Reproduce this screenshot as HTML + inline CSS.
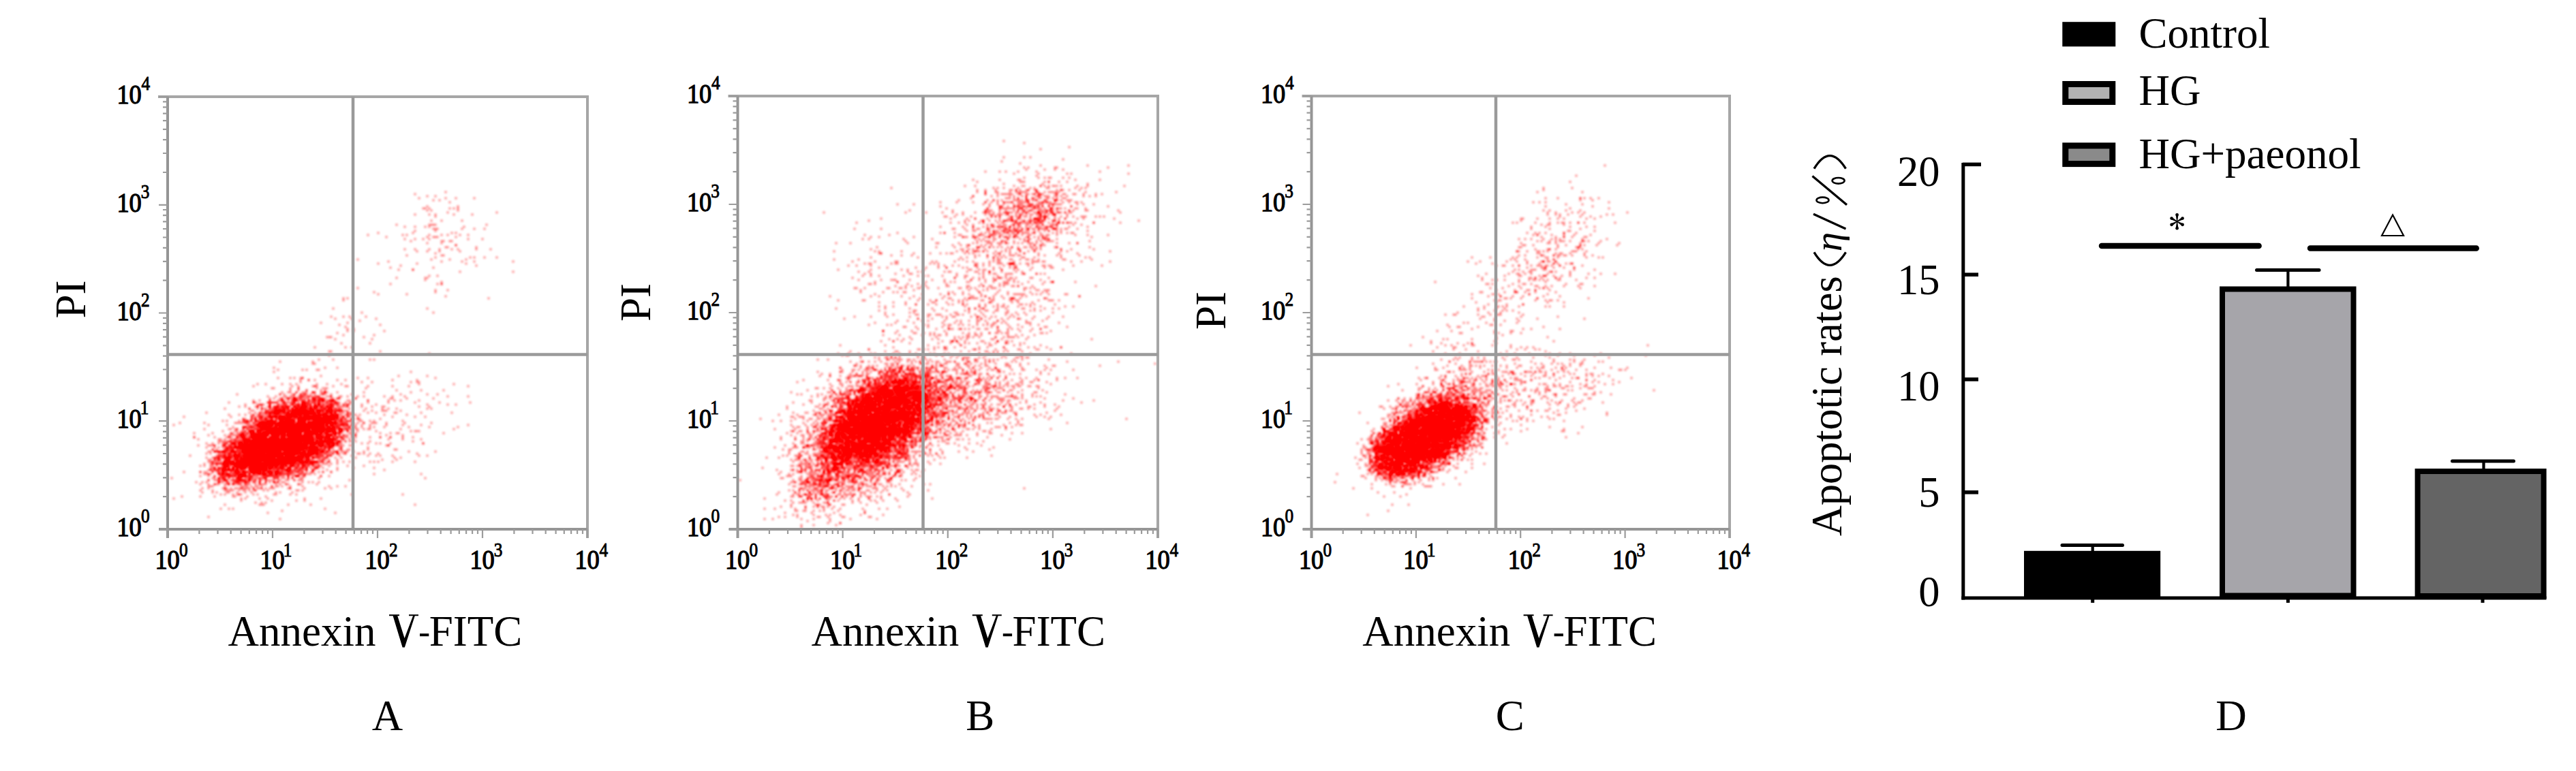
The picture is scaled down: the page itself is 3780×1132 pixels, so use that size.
<!DOCTYPE html><html><head><meta charset="utf-8"><style>html,body{margin:0;padding:0;background:#fff;width:3780px;height:1132px;overflow:hidden}svg{display:block}text{font-family:"Liberation Serif", serif;fill:#000}</style></head><body><svg width="3780" height="1132" viewBox="0 0 3780 1132"><rect width="3780" height="1132" fill="#fff"/><filter id="fA" filterUnits="userSpaceOnUse" x="236.0" y="132.0" width="636.0" height="655.0"><feGaussianBlur stdDeviation="1.4"/><feComponentTransfer><feFuncA type="table" tableValues="0 0.18 0.4 0.7 1 1"/></feComponentTransfer></filter><g filter="url(#fA)" stroke="#f00" stroke-opacity="0.4" stroke-width="3.6" stroke-linecap="square" fill="none"><path d="M627 288h0M615 291h0M660 297h0M627 303h0M630 306h0M633 309h0M582 330h0M633 330h0M642 336h0M678 336h0M627 348h0M660 354h0M663 366h0M672 366h0M699 366h0M612 369h0M627 369h0M696 378h0M711 378h0M678 384h0M642 417h0M639 426h0M597 432h0M495 489h0M558 516h0M543 528h0M495 540h0M408 543h0M465 543h0M603 546h0M432 555h0M453 558h0M531 561h0M435 564h0M489 567h0M540 567h0M474 570h3M426 573h0M423 576h0M444 576h0M477 576h0M534 576h0M411 579h0M441 579h0M474 579h3M429 582h0M501 582h0M510 582h0M564 582h0M396 585h0M402 585h0M435 585h0M462 585h0M498 585h0M522 585h0M381 588h0M429 588h3M453 588h0M459 588h0M468 588h0M474 588h0M486 588h3M540 588h0M372 591h0M396 591h0M405 591h0M417 591h0M429 591h0M444 591h0M453 591h3M468 591h0M480 591h0M486 591h0M495 591h0M513 591h0M417 594h0M426 594h3M438 594h0M444 594h6M468 594h0M486 594h0M492 594h0M510 594h0M627 594h0M351 597h0M360 597h0M417 597h6M435 597h3M447 597h0M456 597h0M462 597h0M480 597h3M564 597h0M615 597h0M330 600h0M405 600h3M414 600h0M420 600h0M429 600h0M435 600h0M441 600h0M450 600h0M456 600h0M462 600h0M471 600h0M477 600h0M483 600h3M513 600h0M537 600h0M402 603h0M414 603h0M423 603h0M432 603h12M450 603h0M456 603h0M462 603h3M471 603h3M480 603h6M495 603h6M567 603h0M588 603h0M384 606h0M390 606h0M396 606h0M405 606h3M414 606h3M423 606h0M429 606h6M441 606h6M453 606h3M462 606h6M480 606h0M492 606h0M618 606h0M381 609h0M396 609h0M423 609h15M444 609h0M450 609h0M456 609h0M462 609h9M477 609h3M489 609h0M495 609h0M519 609h3M384 612h3M396 612h3M405 612h9M420 612h18M444 612h0M450 612h3M477 612h0M486 612h3M495 612h0M504 612h0M525 612h0M381 615h0M390 615h0M405 615h0M411 615h0M417 615h0M426 615h0M435 615h18M459 615h24M516 615h0M525 615h0M360 618h0M366 618h0M378 618h0M384 618h0M393 618h6M414 618h6M426 618h0M432 618h0M438 618h6M459 618h3M474 618h9M492 618h0M498 618h3M510 618h3M549 618h0M348 621h0M354 621h0M360 621h3M372 621h0M384 621h3M393 621h33M435 621h12M453 621h3M465 621h9M480 621h12M501 621h3M546 621h0M552 621h0M255 624h0M369 624h3M378 624h12M399 624h0M411 624h9M426 624h0M435 624h0M444 624h9M462 624h9M486 624h0M495 624h3M504 624h6M375 627h6M387 627h0M405 627h0M411 627h18M438 627h6M450 627h9M465 627h9M483 627h0M492 627h3M510 627h3M519 627h0M564 627h0M357 630h0M363 630h0M384 630h3M393 630h0M405 630h36M447 630h6M465 630h3M489 630h0M501 630h0M507 630h0M525 630h0M543 630h0M327 633h0M345 633h0M357 633h3M366 633h0M372 633h0M378 633h0M387 633h0M393 633h6M405 633h6M417 633h21M444 633h3M456 633h9M471 633h3M483 633h0M501 633h3M510 633h0M603 633h0M609 633h0M354 636h0M363 636h0M369 636h0M375 636h0M381 636h0M387 636h3M396 636h12M417 636h0M423 636h3M435 636h6M450 636h0M456 636h3M465 636h0M471 636h0M492 636h0M498 636h0M513 636h0M558 636h0M306 639h0M336 639h0M351 639h3M369 639h0M375 639h0M381 639h3M399 639h15M423 639h3M432 639h0M438 639h3M450 639h3M462 639h0M468 639h0M483 639h3M507 639h0M285 642h0M339 642h0M348 642h0M357 642h0M366 642h0M372 642h18M399 642h9M414 642h0M429 642h6M441 642h15M465 642h0M471 642h6M483 642h0M498 642h0M324 645h0M330 645h0M345 645h0M360 645h0M375 645h18M399 645h9M414 645h3M423 645h0M429 645h21M456 645h3M468 645h3M477 645h3M486 645h6M504 645h0M513 645h0M327 648h0M345 648h6M357 648h3M372 648h6M384 648h0M393 648h9M408 648h21M435 648h0M441 648h6M459 648h6M471 648h9M489 648h0M507 648h0M303 651h0M330 651h3M342 651h3M354 651h0M360 651h3M369 651h0M378 651h0M384 651h6M396 651h15M417 651h18M450 651h15M471 651h0M489 651h0M495 651h0M501 651h0M531 651h0M558 651h0M291 654h0M330 654h0M348 654h3M360 654h3M369 654h6M381 654h0M387 654h9M402 654h15M426 654h0M441 654h0M447 654h0M456 654h0M471 654h3M480 654h0M486 654h3M570 654h0M303 657h0M315 657h0M333 657h0M339 657h0M345 657h9M360 657h0M366 657h51M426 657h3M435 657h3M444 657h0M453 657h9M477 657h6M489 657h0M318 660h0M330 660h3M342 660h0M348 660h3M357 660h12M375 660h3M387 660h0M393 660h0M399 660h9M414 660h3M423 660h3M438 660h0M444 660h0M453 660h6M474 660h0M483 660h0M489 660h0M510 660h3M315 663h0M339 663h0M348 663h3M357 663h0M363 663h3M372 663h18M396 663h15M417 663h6M429 663h0M435 663h6M447 663h0M453 663h0M459 663h18M309 666h0M336 666h3M345 666h0M354 666h18M378 666h0M384 666h3M393 666h0M399 666h15M426 666h12M444 666h3M456 666h15M480 666h0M507 666h0M330 669h0M342 669h0M351 669h3M363 669h9M378 669h0M384 669h0M390 669h6M402 669h0M411 669h3M420 669h12M438 669h0M444 669h6M456 669h0M468 669h6M486 669h0M516 669h0M552 669h0M327 672h6M339 672h0M345 672h3M354 672h9M369 672h3M381 672h0M387 672h0M393 672h3M402 672h0M408 672h0M423 672h0M429 672h0M435 672h9M459 672h0M330 675h3M351 675h0M357 675h0M363 675h9M378 675h3M387 675h12M405 675h0M411 675h0M423 675h0M429 675h0M435 675h3M453 675h0M312 678h0M330 678h0M336 678h0M342 678h0M348 678h21M375 678h6M390 678h6M402 678h6M420 678h12M444 678h0M450 678h0M456 678h0M462 678h3M483 678h0M609 678h0M318 681h0M324 681h3M333 681h0M342 681h6M357 681h33M396 681h0M402 681h6M414 681h0M420 681h0M429 681h0M456 681h0M480 681h0M294 684h0M327 684h0M333 684h0M342 684h9M363 684h6M378 684h0M384 684h15M405 684h6M420 684h0M426 684h6M438 684h0M453 684h0M312 687h0M321 687h3M330 687h0M336 687h0M348 687h0M354 687h6M369 687h0M375 687h0M381 687h3M390 687h0M396 687h9M411 687h0M423 687h0M465 687h0M549 687h0M318 690h0M327 690h9M342 690h0M348 690h0M360 690h0M369 690h6M381 690h0M390 690h0M402 690h0M408 690h0M414 690h0M423 690h3M441 690h0M450 690h0M459 690h0M270 693h0M294 693h0M312 693h0M321 693h3M330 693h0M345 693h6M369 693h0M375 693h6M387 693h0M393 693h3M405 693h3M414 693h0M423 693h0M435 693h3M444 693h0M474 693h0M306 696h3M348 696h0M357 696h0M366 696h0M372 696h0M390 696h0M396 696h9M414 696h6M441 696h0M447 696h0M315 699h0M351 699h3M363 699h6M384 699h0M390 699h0M396 699h0M405 699h0M435 699h3M447 699h0M471 699h0M321 702h0M366 702h9M390 702h0M402 702h0M423 702h0M468 702h0M624 702h0M306 705h0M330 705h0M354 705h0M363 705h3M375 705h0M381 705h0M432 705h0M324 708h0M333 708h0M348 708h0M363 708h0M381 708h0M390 708h0M402 708h0M417 708h0M318 711h0M336 711h0M381 711h3M420 711h0M312 714h0M297 717h0M306 717h0M327 717h0M345 717h0M357 717h0M366 717h0M372 717h0M330 720h0M312 723h0M336 723h0M351 726h0M378 726h0M516 726h0M267 729h0M294 729h0M360 732h0M393 732h0M447 735h0M477 747h0M393 753h0M492 753h0"/><path d="M654 291h0M669 291h0M696 291h0M624 306h0M729 312h0M630 315h0M639 315h0M693 315h0M630 330h0M639 330h0M714 330h0M696 336h0M639 339h0M591 345h0M675 345h0M594 351h0M630 351h0M687 351h0M720 366h0M633 381h0M648 384h0M588 390h0M648 417h0M549 429h0M717 438h0M489 453h0M513 465h0M492 468h0M528 471h0M504 492h0M546 498h0M501 504h0M543 504h0M483 516h0M549 528h0M462 534h0M402 540h0M477 540h0M450 543h0M468 543h0M627 552h0M426 555h0M444 555h0M576 558h0M465 564h0M480 564h0M666 564h0M372 567h0M438 567h0M462 567h0M687 567h0M402 570h0M438 570h0M465 570h0M435 576h0M459 576h3M471 576h0M432 579h0M444 579h0M462 579h0M627 579h0M444 582h0M459 582h0M468 582h0M486 582h0M423 585h0M432 585h0M441 585h0M459 585h0M471 585h0M477 585h0M486 585h0M414 588h0M435 588h0M444 588h3M453 588h0M465 588h0M474 588h0M480 588h0M489 588h0M540 588h0M393 591h0M417 591h0M423 591h0M444 591h3M468 591h0M474 591h3M486 591h0M492 591h0M516 591h0M540 591h0M690 591h0M381 594h3M396 594h0M420 594h0M432 594h6M444 594h0M453 594h0M465 594h9M480 594h0M489 594h0M504 594h0M531 594h0M396 597h0M411 597h0M423 597h0M432 597h0M444 597h9M459 597h0M465 597h0M474 597h0M489 597h0M495 597h0M378 600h0M387 600h0M402 600h0M411 600h6M423 600h0M429 600h0M441 600h6M456 600h3M465 600h0M477 600h0M627 600h0M384 603h0M390 603h0M405 603h6M417 603h0M435 603h0M444 603h0M459 603h0M468 603h0M480 603h0M489 603h3M498 603h6M510 603h0M564 603h0M381 606h0M396 606h15M417 606h6M429 606h12M450 606h12M468 606h0M474 606h3M483 606h3M492 606h0M504 606h0M540 606h0M552 606h0M582 606h0M360 609h0M369 609h3M399 609h0M414 609h0M429 609h3M441 609h0M447 609h3M462 609h3M477 609h3M486 609h3M495 609h0M528 609h0M270 612h0M375 612h3M384 612h0M393 612h3M402 612h3M411 612h6M423 612h3M435 612h6M447 612h3M459 612h3M468 612h3M477 612h3M486 612h9M510 612h0M576 612h0M375 615h0M387 615h0M393 615h0M399 615h0M408 615h0M414 615h0M420 615h3M429 615h0M441 615h0M447 615h0M453 615h6M471 615h3M486 615h3M495 615h0M501 615h0M507 615h0M519 615h0M357 618h0M363 618h0M369 618h0M375 618h0M396 618h3M420 618h0M426 618h6M438 618h9M453 618h0M465 618h3M474 618h6M486 618h0M492 618h0M501 618h3M381 621h0M387 621h0M396 621h0M411 621h0M420 621h9M453 621h0M459 621h3M468 621h6M480 621h9M498 621h0M534 621h0M306 624h0M378 624h0M384 624h0M393 624h6M405 624h0M411 624h6M423 624h24M456 624h6M468 624h6M480 624h0M486 624h0M495 624h0M504 624h3M522 624h0M357 627h3M366 627h0M390 627h6M402 627h0M411 627h0M417 627h0M429 627h0M435 627h0M441 627h12M459 627h0M465 627h0M471 627h9M489 627h0M495 627h3M543 627h0M348 630h0M366 630h0M372 630h0M387 630h6M399 630h0M408 630h3M417 630h3M426 630h0M432 630h0M438 630h3M450 630h0M459 630h3M468 630h9M486 630h6M507 630h0M516 630h0M522 630h0M369 633h3M381 633h0M387 633h0M396 633h15M420 633h12M438 633h6M450 633h3M459 633h3M480 633h3M489 633h0M498 633h0M525 633h0M612 633h3M285 636h0M339 636h0M366 636h3M378 636h0M384 636h0M390 636h9M408 636h0M417 636h0M423 636h3M438 636h0M447 636h9M462 636h3M471 636h0M480 636h0M330 639h0M354 639h0M360 639h0M369 639h0M375 639h3M384 639h3M393 639h0M399 639h9M417 639h0M423 639h0M429 639h12M447 639h12M465 639h6M480 639h12M498 639h0M504 639h0M510 639h0M336 642h0M354 642h3M369 642h3M378 642h0M384 642h0M390 642h0M396 642h0M402 642h3M414 642h3M423 642h0M429 642h0M435 642h3M447 642h24M489 642h0M495 642h0M504 642h0M543 642h0M558 642h0M573 642h0M591 642h0M606 642h0M321 645h0M345 645h0M354 645h3M372 645h12M390 645h0M396 645h0M402 645h9M417 645h6M432 645h6M444 645h0M453 645h3M462 645h0M471 645h0M480 645h6M501 645h0M519 645h0M339 648h3M357 648h3M366 648h6M393 648h12M411 648h30M450 648h9M483 648h0M489 648h0M498 648h3M507 648h0M543 648h0M321 651h0M339 651h0M351 651h0M363 651h12M384 651h3M393 651h15M414 651h3M423 651h0M429 651h0M435 651h3M444 651h3M462 651h0M471 651h6M483 651h6M495 651h0M540 651h0M573 651h0M306 654h0M327 654h0M339 654h0M345 654h0M354 654h6M366 654h21M396 654h6M408 654h3M420 654h0M426 654h0M432 654h0M447 654h3M459 654h0M468 654h6M483 654h0M489 654h0M495 654h0M339 657h0M345 657h9M360 657h0M366 657h6M378 657h0M384 657h9M402 657h12M423 657h0M432 657h0M438 657h18M465 657h0M474 657h3M483 657h0M498 657h3M540 657h0M312 660h0M333 660h6M357 660h12M375 660h0M384 660h12M402 660h0M411 660h3M423 660h12M441 660h0M447 660h6M462 660h0M471 660h0M477 660h0M483 660h0M582 660h0M315 663h3M324 663h3M333 663h0M342 663h3M351 663h0M357 663h27M390 663h3M399 663h3M408 663h0M423 663h9M438 663h0M444 663h3M453 663h0M465 663h0M471 663h0M492 663h0M333 666h3M345 666h0M351 666h0M360 666h9M375 666h0M381 666h6M393 666h3M402 666h3M411 666h0M417 666h3M435 666h0M441 666h3M450 666h6M465 666h0M474 666h3M486 666h3M495 666h0M534 666h0M543 666h0M555 666h0M321 669h6M336 669h3M345 669h3M354 669h15M375 669h0M381 669h12M399 669h9M414 669h0M420 669h15M444 669h0M453 669h0M462 669h0M474 669h0M486 669h0M615 669h0M303 672h0M321 672h0M327 672h3M342 672h3M351 672h0M357 672h3M366 672h3M378 672h0M384 672h9M399 672h3M414 672h15M435 672h0M441 672h0M450 672h0M462 672h3M480 672h0M309 675h0M321 675h0M333 675h3M345 675h6M357 675h3M366 675h9M381 675h3M390 675h6M405 675h12M423 675h0M432 675h12M450 675h3M495 675h0M306 678h0M318 678h0M330 678h0M336 678h0M342 678h0M351 678h0M357 678h0M369 678h3M378 678h0M390 678h3M399 678h0M405 678h0M411 678h9M426 678h3M435 678h0M441 678h0M456 678h6M471 678h0M309 681h0M318 681h3M327 681h6M339 681h0M345 681h0M354 681h9M369 681h9M390 681h3M399 681h9M423 681h9M441 681h9M459 681h0M486 681h0M300 684h0M327 684h6M345 684h0M354 684h9M372 684h0M384 684h0M390 684h9M405 684h0M414 684h0M420 684h0M429 684h0M438 684h0M444 684h3M453 684h0M468 684h0M324 687h0M336 687h0M342 687h0M354 687h0M360 687h0M366 687h6M387 687h0M393 687h3M405 687h0M414 687h0M423 687h3M435 687h0M441 687h3M450 687h0M465 687h0M309 690h0M315 690h3M327 690h0M333 690h0M339 690h0M345 690h3M354 690h0M366 690h3M375 690h6M387 690h0M393 690h3M408 690h0M417 690h3M435 690h3M459 690h0M564 690h0M318 693h0M327 693h0M348 693h0M357 693h6M369 693h0M378 693h0M396 693h3M405 693h0M414 693h0M420 693h3M429 693h0M459 693h0M474 693h0M486 693h0M300 696h0M327 696h6M351 696h0M360 696h0M372 696h0M378 696h15M408 696h3M423 696h0M447 696h0M456 696h0M462 696h0M618 696h0M324 699h6M339 699h0M351 699h0M357 699h6M393 699h0M408 699h3M435 699h0M471 699h0M312 702h0M324 702h3M336 702h0M348 702h6M378 702h3M387 702h0M321 705h0M342 705h3M351 705h0M357 705h0M366 705h0M381 705h0M423 705h0M321 708h0M345 708h3M372 708h0M381 708h0M390 708h0M453 708h0M459 708h0M468 708h0M321 711h0M342 711h12M366 711h0M375 714h0M399 714h0M405 714h0M333 717h0M363 717h0M381 717h3M426 717h0M375 720h0M393 720h0M438 720h0M297 723h0M318 723h0M348 723h0M348 726h0M345 729h0M255 732h0M447 732h0M471 732h0M399 735h0M330 741h0M381 741h0M609 741h0M324 747h0M414 750h0"/><path d="M636 294h0M645 294h0M666 306h0M627 309h0M666 315h0M636 330h0M594 333h0M624 333h0M681 333h0M636 336h0M609 339h0M597 345h0M708 351h0M603 354h0M699 363h0M645 366h0M648 375h0M729 378h0M660 381h0M684 387h0M606 396h0M624 408h3M624 411h0M648 414h0M648 417h0M657 426h0M639 429h0M555 432h0M504 441h0M510 474h0M510 483h0M549 492h0M486 495h0M507 510h0M516 510h0M486 516h0M459 531h0M444 543h0M471 552h0M441 555h0M525 555h0M540 555h0M615 561h0M390 564h0M426 564h0M615 564h0M510 567h0M477 573h0M414 576h0M426 576h0M447 576h0M480 576h0M495 576h0M348 579h0M450 579h0M642 579h0M405 582h0M420 582h0M432 582h0M441 582h0M447 582h0M456 582h0M468 582h0M486 582h0M657 582h0M687 582h0M411 585h0M423 585h0M435 585h0M450 585h0M462 585h0M471 585h3M495 585h0M522 585h0M636 585h0M414 588h0M423 588h0M432 588h6M462 588h0M474 588h0M483 588h0M510 588h3M375 591h0M408 591h0M420 591h0M426 591h0M432 591h0M453 591h0M462 591h0M492 591h0M570 591h0M609 591h0M378 594h3M408 594h12M429 594h0M435 594h0M441 594h12M462 594h0M468 594h0M477 594h0M486 594h3M504 594h3M513 594h0M375 597h3M396 597h0M408 597h0M414 597h0M420 597h0M432 597h0M438 597h9M456 597h0M471 597h0M480 597h0M486 597h0M498 597h0M510 597h0M531 597h0M561 597h0M366 600h0M384 600h0M396 600h3M405 600h3M423 600h0M429 600h0M435 600h0M444 600h0M453 600h3M462 600h0M477 600h0M486 600h0M495 600h3M561 600h0M633 600h0M399 603h3M426 603h0M432 603h0M444 603h0M450 603h0M456 603h3M468 603h0M492 603h3M501 603h0M507 603h0M393 606h0M402 606h3M411 606h3M423 606h3M435 606h9M450 606h0M459 606h9M474 606h3M486 606h0M498 606h3M513 606h0M351 609h0M396 609h0M402 609h0M408 609h3M420 609h0M426 609h3M438 609h0M444 609h6M468 609h0M474 609h0M486 609h0M510 609h0M516 609h0M597 609h0M369 612h0M381 612h0M390 612h3M399 612h0M405 612h12M426 612h0M432 612h0M441 612h0M447 612h0M453 612h0M465 612h9M480 612h12M513 612h0M609 612h0M624 612h0M369 615h0M384 615h0M390 615h0M411 615h0M417 615h0M447 615h0M462 615h27M558 615h0M327 618h0M333 618h0M360 618h3M375 618h0M387 618h6M405 618h0M411 618h3M423 618h6M444 618h6M465 618h3M477 618h6M528 618h0M543 618h0M363 621h0M378 621h6M393 621h3M402 621h0M408 621h6M420 621h3M429 621h3M438 621h0M444 621h3M456 621h3M465 621h3M474 621h0M483 621h9M504 621h3M519 621h0M567 621h0M363 624h0M390 624h0M396 624h0M405 624h3M414 624h15M435 624h0M441 624h9M456 624h0M462 624h3M471 624h3M480 624h0M486 624h3M501 624h0M510 624h0M687 624h0M342 627h0M357 627h0M381 627h3M390 627h0M396 627h3M405 627h0M411 627h0M420 627h0M429 627h0M435 627h9M450 627h0M456 627h0M462 627h9M480 627h3M489 627h0M513 627h0M348 630h0M363 630h0M369 630h0M375 630h0M381 630h0M390 630h0M396 630h12M414 630h0M420 630h3M432 630h27M465 630h0M474 630h0M480 630h0M489 630h3M498 630h6M348 633h0M369 633h0M378 633h3M390 633h0M399 633h0M405 633h12M423 633h12M441 633h0M450 633h0M456 633h0M462 633h0M468 633h6M480 633h12M501 633h0M363 636h0M375 636h0M390 636h3M399 636h6M414 636h3M423 636h0M432 636h9M447 636h0M453 636h9M480 636h0M486 636h12M522 636h0M582 636h0M345 639h0M363 639h0M372 639h6M384 639h9M402 639h3M417 639h15M438 639h0M447 639h9M465 639h3M480 639h0M486 639h0M492 639h0M591 639h0M333 642h0M357 642h6M372 642h9M387 642h0M402 642h0M414 642h3M426 642h3M435 642h3M444 642h0M450 642h6M465 642h3M477 642h6M489 642h0M495 642h0M501 642h0M510 642h0M516 642h0M348 645h0M357 645h0M363 645h24M396 645h3M405 645h3M414 645h0M423 645h6M435 645h9M450 645h6M477 645h0M483 645h3M492 645h0M324 648h0M336 648h0M348 648h6M366 648h6M378 648h15M399 648h3M411 648h3M420 648h12M438 648h3M447 648h9M465 648h0M471 648h0M477 648h0M483 648h3M495 648h3M513 648h3M606 648h0M342 651h3M351 651h3M363 651h0M369 651h3M378 651h9M393 651h0M399 651h3M408 651h0M417 651h0M423 651h3M432 651h12M450 651h0M459 651h0M465 651h3M480 651h0M489 651h9M621 651h0M312 654h0M330 654h0M354 654h39M399 654h0M405 654h18M429 654h9M444 654h3M462 654h0M471 654h0M483 654h0M489 654h0M495 654h0M327 657h9M348 657h0M354 657h0M366 657h15M387 657h0M396 657h30M432 657h9M447 657h0M456 657h9M471 657h0M477 657h0M486 657h0M330 660h0M354 660h0M360 660h0M366 660h9M381 660h9M396 660h3M405 660h3M417 660h21M444 660h0M465 660h0M483 660h0M540 660h0M321 663h0M330 663h0M339 663h0M345 663h0M354 663h3M372 663h0M384 663h9M399 663h0M411 663h0M417 663h3M426 663h18M450 663h0M456 663h6M474 663h0M480 663h0M495 663h0M510 663h0M303 666h0M324 666h0M330 666h0M351 666h0M360 666h0M366 666h9M381 666h0M387 666h0M393 666h0M402 666h9M417 666h18M444 666h3M453 666h0M459 666h0M465 666h0M495 666h3M324 669h0M330 669h9M345 669h3M357 669h0M366 669h12M387 669h9M405 669h0M411 669h0M420 669h3M429 669h0M438 669h0M447 669h3M471 669h0M558 669h0M312 672h0M321 672h0M333 672h0M354 672h0M360 672h6M372 672h3M381 672h9M402 672h0M411 672h0M417 672h3M426 672h18M453 672h0M459 672h0M465 672h0M474 672h6M492 672h0M579 672h0M315 675h0M321 675h0M336 675h0M354 675h9M369 675h3M378 675h0M384 675h12M402 675h3M414 675h6M426 675h0M432 675h12M450 675h0M468 675h0M483 675h0M330 678h3M348 678h0M354 678h0M360 678h6M372 678h6M384 678h0M393 678h6M408 678h18M432 678h6M447 678h0M453 678h0M459 678h0M474 678h0M480 678h0M504 678h0M543 678h0M300 681h0M312 681h0M324 681h0M330 681h3M342 681h3M351 681h45M408 681h0M414 681h3M435 681h0M444 681h0M459 681h0M318 684h0M333 684h3M351 684h3M363 684h15M384 684h6M396 684h6M408 684h0M414 684h0M420 684h0M426 684h0M450 684h0M459 684h3M468 684h3M534 684h0M309 687h0M315 687h0M321 687h0M327 687h0M336 687h0M342 687h0M348 687h0M360 687h3M369 687h3M384 687h3M396 687h0M402 687h0M408 687h9M435 687h0M495 687h0M324 690h0M330 690h0M336 690h3M348 690h0M354 690h0M381 690h0M387 690h3M399 690h0M414 690h9M441 690h0M450 690h0M462 690h0M294 693h0M330 693h0M345 693h0M357 693h0M363 693h3M372 693h3M381 693h3M390 693h0M396 693h3M417 693h0M432 693h0M444 693h0M450 693h0M459 693h0M303 696h3M321 696h15M348 696h0M375 696h6M387 696h0M411 696h0M432 696h0M438 696h0M315 699h0M330 699h9M351 699h9M396 699h0M402 699h3M423 699h0M435 699h0M447 699h0M327 702h0M351 702h0M363 702h3M387 702h3M402 702h6M414 702h3M429 702h0M306 705h0M315 705h0M330 705h3M339 705h0M348 705h3M357 705h0M366 705h3M375 705h0M408 705h0M444 705h0M288 708h0M297 708h0M348 708h6M360 708h0M372 708h0M381 708h0M396 708h0M402 708h0M408 708h0M444 708h0M315 711h0M333 711h0M342 711h0M360 711h0M381 711h0M309 714h0M357 714h3M507 714h0M360 717h0M390 717h0M426 717h0M477 717h0M333 720h3M369 723h0M429 723h0M354 726h0M435 726h0M342 729h0M390 729h0M354 735h0M456 741h0"/><path d="M609 285h0M621 306h0M660 306h0M672 309h0M657 312h0M639 318h0M648 324h0M678 324h0M630 333h0M639 336h0M663 342h0M657 345h0M636 348h0M609 351h0M669 360h0M657 363h0M594 366h0M597 375h0M639 378h0M612 387h0M753 399h0M642 405h0M573 417h0M504 438h0M486 465h0M552 468h0M471 474h0M498 477h0M558 477h0M510 486h0M534 495h0M483 522h0M459 534h0M585 552h0M444 555h0M462 558h0M441 561h0M546 561h0M603 561h0M378 564h0M414 564h0M429 567h0M507 567h0M399 570h0M426 570h0M438 570h0M450 573h0M450 576h0M477 576h0M603 576h0M429 579h3M441 582h3M453 582h0M465 582h0M480 582h3M534 582h0M576 582h0M414 585h0M432 585h0M453 585h0M459 585h0M468 585h3M498 585h0M573 585h0M396 588h0M408 588h0M417 588h0M429 588h0M435 588h0M441 588h0M468 588h6M483 588h6M579 588h0M588 588h0M615 588h0M336 591h0M402 591h0M414 591h0M429 591h3M444 591h3M468 591h0M480 591h0M495 591h0M384 594h0M396 594h0M438 594h0M456 594h0M468 594h0M474 594h0M510 594h0M657 594h0M396 597h0M405 597h0M414 597h0M432 597h0M441 597h0M456 597h0M462 597h3M477 597h9M504 597h0M546 597h0M630 597h0M384 600h0M405 600h0M429 600h3M447 600h0M459 600h6M471 600h3M483 600h0M492 600h0M570 600h0M582 600h0M369 603h0M393 603h0M405 603h12M423 603h3M432 603h0M438 603h0M447 603h3M459 603h0M468 603h3M480 603h6M495 603h0M561 603h0M366 606h0M381 606h0M405 606h3M420 606h0M429 606h0M438 606h3M447 606h12M480 606h6M492 606h0M510 606h0M336 609h0M372 609h0M381 609h3M393 609h0M405 609h0M420 609h0M426 609h0M432 609h3M441 609h0M450 609h6M474 609h3M492 609h3M501 609h0M513 609h0M372 612h0M384 612h0M396 612h6M411 612h0M423 612h6M435 612h0M444 612h0M456 612h12M480 612h3M492 612h3M504 612h0M372 615h0M381 615h0M396 615h0M411 615h0M420 615h6M438 615h0M447 615h0M453 615h0M462 615h0M468 615h0M483 615h12M357 618h0M363 618h0M381 618h0M393 618h0M399 618h3M411 618h6M423 618h0M429 618h3M438 618h3M447 618h0M453 618h0M462 618h12M480 618h0M486 618h0M495 618h0M510 618h3M351 621h0M357 621h3M372 621h0M390 621h3M399 621h3M411 621h15M441 621h6M453 621h3M462 621h0M468 621h9M486 621h0M492 621h3M501 621h0M507 621h0M633 621h0M375 624h3M387 624h3M399 624h0M405 624h3M414 624h12M438 624h6M450 624h0M456 624h6M471 624h9M486 624h0M492 624h0M498 624h6M516 624h0M567 624h0M618 624h0M360 627h0M369 627h0M381 627h12M405 627h0M411 627h0M417 627h0M426 627h12M453 627h3M462 627h3M471 627h6M483 627h0M489 627h9M504 627h0M513 627h0M375 630h9M390 630h3M399 630h3M408 630h15M429 630h3M438 630h0M444 630h0M453 630h0M459 630h3M468 630h3M477 630h0M483 630h3M498 630h0M510 630h3M534 630h0M369 633h0M378 633h6M396 633h15M417 633h0M423 633h6M435 633h0M441 633h0M447 633h9M468 633h3M477 633h9M492 633h0M498 633h0M312 636h0M339 636h0M357 636h3M369 636h3M387 636h12M405 636h12M423 636h18M450 636h0M456 636h3M465 636h0M471 636h0M477 636h0M492 636h0M498 636h0M573 636h0M339 639h3M351 639h6M375 639h0M381 639h9M399 639h0M405 639h12M423 639h0M429 639h9M444 639h0M453 639h6M474 639h0M480 639h6M492 639h0M498 639h0M504 639h0M519 639h0M354 642h0M366 642h21M396 642h6M408 642h6M426 642h0M435 642h6M447 642h6M459 642h0M465 642h3M474 642h0M480 642h0M501 642h0M573 642h0M351 645h0M357 645h9M381 645h0M387 645h0M393 645h3M402 645h0M408 645h0M414 645h12M432 645h6M450 645h6M465 645h0M471 645h0M483 645h0M591 645h0M321 648h0M339 648h0M354 648h0M360 648h3M369 648h15M393 648h6M408 648h3M417 648h3M426 648h15M447 648h6M465 648h0M471 648h15M492 648h0M498 648h0M342 651h0M351 651h9M372 651h9M390 651h0M396 651h0M405 651h6M417 651h0M429 651h3M438 651h3M447 651h0M456 651h0M462 651h0M471 651h3M480 651h0M486 651h0M492 651h3M621 651h0M315 654h0M336 654h0M342 654h3M351 654h3M360 654h3M369 654h12M387 654h0M393 654h18M417 654h0M423 654h0M429 654h6M441 654h9M459 654h3M468 654h15M489 654h3M570 654h0M321 657h0M333 657h15M354 657h12M372 657h3M381 657h12M405 657h0M411 657h0M417 657h21M447 657h6M459 657h6M480 657h6M501 657h0M312 660h0M336 660h6M348 660h0M354 660h0M360 660h3M369 660h6M381 660h6M393 660h9M408 660h3M417 660h9M432 660h9M450 660h0M456 660h0M462 660h12M483 660h0M579 660h0M309 663h0M318 663h0M324 663h6M342 663h3M357 663h3M369 663h6M381 663h6M393 663h18M420 663h18M447 663h0M456 663h0M462 663h0M471 663h0M480 663h0M486 663h6M507 663h0M534 663h0M600 663h0M321 666h0M330 666h0M348 666h0M363 666h3M378 666h30M414 666h3M426 666h9M441 666h0M453 666h6M468 666h0M477 666h0M483 666h0M495 666h0M612 666h0M345 669h6M360 669h54M420 669h3M444 669h0M450 669h9M465 669h0M480 669h3M498 669h0M627 669h0M318 672h0M324 672h0M336 672h0M345 672h3M354 672h0M369 672h24M399 672h3M408 672h0M414 672h0M423 672h0M432 672h0M438 672h0M444 672h9M468 672h0M522 672h0M588 672h0M306 675h0M315 675h3M324 675h0M333 675h0M360 675h0M366 675h0M372 675h0M378 675h6M390 675h9M411 675h0M417 675h0M429 675h0M435 675h0M441 675h0M447 675h0M456 675h0M477 675h0M561 675h0M582 675h0M330 678h3M339 678h3M348 678h0M357 678h12M375 678h6M387 678h24M420 678h9M441 678h0M447 678h3M459 678h12M549 678h0M312 681h0M330 681h9M348 681h6M366 681h6M378 681h3M387 681h9M402 681h3M411 681h3M420 681h6M447 681h0M453 681h6M465 681h0M495 681h0M330 684h0M345 684h6M357 684h3M369 684h0M378 684h12M399 684h0M405 684h0M414 684h0M432 684h0M438 684h0M444 684h0M465 684h0M510 684h0M315 687h0M330 687h0M342 687h0M348 687h6M366 687h3M375 687h0M381 687h3M390 687h0M396 687h3M414 687h0M423 687h3M438 687h6M462 687h0M519 687h0M315 690h0M327 690h0M336 690h0M342 690h0M351 690h0M357 690h0M366 690h21M408 690h3M420 690h0M426 690h0M432 690h0M438 690h0M444 690h0M495 690h0M327 693h0M348 693h0M354 693h0M360 693h0M369 693h3M378 693h0M387 693h0M396 693h0M402 693h9M486 693h0M321 696h0M327 696h0M333 696h0M339 696h3M348 696h0M354 696h0M360 696h0M366 696h0M381 696h0M387 696h0M396 696h0M405 696h0M426 696h0M294 699h0M306 699h0M324 699h0M336 699h0M342 699h3M354 699h3M369 699h3M378 699h0M387 699h0M393 699h0M402 699h0M414 699h0M423 699h0M429 699h3M315 702h0M321 702h0M330 702h0M348 702h3M360 702h0M366 702h0M405 702h3M423 702h0M444 702h0M324 705h3M354 705h3M372 705h0M384 705h0M390 705h3M441 705h0M321 708h0M336 708h0M351 708h0M360 708h0M402 708h0M408 708h0M294 711h0M306 711h0M342 711h0M351 711h0M375 711h0M438 711h3M354 714h0M363 714h0M378 714h0M399 714h0M444 714h0M483 714h0M354 717h0M378 717h0M447 717h0M486 717h0M339 720h0M360 720h0M366 720h0M375 720h0M360 723h0M372 726h0M402 726h3M354 732h0M384 738h0M390 738h0M384 741h0M336 747h0M342 747h0"/><path d="M654 282h0M672 306h0M555 342h0M540 345h0M630 345h0M648 345h0M687 345h0M567 348h0M642 348h0M669 348h0M651 354h0M627 357h0M654 363h0M609 366h0M630 366h0M675 369h0M651 375h0M570 384h0M753 384h0M555 387h0M573 393h0M636 393h0M606 396h0M675 399h0M630 405h0M510 438h0M531 459h0M636 459h0M519 486h0M564 486h0M468 528h0M489 528h0M411 531h0M402 546h0M441 558h0M453 558h0M495 558h0M612 561h0M462 567h3M600 567h0M537 570h0M438 573h0M450 573h0M618 573h0M651 573h0M459 576h3M411 579h0M447 579h0M474 579h0M516 579h0M393 582h0M417 582h0M453 582h0M462 582h0M498 582h0M594 582h0M426 585h6M438 585h0M444 585h3M459 585h3M468 585h0M489 585h0M597 585h0M396 588h0M411 588h0M444 588h3M462 588h0M471 588h3M489 588h3M372 591h0M396 591h9M450 591h0M459 591h6M507 591h0M645 591h0M387 594h0M396 594h0M429 594h0M447 594h0M456 594h0M462 594h0M483 594h3M495 594h3M378 597h0M402 597h6M414 597h0M420 597h0M426 597h0M432 597h6M444 597h0M450 597h0M462 597h3M471 597h3M480 597h0M501 597h0M510 597h0M366 600h0M396 600h0M417 600h6M435 600h3M444 600h12M480 600h6M498 600h3M396 603h3M405 603h6M417 603h0M429 603h12M447 603h0M453 603h6M465 603h0M471 603h3M480 603h9M498 603h0M546 603h0M390 606h0M399 606h0M405 606h3M429 606h0M435 606h24M468 606h3M480 606h0M486 606h0M516 606h0M663 606h0M378 609h0M396 609h0M408 609h0M417 609h15M438 609h3M447 609h0M453 609h0M459 609h3M471 609h0M477 609h0M492 609h0M510 609h0M564 609h0M339 612h0M369 612h0M396 612h0M405 612h0M417 612h0M423 612h3M432 612h3M441 612h0M450 612h9M465 612h3M474 612h12M504 612h0M357 615h0M369 615h0M375 615h0M384 615h0M390 615h0M399 615h0M405 615h9M432 615h0M438 615h21M465 615h3M477 615h0M483 615h21M516 615h0M525 615h0M351 618h0M375 618h0M384 618h3M402 618h3M414 618h0M420 618h9M438 618h0M444 618h3M459 618h9M477 618h0M489 618h3M498 618h0M507 618h0M591 618h0M345 621h0M366 621h0M381 621h15M402 621h0M414 621h6M426 621h3M435 621h6M447 621h18M474 621h0M480 621h0M486 621h0M492 621h0M516 621h0M534 621h0M594 621h0M333 624h0M375 624h0M381 624h0M387 624h0M396 624h3M408 624h0M417 624h15M438 624h12M456 624h9M471 624h0M480 624h0M486 624h0M501 624h0M510 624h0M531 624h0M543 624h0M591 624h0M360 627h0M366 627h6M387 627h6M405 627h0M414 627h9M429 627h9M444 627h9M459 627h0M474 627h0M483 627h0M531 627h0M549 627h0M630 627h0M672 627h0M339 630h0M345 630h0M384 630h0M393 630h18M420 630h6M432 630h0M438 630h15M459 630h0M465 630h6M480 630h9M498 630h3M666 630h0M366 633h6M378 633h0M390 633h6M402 633h0M414 633h24M444 633h0M450 633h0M465 633h3M474 633h3M483 633h6M501 633h0M510 633h0M516 633h0M348 636h0M357 636h0M369 636h3M381 636h12M399 636h15M420 636h0M426 636h6M441 636h0M453 636h0M462 636h9M477 636h3M489 636h6M501 636h0M651 636h0M348 639h0M354 639h6M366 639h0M372 639h9M387 639h6M402 639h6M414 639h3M423 639h0M429 639h9M447 639h3M465 639h3M474 639h6M516 639h0M522 639h0M567 639h0M285 642h0M348 642h0M357 642h3M369 642h6M381 642h9M402 642h3M420 642h0M426 642h0M432 642h3M441 642h6M453 642h0M459 642h0M468 642h9M483 642h0M495 642h0M501 642h0M507 642h0M291 645h0M342 645h0M360 645h0M366 645h0M375 645h0M381 645h12M399 645h6M411 645h0M417 645h0M429 645h6M441 645h0M447 645h0M453 645h6M468 645h3M477 645h0M483 645h0M489 645h0M495 645h0M504 645h0M570 645h0M618 645h0M333 648h0M360 648h9M375 648h33M423 648h3M432 648h3M441 648h0M447 648h3M456 648h3M465 648h6M477 648h3M486 648h0M498 648h0M312 651h0M330 651h0M342 651h6M354 651h0M360 651h0M366 651h0M372 651h3M381 651h15M402 651h12M420 651h12M438 651h3M447 651h9M462 651h0M468 651h6M483 651h0M552 651h0M309 654h0M330 654h0M339 654h0M345 654h0M354 654h3M366 654h12M384 654h3M393 654h3M402 654h6M414 654h9M429 654h0M444 654h6M456 654h0M468 654h3M486 654h0M498 654h0M513 654h3M567 654h0M342 657h0M351 657h0M357 657h18M381 657h3M390 657h12M408 657h3M420 657h12M438 657h9M456 657h6M333 660h0M342 660h0M351 660h0M357 660h0M363 660h3M375 660h0M384 660h0M390 660h3M405 660h0M417 660h6M432 660h3M441 660h0M447 660h3M456 660h12M498 660h3M306 663h0M315 663h0M321 663h0M327 663h6M342 663h0M354 663h0M360 663h0M366 663h21M393 663h3M405 663h0M411 663h0M420 663h12M438 663h0M447 663h0M453 663h0M459 663h3M474 663h0M483 663h0M495 663h0M504 663h0M519 663h0M339 666h3M363 666h6M375 666h6M387 666h0M393 666h3M402 666h3M414 666h12M432 666h0M438 666h0M444 666h9M459 666h6M471 666h0M504 666h3M528 666h0M318 669h0M330 669h0M345 669h3M360 669h9M375 669h6M387 669h3M396 669h12M429 669h0M441 669h3M450 669h0M456 669h0M480 669h0M540 669h0M576 669h0M315 672h0M330 672h0M336 672h3M360 672h6M372 672h12M390 672h0M396 672h3M405 672h3M414 672h15M435 672h6M459 672h3M471 672h0M477 672h0M501 672h0M321 675h0M336 675h0M345 675h3M354 675h0M360 675h0M366 675h12M384 675h3M393 675h0M402 675h0M408 675h15M429 675h3M438 675h3M450 675h3M459 675h0M471 675h3M312 678h3M321 678h9M336 678h3M345 678h30M390 678h0M408 678h3M417 678h3M426 678h6M441 678h3M450 678h0M456 678h0M462 678h3M513 678h0M555 678h0M576 678h0M318 681h3M327 681h0M333 681h12M354 681h0M360 681h3M369 681h15M390 681h3M399 681h0M408 681h3M417 681h0M429 681h0M435 681h3M450 681h6M462 681h0M468 681h0M477 681h0M309 684h3M333 684h0M348 684h0M357 684h3M369 684h9M384 684h6M396 684h0M402 684h3M414 684h3M426 684h3M435 684h0M447 684h0M483 684h0M315 687h0M330 687h3M342 687h3M351 687h9M369 687h12M387 687h9M405 687h3M417 687h0M423 687h0M432 687h0M444 687h0M450 687h0M456 687h0M462 687h0M468 687h0M306 690h0M312 690h0M321 690h0M330 690h0M339 690h0M345 690h3M357 690h0M369 690h0M375 690h9M390 690h6M402 690h0M423 690h0M447 690h3M300 693h3M321 693h0M333 693h0M339 693h0M345 693h0M351 693h0M357 693h6M369 693h3M378 693h9M393 693h0M399 693h0M405 693h0M411 693h0M423 693h6M438 693h3M468 693h0M333 696h3M342 696h3M354 696h3M366 696h0M381 696h9M396 696h3M405 696h3M423 696h3M441 696h0M450 696h3M549 696h0M333 699h12M351 699h9M369 699h0M393 699h0M399 699h0M408 699h0M438 699h0M444 699h0M483 699h0M252 702h0M327 702h3M348 702h0M381 702h0M441 702h0M330 705h3M345 705h0M351 705h0M360 705h0M390 705h0M396 705h6M420 705h0M438 705h0M513 705h0M303 708h0M321 708h0M327 708h0M345 708h0M360 708h0M366 708h0M405 708h0M315 711h0M336 711h0M360 711h0M390 711h0M306 714h0M369 714h0M384 714h0M408 714h0M495 714h0M330 717h0M348 717h6M372 717h0M384 717h0M402 717h0M423 717h0M312 720h0M342 720h0M351 720h0M387 720h0M333 723h0M324 726h0M351 726h0M363 729h0M381 732h0M435 735h0M387 741h0M423 741h0M306 759h0M411 762h0"/><path d="M639 288h0M672 303h0M609 315h0M633 324h0M609 333h0M711 336h0M606 342h0M669 342h0M639 348h0M621 351h0M648 354h0M663 354h0M648 357h0M669 360h0M645 369h0M639 372h0M690 378h0M525 381h0M684 381h0M696 384h0M699 390h0M585 396h0M582 408h0M525 423h0M654 435h0M627 453h0M504 465h0M537 465h0M516 468h0M507 480h0M519 483h0M480 495h3M492 498h0M462 510h0M630 519h0M408 555h0M639 555h0M507 558h0M612 558h0M501 564h0M459 567h0M576 567h0M480 570h0M471 573h0M582 573h0M435 576h0M459 576h0M474 576h3M417 579h0M441 579h0M447 579h0M456 579h0M471 579h0M486 579h0M588 579h0M426 582h0M438 582h0M450 582h0M465 582h0M525 582h0M414 585h0M420 585h3M432 585h0M441 585h0M465 585h0M474 585h0M495 585h0M576 585h0M372 588h0M414 588h0M432 588h0M453 588h9M468 588h0M477 588h0M486 588h0M570 588h0M393 591h0M399 591h0M417 591h0M432 591h0M438 591h0M444 591h6M459 591h0M471 591h0M483 591h0M489 591h3M498 591h0M360 594h0M408 594h0M444 594h0M462 594h0M468 594h0M483 594h0M495 594h0M552 594h0M669 594h0M378 597h0M384 597h0M393 597h3M402 597h6M417 597h0M423 597h0M444 597h0M450 597h0M462 597h9M486 597h3M507 597h0M390 600h0M402 600h0M411 600h0M417 600h0M435 600h9M468 600h0M474 600h0M483 600h0M489 600h3M372 603h0M390 603h3M411 603h9M426 603h21M453 603h0M459 603h0M465 603h3M474 603h3M486 603h0M534 603h0M303 606h0M375 606h0M387 606h18M417 606h0M423 606h0M429 606h6M447 606h9M468 606h0M489 606h3M510 606h0M579 606h0M387 609h3M402 609h3M411 609h0M423 609h0M459 609h3M468 609h9M483 609h6M495 609h3M507 609h0M381 612h0M402 612h0M414 612h6M447 612h0M453 612h12M477 612h6M489 612h0M495 612h6M510 612h0M357 615h3M375 615h0M390 615h0M399 615h0M411 615h12M429 615h3M438 615h12M456 615h0M462 615h0M471 615h6M489 615h0M501 615h0M507 615h0M528 615h0M369 618h0M378 618h0M390 618h0M396 618h3M405 618h0M411 618h0M423 618h3M441 618h0M456 618h0M462 618h9M480 618h3M501 618h0M516 618h0M531 618h0M264 621h0M300 621h0M375 621h0M381 621h9M402 621h6M417 621h15M438 621h3M453 621h0M459 621h6M471 621h0M477 621h0M483 621h3M495 621h0M510 621h0M525 621h0M549 621h0M366 624h0M378 624h3M387 624h0M393 624h39M438 624h0M444 624h15M477 624h3M486 624h6M516 624h0M357 627h0M363 627h0M369 627h3M378 627h0M384 627h0M396 627h6M408 627h0M417 627h24M450 627h12M468 627h3M483 627h6M507 627h0M522 627h0M600 627h0M300 630h0M336 630h0M357 630h0M378 630h0M384 630h3M396 630h0M402 630h3M411 630h3M426 630h0M444 630h0M450 630h3M459 630h30M495 630h6M510 630h0M540 630h0M588 630h0M354 633h0M360 633h0M366 633h0M372 633h0M381 633h3M393 633h0M405 633h3M414 633h0M420 633h0M426 633h6M438 633h0M444 633h0M450 633h3M462 633h12M492 633h0M498 633h3M510 633h0M552 633h0M342 636h0M351 636h6M369 636h3M378 636h3M387 636h0M393 636h0M399 636h0M408 636h9M426 636h3M441 636h0M447 636h0M453 636h0M459 636h6M471 636h6M483 636h0M489 636h3M516 636h0M585 636h0M357 639h0M369 639h3M378 639h6M390 639h3M405 639h0M417 639h9M435 639h9M450 639h6M465 639h6M480 639h6M522 639h0M315 642h0M336 642h0M348 642h3M372 642h0M378 642h12M396 642h3M405 642h3M414 642h3M423 642h0M429 642h3M438 642h15M468 642h3M480 642h3M489 642h3M522 642h0M558 642h0M339 645h0M363 645h0M372 645h9M387 645h12M405 645h3M414 645h21M444 645h0M450 645h3M459 645h6M474 645h0M486 645h6M330 648h0M336 648h0M345 648h0M360 648h3M369 648h3M378 648h12M396 648h12M414 648h6M426 648h12M444 648h0M456 648h3M465 648h9M486 648h0M495 648h0M522 648h0M327 651h0M333 651h0M339 651h0M351 651h6M369 651h9M387 651h0M393 651h0M399 651h6M414 651h9M429 651h6M441 651h0M447 651h21M480 651h3M489 651h0M315 654h0M327 654h0M336 654h0M351 654h3M360 654h0M366 654h15M387 654h0M396 654h48M453 654h6M465 654h0M471 654h0M477 654h0M489 654h0M501 654h3M345 657h0M354 657h0M363 657h0M372 657h0M381 657h9M399 657h21M426 657h9M444 657h0M450 657h0M456 657h3M465 657h6M486 657h0M363 660h3M372 660h0M378 660h18M402 660h3M411 660h12M429 660h3M444 660h0M456 660h6M468 660h0M477 660h0M501 660h0M321 663h0M327 663h0M336 663h6M348 663h0M357 663h15M384 663h6M396 663h0M402 663h0M408 663h0M414 663h0M420 663h0M429 663h9M453 663h15M474 663h0M480 663h0M495 663h0M501 663h0M639 663h0M327 666h0M336 666h0M345 666h0M351 666h18M378 666h3M387 666h0M393 666h12M417 666h9M432 666h0M441 666h6M459 666h0M489 666h0M525 666h0M279 669h0M321 669h0M327 669h0M336 669h0M342 669h3M351 669h0M357 669h9M372 669h27M405 669h0M411 669h6M426 669h3M438 669h3M450 669h3M465 669h3M483 669h0M315 672h6M333 672h6M348 672h3M360 672h0M366 672h24M396 672h3M408 672h18M432 672h0M438 672h0M447 672h6M459 672h0M468 672h0M330 675h0M336 675h12M354 675h3M363 675h0M369 675h0M375 675h15M396 675h9M411 675h15M441 675h0M474 675h0M309 678h0M339 678h3M354 678h0M360 678h6M375 678h0M381 678h6M393 678h6M405 678h0M414 678h6M426 678h0M432 678h0M438 678h15M465 678h0M474 678h0M483 678h0M495 678h0M315 681h0M330 681h0M339 681h3M348 681h9M363 681h3M375 681h12M396 681h12M414 681h3M423 681h0M429 681h3M438 681h6M474 681h0M330 684h9M345 684h9M360 684h0M369 684h0M375 684h0M381 684h6M411 684h0M417 684h3M429 684h0M444 684h3M459 684h0M321 687h0M327 687h3M342 687h0M354 687h3M366 687h0M375 687h6M387 687h3M396 687h3M411 687h3M426 687h0M435 687h0M447 687h3M465 687h0M474 687h0M309 690h0M321 690h0M327 690h0M333 690h3M342 690h0M348 690h0M366 690h6M378 690h3M387 690h3M405 690h0M420 690h12M459 690h0M480 690h0M312 693h0M327 693h0M339 693h3M351 693h0M357 693h0M369 693h6M381 693h0M393 693h0M405 693h3M426 693h0M435 693h0M456 693h0M321 696h6M336 696h0M345 696h0M351 696h3M360 696h0M366 696h0M372 696h3M387 696h0M399 696h0M405 696h0M411 696h9M429 696h0M444 696h0M327 699h0M345 699h9M360 699h0M366 699h0M375 699h0M387 699h3M399 699h0M417 699h0M423 699h0M435 699h3M321 702h0M336 702h0M342 702h0M354 702h0M369 702h0M384 702h0M390 702h0M429 702h0M318 705h3M330 705h0M342 705h0M348 705h0M354 705h0M360 705h0M366 705h0M411 705h0M432 705h0M333 708h0M342 708h0M357 708h0M363 708h0M375 708h0M414 708h0M330 711h0M336 711h0M363 711h0M387 711h0M405 711h0M411 711h0M420 711h3M438 711h0M465 711h0M330 714h0M414 714h0M426 714h0M330 717h0M339 717h0M396 717h3M294 720h0M357 720h0M372 720h0M435 720h0M444 720h0M405 723h0M411 723h0M330 726h0M342 726h0M426 726h0M591 726h0M315 729h0M375 738h0"/></g><path d="M232.0 142.0H862.0V790.0" stroke="#a6a6a6" stroke-width="4" fill="none"/><path d="M246.0 520.5H862.0M518.0 142.0V777.0" stroke="#9a9a9a" stroke-width="4.5" fill="none"/><path d="M246.0 142.0V790.0M233.0 777.0H862.0" stroke="#959595" stroke-width="4" fill="none"/><path d="M239.0 729.2H246.0M292.4 777.0V784.0M239.0 701.3H246.0M319.5 777.0V784.0M239.0 681.4H246.0M338.7 777.0V784.0M239.0 666.0H246.0M353.6 777.0V784.0M239.0 653.5H246.0M365.8 777.0V784.0M239.0 642.8H246.0M376.1 777.0V784.0M239.0 633.6H246.0M385.1 777.0V784.0M239.0 625.5H246.0M393.0 777.0V784.0M239.0 570.5H246.0M446.4 777.0V784.0M239.0 542.5H246.0M473.5 777.0V784.0M239.0 522.7H246.0M492.7 777.0V784.0M239.0 507.3H246.0M507.6 777.0V784.0M239.0 494.7H246.0M519.8 777.0V784.0M239.0 484.1H246.0M530.1 777.0V784.0M239.0 474.9H246.0M539.1 777.0V784.0M239.0 466.8H246.0M547.0 777.0V784.0M239.0 411.7H246.0M600.4 777.0V784.0M239.0 383.8H246.0M627.5 777.0V784.0M239.0 363.9H246.0M646.7 777.0V784.0M239.0 348.5H246.0M661.6 777.0V784.0M239.0 336.0H246.0M673.8 777.0V784.0M239.0 325.3H246.0M684.1 777.0V784.0M239.0 316.1H246.0M693.1 777.0V784.0M239.0 308.0H246.0M701.0 777.0V784.0M239.0 253.0H246.0M754.4 777.0V784.0M239.0 225.0H246.0M781.5 777.0V784.0M239.0 205.2H246.0M800.7 777.0V784.0M239.0 189.8H246.0M815.6 777.0V784.0M239.0 177.2H246.0M827.8 777.0V784.0M239.0 166.6H246.0M838.1 777.0V784.0M239.0 157.4H246.0M847.1 777.0V784.0M239.0 149.3H246.0M855.0 777.0V784.0M233.0 777.0H246.0M246.0 777.0V790.0M233.0 618.2H246.0M400.0 777.0V790.0M233.0 459.5H246.0M554.0 777.0V790.0M233.0 300.8H246.0M708.0 777.0V790.0M233.0 142.0H246.0M862.0 777.0V790.0" stroke="#9c9c9c" stroke-width="2.2" fill="none"/><text font-size="40.5" stroke="#000" stroke-width="1.3" transform="translate(227.40 835.40) scale(0.9 1)">10</text><text font-size="29" stroke="#000" stroke-width="1.0" transform="translate(263.04 817.00) scale(0.87 1)">0</text><text font-size="40.5" stroke="#000" stroke-width="1.3" transform="translate(171.40 787.20) scale(0.9 1)">10</text><text font-size="29" stroke="#000" stroke-width="1.0" transform="translate(207.04 767.20) scale(0.87 1)">0</text><text font-size="40.5" stroke="#000" stroke-width="1.3" transform="translate(381.40 835.40) scale(0.9 1)">10</text><text font-size="29" stroke="#000" stroke-width="1.0" transform="translate(415.78 817.00) scale(0.87 1)">1</text><text font-size="40.5" stroke="#000" stroke-width="1.3" transform="translate(171.40 628.45) scale(0.9 1)">10</text><text font-size="29" stroke="#000" stroke-width="1.0" transform="translate(205.78 608.45) scale(0.87 1)">1</text><text font-size="40.5" stroke="#000" stroke-width="1.3" transform="translate(535.40 835.40) scale(0.9 1)">10</text><text font-size="29" stroke="#000" stroke-width="1.0" transform="translate(570.89 817.00) scale(0.87 1)">2</text><text font-size="40.5" stroke="#000" stroke-width="1.3" transform="translate(171.40 469.70) scale(0.9 1)">10</text><text font-size="29" stroke="#000" stroke-width="1.0" transform="translate(206.89 449.70) scale(0.87 1)">2</text><text font-size="40.5" stroke="#000" stroke-width="1.3" transform="translate(689.40 835.40) scale(0.9 1)">10</text><text font-size="29" stroke="#000" stroke-width="1.0" transform="translate(724.79 817.00) scale(0.87 1)">3</text><text font-size="40.5" stroke="#000" stroke-width="1.3" transform="translate(171.40 310.95) scale(0.9 1)">10</text><text font-size="29" stroke="#000" stroke-width="1.0" transform="translate(206.79 290.95) scale(0.87 1)">3</text><text font-size="40.5" stroke="#000" stroke-width="1.3" transform="translate(843.40 835.40) scale(0.9 1)">10</text><text font-size="29" stroke="#000" stroke-width="1.0" transform="translate(879.51 817.00) scale(0.87 1)">4</text><text font-size="40.5" stroke="#000" stroke-width="1.3" transform="translate(171.40 152.20) scale(0.9 1)">10</text><text font-size="29" stroke="#000" stroke-width="1.0" transform="translate(207.51 132.20) scale(0.87 1)">4</text><text transform="translate(124.6 439.5) rotate(-90)" font-size="63" text-anchor="middle">PI</text><text x="334.60" y="948" font-size="63">Annexin</text><path d="M571.0 902.2L586.0 902.2L586.0 904.2L583.3 904.2L593.6 937L606.0 904.2L600.0 904.2L600.0 902.2L614.0 902.2L614.0 904.2L608.8 904.2L593.8 950.5L590.6 950.5L576.6 904.2L571.0 904.2Z"/><rect x="616.0" y="930.2" width="13.3" height="4"/><text x="629.80" y="948" font-size="63">FITC</text><text x="568.5" y="1071.6" font-size="63" text-anchor="middle">A</text><filter id="fB" filterUnits="userSpaceOnUse" x="1072.5" y="131.0" width="636.5" height="656.0"><feGaussianBlur stdDeviation="1.4"/><feComponentTransfer><feFuncA type="table" tableValues="0 0.18 0.4 0.7 1 1"/></feComponentTransfer></filter><g filter="url(#fB)" stroke="#f00" stroke-opacity="0.4" stroke-width="3.6" stroke-linecap="square" fill="none"><path d="M1512 231h0M1506 249h0M1533 261h0M1614 264h0M1539 267h0M1473 270h0M1530 270h0M1650 273h0M1473 276h0M1518 276h0M1446 279h0M1509 279h0M1551 279h0M1560 279h0M1434 282h0M1497 282h0M1545 282h3M1446 285h0M1482 285h0M1509 285h0M1527 285h3M1551 285h0M1521 288h3M1566 288h0M1479 291h0M1506 291h0M1515 291h0M1524 291h0M1551 291h0M1449 294h0M1509 294h0M1521 294h0M1572 294h0M1455 297h0M1464 297h0M1506 297h0M1524 297h0M1530 297h0M1539 297h0M1569 297h0M1497 300h0M1509 300h0M1521 300h0M1539 300h0M1554 300h0M1470 303h0M1494 303h0M1503 303h6M1524 303h0M1449 306h0M1479 306h0M1500 306h0M1506 306h0M1518 306h3M1335 309h0M1446 309h0M1488 309h0M1503 309h0M1515 309h0M1575 309h0M1359 312h0M1413 312h0M1446 312h0M1452 312h0M1458 312h0M1482 312h0M1518 312h0M1524 312h3M1542 312h3M1554 312h0M1563 312h0M1572 312h0M1446 315h0M1455 315h0M1479 315h0M1497 315h0M1515 315h0M1539 315h0M1548 315h0M1482 318h3M1524 318h0M1533 318h0M1575 318h0M1587 318h0M1593 318h0M1614 318h0M1482 321h0M1497 321h0M1512 321h0M1524 321h3M1563 321h0M1485 324h0M1500 324h3M1527 324h0M1548 324h0M1257 327h0M1407 327h0M1443 327h0M1491 327h0M1569 327h0M1488 330h0M1515 330h0M1548 330h0M1587 330h0M1428 333h0M1443 333h0M1464 333h0M1473 333h0M1524 333h3M1533 333h3M1401 336h0M1434 336h0M1476 336h3M1500 336h0M1509 336h0M1536 336h0M1545 336h0M1563 336h0M1458 339h3M1473 339h0M1488 339h3M1497 339h0M1539 339h0M1401 342h0M1446 342h0M1458 342h0M1494 342h0M1503 342h0M1545 342h0M1566 342h0M1269 345h0M1428 345h0M1437 345h0M1443 345h0M1467 345h0M1488 345h3M1512 345h0M1551 345h0M1290 348h0M1413 348h0M1419 348h0M1476 348h0M1488 348h0M1494 348h0M1518 348h0M1275 351h0M1461 351h0M1497 351h0M1533 351h0M1434 354h0M1470 354h3M1509 354h0M1539 354h0M1374 357h0M1470 357h0M1494 357h0M1521 357h0M1419 360h0M1440 360h0M1455 360h0M1467 360h0M1419 363h0M1434 363h0M1452 363h0M1464 363h0M1479 363h0M1485 363h0M1521 363h0M1476 366h0M1494 366h0M1557 366h0M1572 366h0M1290 369h0M1323 369h0M1509 369h0M1395 372h0M1482 372h0M1503 372h0M1437 375h0M1278 378h0M1419 378h0M1458 378h0M1224 381h0M1260 381h0M1401 384h0M1458 384h0M1488 384h0M1314 387h0M1371 387h0M1467 387h0M1482 387h0M1473 390h0M1533 390h0M1302 393h0M1389 393h0M1434 393h0M1467 393h0M1470 396h0M1260 399h0M1419 399h0M1269 402h0M1338 402h0M1452 402h0M1485 402h0M1503 402h0M1266 405h0M1290 405h0M1326 405h0M1362 405h0M1416 405h0M1437 408h0M1485 408h0M1458 411h3M1359 414h0M1533 414h0M1542 414h0M1347 417h0M1314 420h0M1392 420h0M1455 420h0M1608 420h0M1302 423h0M1329 423h0M1410 423h0M1425 423h0M1455 423h0M1503 423h0M1296 429h0M1317 429h0M1392 429h0M1398 429h0M1464 429h0M1401 432h0M1422 432h0M1479 432h0M1497 432h0M1446 435h0M1482 438h3M1347 441h0M1398 441h0M1413 441h0M1419 441h0M1443 441h0M1485 441h0M1494 441h0M1290 444h0M1407 444h0M1329 447h0M1473 447h0M1497 447h0M1506 447h0M1518 447h0M1437 450h0M1575 450h0M1299 453h0M1422 453h0M1431 453h0M1389 456h0M1437 456h0M1446 456h0M1461 456h0M1476 459h0M1347 462h0M1365 462h0M1377 462h0M1404 462h0M1476 462h0M1302 465h0M1434 465h0M1560 465h0M1440 468h0M1494 468h3M1317 471h0M1464 471h0M1383 474h0M1449 477h0M1458 477h0M1494 477h0M1383 480h0M1533 480h0M1392 483h0M1410 483h0M1446 483h0M1485 483h0M1296 486h0M1440 489h0M1452 489h0M1476 489h3M1527 489h0M1419 492h3M1500 492h0M1437 495h0M1473 495h0M1305 498h0M1326 498h0M1338 498h0M1410 498h0M1383 501h0M1398 501h0M1464 501h0M1452 504h0M1497 504h0M1233 507h0M1452 507h0M1497 507h0M1509 510h0M1362 513h0M1371 513h0M1431 513h0M1461 513h0M1494 513h0M1317 516h0M1410 516h0M1464 516h0M1479 516h0M1464 519h0M1572 519h0M1245 522h0M1263 522h0M1473 522h0M1353 525h0M1404 525h0M1416 525h0M1470 525h0M1494 525h0M1506 525h0M1335 528h0M1353 528h0M1365 528h0M1431 528h3M1446 528h0M1248 531h0M1266 531h0M1293 531h0M1350 531h0M1395 531h0M1452 531h0M1491 531h0M1299 534h0M1416 534h3M1446 534h0M1479 534h0M1254 537h0M1374 537h0M1383 537h0M1482 537h0M1263 540h0M1305 540h0M1341 540h0M1272 543h0M1287 543h0M1293 543h0M1308 543h6M1320 543h3M1341 543h0M1359 543h0M1413 543h0M1449 543h0M1503 543h0M1575 543h0M1233 546h3M1251 546h0M1302 546h0M1335 546h0M1383 546h0M1389 546h0M1467 546h0M1527 546h0M1299 549h0M1314 549h0M1338 549h3M1350 549h3M1359 549h0M1365 549h0M1410 549h0M1428 549h0M1293 552h0M1299 552h3M1311 552h0M1317 552h0M1341 552h6M1356 552h0M1362 552h0M1392 552h3M1437 552h0M1272 555h6M1296 555h3M1308 555h0M1314 555h0M1320 555h0M1329 555h3M1338 555h0M1353 555h0M1365 555h6M1392 555h0M1407 555h0M1437 555h0M1476 555h0M1551 555h0M1215 558h0M1230 558h0M1266 558h0M1275 558h0M1281 558h0M1287 558h0M1296 558h3M1308 558h6M1320 558h9M1338 558h0M1344 558h0M1350 558h0M1395 558h3M1434 558h0M1446 558h0M1269 561h0M1275 561h0M1287 561h0M1302 561h9M1320 561h0M1326 561h0M1332 561h0M1350 561h0M1371 561h0M1380 561h0M1398 561h0M1467 561h0M1269 564h0M1275 564h0M1290 564h0M1302 564h9M1320 564h3M1338 564h3M1356 564h0M1365 564h0M1371 564h3M1386 564h0M1410 564h0M1449 564h3M1476 564h0M1260 567h0M1281 567h3M1290 567h3M1299 567h0M1305 567h0M1329 567h3M1338 567h0M1347 567h0M1359 567h3M1371 567h0M1380 567h0M1386 567h0M1395 567h3M1404 567h6M1467 567h0M1197 570h0M1209 570h0M1218 570h0M1230 570h0M1287 570h0M1299 570h0M1314 570h0M1320 570h0M1329 570h21M1356 570h0M1380 570h0M1392 570h0M1401 570h0M1443 570h0M1449 570h3M1467 570h0M1248 573h0M1260 573h0M1275 573h0M1284 573h0M1293 573h15M1314 573h0M1323 573h3M1335 573h0M1341 573h0M1353 573h0M1374 573h3M1392 573h0M1404 573h0M1413 573h0M1473 573h0M1485 573h0M1530 573h0M1218 576h0M1224 576h0M1260 576h0M1269 576h0M1281 576h0M1293 576h0M1305 576h0M1311 576h9M1326 576h0M1335 576h0M1341 576h0M1347 576h0M1353 576h3M1362 576h0M1377 576h0M1395 576h0M1401 576h0M1446 576h0M1170 579h0M1221 579h0M1233 579h0M1248 579h0M1266 579h0M1272 579h0M1281 579h3M1290 579h0M1299 579h0M1305 579h3M1317 579h3M1326 579h9M1353 579h0M1359 579h0M1365 579h6M1386 579h3M1416 579h0M1212 582h0M1221 582h0M1245 582h0M1284 582h9M1302 582h3M1317 582h6M1329 582h6M1341 582h18M1365 582h3M1380 582h0M1386 582h0M1425 582h0M1437 582h0M1458 582h0M1464 582h0M1527 582h0M1218 585h0M1227 585h0M1245 585h0M1254 585h0M1260 585h12M1281 585h3M1290 585h9M1308 585h21M1338 585h0M1347 585h0M1356 585h3M1389 585h0M1410 585h3M1419 585h0M1428 585h0M1488 585h0M1533 585h0M1575 585h0M1209 588h0M1230 588h0M1236 588h0M1251 588h18M1278 588h3M1287 588h0M1293 588h6M1305 588h9M1320 588h9M1335 588h0M1344 588h3M1353 588h0M1362 588h0M1371 588h0M1380 588h3M1410 588h0M1416 588h0M1443 588h0M1470 588h0M1482 588h0M1164 591h0M1224 591h0M1236 591h0M1245 591h0M1251 591h6M1266 591h3M1275 591h45M1329 591h0M1335 591h0M1341 591h0M1350 591h0M1359 591h3M1422 591h0M1203 594h0M1236 594h0M1242 594h0M1251 594h0M1257 594h6M1275 594h0M1281 594h6M1293 594h0M1299 594h3M1308 594h9M1326 594h3M1335 594h6M1347 594h3M1371 594h0M1428 594h0M1434 594h0M1476 594h0M1482 594h0M1518 594h0M1209 597h0M1221 597h3M1236 597h0M1245 597h3M1257 597h3M1266 597h0M1272 597h3M1284 597h18M1308 597h12M1332 597h6M1344 597h3M1383 597h0M1401 597h0M1452 597h0M1473 597h0M1233 600h0M1239 600h0M1248 600h0M1254 600h3M1263 600h0M1272 600h9M1296 600h30M1332 600h0M1341 600h0M1347 600h3M1362 600h0M1368 600h0M1410 600h0M1440 600h3M1458 600h0M1500 600h0M1233 603h3M1251 603h0M1257 603h12M1278 603h0M1287 603h0M1299 603h6M1314 603h0M1320 603h0M1335 603h0M1371 603h3M1482 603h0M1212 606h0M1233 606h0M1239 606h15M1260 606h9M1275 606h0M1287 606h9M1302 606h3M1311 606h3M1320 606h9M1335 606h3M1350 606h0M1449 606h0M1491 606h0M1536 606h0M1197 609h0M1224 609h0M1245 609h3M1257 609h3M1266 609h12M1284 609h0M1293 609h3M1302 609h0M1308 609h6M1323 609h9M1341 609h0M1347 609h0M1365 609h0M1380 609h0M1392 609h0M1557 609h0M1206 612h0M1227 612h12M1245 612h0M1251 612h0M1257 612h21M1287 612h3M1302 612h9M1320 612h3M1329 612h3M1338 612h3M1353 612h0M1368 612h0M1374 612h0M1380 612h6M1392 612h0M1401 612h0M1407 612h0M1431 612h0M1437 612h0M1443 612h0M1521 612h0M1167 615h0M1191 615h0M1200 615h0M1218 615h0M1230 615h0M1239 615h0M1245 615h3M1254 615h24M1284 615h9M1299 615h3M1311 615h3M1320 615h0M1326 615h12M1347 615h0M1356 615h0M1368 615h0M1431 615h0M1449 615h0M1146 618h0M1209 618h0M1218 618h0M1224 618h3M1233 618h3M1242 618h0M1251 618h27M1284 618h0M1290 618h6M1302 618h0M1308 618h3M1317 618h0M1332 618h0M1338 618h0M1347 618h0M1356 618h0M1362 618h0M1383 618h0M1410 618h0M1494 618h0M1206 621h0M1212 621h0M1239 621h12M1257 621h6M1269 621h0M1275 621h9M1290 621h0M1296 621h0M1305 621h0M1311 621h0M1317 621h15M1338 621h0M1353 621h0M1362 621h0M1383 621h0M1395 621h0M1422 621h0M1197 624h0M1221 624h3M1230 624h3M1245 624h6M1257 624h0M1266 624h6M1278 624h12M1296 624h3M1308 624h3M1320 624h0M1326 624h0M1356 624h0M1386 624h0M1392 624h0M1407 624h0M1428 624h0M1194 627h0M1203 627h0M1215 627h0M1221 627h3M1230 627h0M1236 627h6M1248 627h9M1266 627h3M1275 627h3M1284 627h0M1290 627h3M1299 627h0M1305 627h12M1332 627h0M1347 627h9M1416 627h0M1431 627h0M1185 630h0M1206 630h0M1230 630h3M1239 630h6M1251 630h3M1260 630h3M1269 630h0M1278 630h3M1287 630h15M1308 630h12M1332 630h0M1338 630h0M1350 630h0M1398 630h3M1419 630h0M1194 633h0M1215 633h9M1230 633h0M1236 633h3M1245 633h15M1269 633h12M1287 633h3M1296 633h0M1311 633h0M1317 633h0M1329 633h0M1335 633h3M1353 633h0M1365 633h0M1380 633h0M1443 633h0M1188 636h0M1209 636h0M1218 636h0M1236 636h0M1245 636h3M1254 636h0M1260 636h0M1266 636h6M1278 636h6M1290 636h0M1302 636h3M1311 636h3M1320 636h6M1341 636h0M1347 636h0M1356 636h0M1362 636h0M1485 636h0M1500 636h0M1161 639h0M1206 639h3M1218 639h3M1230 639h0M1239 639h3M1248 639h0M1254 639h0M1263 639h21M1290 639h18M1314 639h9M1335 639h3M1356 639h3M1188 642h0M1209 642h0M1221 642h0M1227 642h18M1254 642h12M1272 642h18M1299 642h0M1305 642h0M1311 642h0M1329 642h3M1353 642h0M1359 642h0M1449 642h0M1167 645h0M1188 645h0M1200 645h0M1206 645h0M1218 645h0M1227 645h0M1233 645h0M1242 645h0M1254 645h9M1269 645h9M1284 645h6M1296 645h3M1305 645h0M1320 645h0M1326 645h3M1341 645h0M1353 645h0M1221 648h6M1233 648h3M1245 648h3M1266 648h0M1272 648h3M1284 648h3M1296 648h0M1302 648h3M1320 648h0M1329 648h0M1338 648h0M1194 651h0M1203 651h15M1236 651h9M1251 651h6M1263 651h0M1269 651h3M1284 651h6M1296 651h0M1305 651h0M1311 651h0M1329 651h0M1341 651h3M1182 654h3M1206 654h0M1215 654h3M1230 654h6M1248 654h3M1257 654h3M1266 654h0M1272 654h3M1287 654h9M1308 654h3M1323 654h3M1344 654h0M1377 654h0M1170 657h0M1194 657h0M1200 657h0M1206 657h0M1215 657h0M1221 657h0M1227 657h3M1236 657h3M1245 657h0M1251 657h3M1263 657h0M1269 657h0M1275 657h3M1287 657h0M1293 657h9M1308 657h0M1320 657h0M1326 657h3M1350 657h0M1359 657h0M1458 657h0M1212 660h3M1221 660h6M1242 660h3M1263 660h3M1272 660h0M1278 660h6M1293 660h3M1317 660h0M1203 663h3M1212 663h3M1227 663h3M1239 663h0M1251 663h18M1281 663h3M1293 663h0M1299 663h0M1305 663h3M1317 663h3M1326 663h0M1356 663h0M1218 666h0M1224 666h9M1239 666h9M1257 666h0M1263 666h15M1284 666h3M1293 666h0M1320 666h0M1215 669h0M1221 669h0M1233 669h6M1245 669h0M1251 669h0M1266 669h3M1275 669h0M1281 669h18M1305 669h0M1323 669h0M1335 669h0M1455 669h0M1203 672h0M1209 672h0M1221 672h0M1230 672h3M1242 672h6M1257 672h0M1266 672h0M1278 672h3M1287 672h0M1293 672h0M1302 672h0M1308 672h0M1317 672h0M1329 672h0M1335 672h0M1341 672h0M1380 672h0M1182 675h0M1212 675h3M1227 675h3M1236 675h0M1242 675h0M1275 675h0M1281 675h0M1287 675h0M1329 675h3M1371 675h0M1212 678h0M1218 678h0M1236 678h0M1242 678h0M1263 678h6M1275 678h0M1287 678h0M1293 678h3M1317 678h0M1326 678h0M1206 681h0M1224 681h9M1242 681h0M1248 681h0M1257 681h0M1263 681h0M1269 681h0M1284 681h3M1305 681h0M1344 681h0M1176 684h0M1182 684h0M1191 684h0M1200 684h0M1215 684h3M1224 684h0M1233 684h3M1257 684h0M1266 684h6M1278 684h0M1302 684h0M1338 684h0M1176 687h0M1188 687h0M1227 687h3M1242 687h0M1248 687h0M1254 687h3M1278 687h0M1140 690h0M1182 690h0M1191 690h0M1200 690h0M1227 690h0M1254 690h0M1260 690h6M1278 690h0M1308 690h0M1344 690h0M1170 693h0M1176 693h0M1209 693h0M1215 693h3M1230 693h0M1260 693h0M1269 693h0M1314 693h0M1326 693h0M1143 696h0M1209 696h0M1218 696h0M1272 696h0M1281 696h0M1287 696h0M1305 696h0M1314 696h0M1194 699h0M1200 699h0M1215 699h0M1230 699h0M1245 699h0M1257 699h3M1146 702h0M1185 702h3M1194 702h0M1200 702h3M1239 702h0M1254 702h0M1260 702h0M1287 702h0M1308 702h0M1344 702h0M1182 705h0M1203 705h0M1218 705h0M1227 705h0M1236 705h3M1248 705h3M1269 705h3M1329 705h0M1179 708h0M1185 708h0M1194 708h0M1209 708h3M1239 708h0M1257 708h0M1188 711h0M1236 711h0M1254 711h0M1260 711h3M1356 711h0M1212 714h0M1221 714h0M1242 714h0M1278 714h0M1302 714h0M1338 714h0M1176 717h0M1182 717h0M1197 717h3M1221 717h0M1323 717h0M1179 720h0M1245 720h0M1251 720h0M1260 720h0M1272 720h0M1188 723h0M1224 723h0M1332 723h0M1179 726h0M1206 726h0M1233 726h0M1245 726h0M1251 726h0M1269 726h0M1209 729h0M1215 729h0M1227 729h0M1263 729h0M1215 732h3M1224 735h0M1209 738h0M1215 738h0M1200 741h0M1239 741h0M1200 744h0M1215 744h0M1224 744h0M1179 750h0M1194 750h0M1287 762h0M1233 768h0M1176 771h0M1227 771h0"/><path d="M1503 210h0M1560 234h0M1470 237h0M1497 240h0M1494 252h0M1614 252h0M1488 255h0M1542 261h0M1434 267h0M1500 267h0M1533 267h0M1566 267h0M1488 273h0M1527 273h0M1539 273h0M1596 273h0M1464 276h0M1512 276h0M1518 279h0M1446 282h0M1461 282h0M1494 282h0M1521 282h0M1542 282h0M1551 282h3M1446 285h0M1470 285h0M1563 285h0M1575 285h0M1428 288h0M1506 288h0M1527 288h0M1533 288h0M1539 288h0M1599 288h0M1476 291h0M1494 291h0M1515 291h0M1545 291h0M1458 294h0M1515 294h0M1533 294h0M1548 294h3M1569 294h0M1446 297h0M1503 297h0M1509 297h0M1527 297h0M1533 297h0M1548 297h0M1560 297h0M1452 300h0M1464 300h0M1530 300h0M1545 300h0M1494 303h0M1524 303h0M1539 303h0M1389 306h0M1473 306h0M1497 306h0M1542 306h0M1551 306h0M1593 306h0M1449 309h0M1476 309h0M1539 309h0M1569 309h0M1641 309h0M1398 312h0M1446 312h0M1476 312h0M1494 312h0M1500 312h0M1536 312h0M1554 312h3M1563 312h0M1464 315h0M1512 315h0M1527 315h0M1545 315h0M1386 318h0M1461 318h0M1506 318h0M1512 318h0M1527 318h0M1419 321h0M1485 321h0M1533 321h0M1554 321h0M1590 321h0M1443 324h0M1473 324h3M1482 324h3M1524 324h0M1545 324h0M1416 327h0M1497 327h3M1506 327h0M1518 327h6M1554 327h0M1566 327h0M1542 330h0M1551 330h0M1413 333h0M1428 333h0M1458 333h0M1470 333h0M1482 333h0M1488 333h0M1497 333h0M1536 333h0M1416 336h0M1449 336h0M1488 336h3M1500 336h0M1506 336h3M1515 336h0M1545 336h0M1557 336h0M1566 336h0M1482 339h0M1491 339h0M1533 339h0M1557 339h0M1386 342h0M1440 342h0M1458 342h0M1467 342h0M1476 342h0M1494 342h0M1407 345h0M1437 345h0M1452 345h0M1470 345h0M1509 345h0M1530 345h0M1536 345h0M1278 348h0M1341 348h0M1452 348h0M1467 348h0M1488 348h3M1509 348h0M1530 348h3M1443 351h0M1479 351h0M1551 351h0M1542 354h3M1599 354h0M1407 357h0M1428 357h0M1488 357h0M1500 357h0M1530 357h0M1581 357h0M1446 360h0M1518 360h0M1287 363h0M1374 363h0M1437 363h0M1503 363h0M1548 363h0M1278 366h0M1422 366h0M1482 366h0M1494 366h0M1284 369h0M1482 369h0M1497 369h0M1629 369h0M1365 372h0M1524 372h0M1554 372h0M1584 375h0M1347 378h0M1407 381h0M1413 381h0M1485 381h0M1515 381h0M1524 381h0M1563 381h0M1602 381h0M1251 384h0M1317 384h0M1368 384h0M1374 384h0M1428 384h0M1515 384h0M1530 384h0M1629 384h0M1278 387h0M1377 387h0M1434 387h0M1485 387h0M1257 390h0M1377 390h0M1407 390h0M1509 390h0M1575 390h0M1419 393h0M1482 393h0M1491 393h0M1560 396h0M1431 399h0M1443 399h0M1452 399h0M1437 402h0M1521 402h0M1383 405h0M1428 408h0M1458 408h0M1470 408h0M1539 408h0M1260 411h0M1293 411h0M1314 411h0M1437 411h0M1461 411h0M1479 411h0M1527 411h0M1317 414h0M1419 414h3M1473 414h0M1479 414h0M1578 414h0M1275 417h0M1356 417h0M1476 417h0M1338 420h0M1389 420h0M1488 420h0M1515 420h0M1257 423h0M1377 423h0M1512 423h0M1326 429h0M1437 429h0M1512 429h0M1536 429h0M1392 432h0M1515 432h0M1278 435h0M1425 435h3M1350 438h0M1422 438h0M1434 438h0M1452 438h0M1473 438h0M1497 438h0M1269 441h0M1545 441h0M1329 444h0M1368 444h0M1494 444h0M1515 444h0M1362 447h0M1437 447h0M1437 450h0M1422 453h0M1431 453h0M1500 453h0M1371 456h0M1527 456h0M1458 459h0M1503 459h0M1380 462h0M1407 462h0M1485 462h0M1506 462h0M1455 465h0M1461 465h0M1482 465h0M1368 468h0M1434 468h0M1494 468h0M1515 468h0M1386 471h0M1314 474h0M1449 474h0M1461 474h0M1470 474h0M1302 477h0M1407 477h0M1413 477h0M1434 477h0M1500 480h0M1437 483h0M1527 483h0M1296 486h0M1317 486h0M1497 486h0M1371 489h0M1431 489h0M1464 489h0M1434 492h0M1335 495h0M1419 495h0M1428 495h0M1482 495h0M1401 498h0M1506 498h0M1398 501h0M1404 501h0M1479 501h0M1377 504h0M1461 504h0M1479 504h0M1503 504h0M1410 507h0M1527 507h0M1401 510h0M1416 510h0M1437 510h0M1449 510h0M1347 513h0M1428 513h3M1521 513h3M1542 513h0M1449 516h0M1245 519h0M1344 519h0M1437 519h0M1308 522h0M1446 522h0M1497 522h0M1263 525h0M1215 528h0M1332 528h0M1413 528h0M1539 528h0M1275 531h0M1350 531h0M1368 531h0M1374 531h0M1401 531h0M1419 531h0M1431 531h3M1566 531h0M1317 534h0M1425 534h0M1440 534h0M1476 534h0M1254 537h0M1263 537h0M1332 537h0M1545 537h0M1272 540h0M1314 540h6M1332 540h0M1347 540h0M1359 540h0M1365 540h0M1386 540h0M1401 540h0M1410 540h0M1461 540h0M1236 543h0M1254 543h0M1275 543h0M1281 543h3M1311 543h0M1335 543h0M1353 543h0M1386 543h0M1455 543h0M1485 543h0M1521 543h0M1293 546h0M1305 546h0M1326 546h0M1338 546h0M1371 546h0M1377 546h0M1383 546h3M1404 546h0M1431 546h0M1218 549h0M1266 549h0M1308 549h0M1317 549h0M1329 549h12M1359 549h0M1380 549h0M1437 549h0M1497 549h0M1527 549h0M1203 552h0M1218 552h0M1248 552h6M1263 552h0M1272 552h0M1308 552h3M1317 552h0M1332 552h0M1338 552h6M1356 552h3M1425 552h0M1452 552h0M1476 552h0M1245 555h0M1272 555h3M1293 555h0M1299 555h0M1305 555h0M1326 555h0M1347 555h0M1353 555h6M1404 555h0M1419 555h0M1449 555h0M1497 555h0M1581 555h0M1179 558h0M1314 558h0M1320 558h3M1329 558h9M1344 558h0M1365 558h0M1389 558h0M1404 558h0M1434 558h0M1440 558h0M1473 558h0M1170 561h0M1248 561h0M1284 561h0M1296 561h0M1302 561h0M1311 561h9M1326 561h0M1341 561h0M1359 561h3M1371 561h0M1386 561h0M1422 561h0M1434 561h0M1479 561h0M1218 564h0M1257 564h0M1275 564h12M1299 564h0M1305 564h0M1311 564h0M1317 564h15M1344 564h3M1419 564h0M1437 564h0M1251 567h0M1275 567h3M1284 567h0M1290 567h0M1296 567h0M1302 567h0M1311 567h9M1332 567h0M1338 567h0M1347 567h0M1356 567h0M1362 567h0M1395 567h3M1443 567h0M1458 567h3M1497 567h0M1509 567h0M1524 567h0M1251 570h0M1263 570h3M1281 570h0M1287 570h3M1296 570h6M1311 570h0M1320 570h9M1335 570h12M1353 570h6M1368 570h0M1374 570h0M1380 570h0M1392 570h0M1398 570h0M1416 570h3M1464 570h0M1248 573h3M1257 573h0M1266 573h0M1278 573h3M1290 573h6M1302 573h0M1314 573h9M1329 573h3M1341 573h3M1365 573h0M1383 573h0M1440 573h0M1482 573h0M1500 573h0M1233 576h0M1242 576h0M1254 576h0M1260 576h0M1266 576h0M1275 576h0M1281 576h0M1287 576h0M1293 576h9M1308 576h0M1317 576h3M1326 576h0M1335 576h18M1368 576h0M1377 576h0M1383 576h0M1413 576h0M1431 576h0M1437 576h0M1452 576h0M1464 576h3M1479 576h0M1239 579h3M1266 579h0M1272 579h3M1284 579h3M1293 579h6M1305 579h6M1317 579h3M1326 579h0M1332 579h9M1347 579h3M1356 579h3M1365 579h0M1398 579h0M1419 579h0M1428 579h0M1449 579h0M1191 582h0M1230 582h0M1236 582h0M1242 582h3M1266 582h0M1272 582h0M1278 582h0M1284 582h6M1302 582h0M1308 582h3M1320 582h6M1335 582h15M1359 582h3M1374 582h0M1386 582h6M1398 582h0M1413 582h0M1449 582h0M1455 582h0M1485 582h0M1500 582h0M1227 585h3M1239 585h3M1248 585h0M1257 585h0M1278 585h12M1299 585h0M1305 585h9M1320 585h0M1329 585h0M1335 585h0M1341 585h6M1353 585h0M1359 585h6M1377 585h0M1383 585h0M1407 585h0M1446 585h0M1491 585h0M1500 585h0M1188 588h0M1254 588h0M1260 588h0M1272 588h15M1293 588h0M1305 588h0M1311 588h12M1329 588h0M1341 588h0M1347 588h0M1353 588h0M1359 588h0M1368 588h0M1374 588h3M1407 588h0M1419 588h0M1425 588h0M1431 588h0M1443 588h0M1215 591h0M1233 591h0M1239 591h0M1251 591h0M1257 591h0M1263 591h3M1272 591h0M1281 591h3M1290 591h6M1302 591h0M1314 591h0M1323 591h12M1341 591h0M1350 591h6M1374 591h0M1386 591h0M1401 591h0M1410 591h0M1479 591h0M1506 591h0M1212 594h0M1227 594h0M1254 594h3M1266 594h15M1290 594h0M1299 594h3M1314 594h12M1332 594h0M1338 594h6M1359 594h0M1365 594h0M1377 594h3M1395 594h0M1425 594h0M1227 597h0M1233 597h3M1254 597h0M1269 597h3M1278 597h3M1296 597h12M1317 597h0M1332 597h0M1338 597h0M1344 597h6M1356 597h0M1362 597h0M1371 597h0M1398 597h0M1407 597h0M1443 597h0M1482 597h0M1533 597h0M1554 597h0M1236 600h0M1248 600h6M1260 600h3M1269 600h0M1275 600h6M1287 600h0M1293 600h9M1308 600h0M1317 600h0M1323 600h3M1338 600h0M1344 600h3M1359 600h0M1377 600h0M1389 600h0M1413 600h0M1419 600h0M1455 600h0M1485 600h0M1509 600h0M1218 603h0M1233 603h0M1239 603h0M1245 603h0M1254 603h0M1269 603h0M1275 603h0M1281 603h0M1296 603h0M1302 603h0M1314 603h0M1320 603h0M1326 603h0M1341 603h0M1347 603h3M1368 603h0M1431 603h0M1464 603h0M1548 603h0M1200 606h3M1218 606h0M1227 606h6M1239 606h0M1248 606h0M1257 606h0M1272 606h0M1284 606h9M1299 606h3M1308 606h3M1317 606h6M1329 606h0M1338 606h3M1350 606h0M1359 606h3M1371 606h0M1383 606h9M1443 606h0M1473 606h0M1209 609h0M1242 609h0M1254 609h0M1260 609h3M1269 609h0M1278 609h3M1287 609h3M1296 609h18M1320 609h6M1332 609h0M1341 609h0M1347 609h3M1368 609h0M1374 609h3M1383 609h0M1425 609h0M1437 609h0M1491 609h0M1164 612h0M1173 612h0M1221 612h0M1230 612h0M1236 612h0M1245 612h9M1260 612h0M1266 612h15M1290 612h0M1299 612h0M1311 612h3M1320 612h0M1326 612h6M1338 612h3M1347 612h0M1371 612h0M1383 612h0M1392 612h0M1407 612h0M1431 612h0M1467 612h0M1482 612h0M1542 612h0M1188 615h0M1218 615h0M1233 615h0M1239 615h0M1245 615h0M1251 615h0M1257 615h3M1266 615h57M1329 615h0M1335 615h21M1365 615h0M1392 615h0M1461 615h3M1491 615h0M1185 618h0M1197 618h0M1230 618h3M1239 618h0M1245 618h3M1254 618h3M1272 618h18M1302 618h3M1311 618h0M1317 618h3M1326 618h3M1335 618h0M1344 618h6M1356 618h0M1362 618h0M1383 618h0M1206 621h0M1245 621h0M1251 621h0M1257 621h3M1266 621h3M1278 621h0M1284 621h12M1302 621h3M1314 621h0M1320 621h0M1329 621h9M1449 621h0M1218 624h0M1224 624h0M1230 624h6M1242 624h0M1251 624h0M1257 624h3M1269 624h0M1278 624h3M1287 624h6M1302 624h3M1311 624h3M1320 624h0M1329 624h0M1335 624h0M1353 624h0M1365 624h0M1374 624h0M1473 624h0M1185 627h0M1197 627h0M1233 627h0M1242 627h0M1254 627h6M1266 627h0M1272 627h3M1281 627h12M1308 627h0M1314 627h6M1326 627h15M1359 627h0M1407 627h0M1485 627h0M1137 630h0M1212 630h0M1218 630h3M1233 630h0M1239 630h15M1263 630h0M1272 630h18M1296 630h9M1323 630h0M1332 630h9M1347 630h0M1359 630h0M1386 630h0M1428 630h0M1455 630h0M1542 630h0M1173 633h0M1215 633h0M1221 633h3M1239 633h3M1254 633h15M1275 633h3M1284 633h6M1299 633h3M1308 633h24M1353 633h0M1365 633h0M1194 636h0M1218 636h3M1230 636h30M1266 636h3M1278 636h3M1287 636h6M1299 636h0M1305 636h3M1314 636h6M1326 636h0M1332 636h0M1338 636h0M1347 636h0M1356 636h0M1374 636h0M1395 636h0M1404 636h0M1434 636h0M1212 639h0M1218 639h12M1239 639h0M1248 639h9M1263 639h15M1284 639h3M1296 639h0M1308 639h3M1317 639h3M1329 639h3M1347 639h0M1386 639h0M1392 639h0M1404 639h0M1470 639h0M1146 642h0M1179 642h0M1203 642h0M1209 642h0M1227 642h24M1260 642h0M1266 642h0M1272 642h0M1278 642h3M1287 642h0M1293 642h3M1305 642h3M1323 642h6M1335 642h0M1353 642h0M1359 642h0M1371 642h0M1179 645h0M1209 645h0M1215 645h3M1227 645h0M1242 645h3M1251 645h3M1260 645h0M1269 645h9M1284 645h0M1290 645h3M1299 645h3M1308 645h3M1326 645h3M1338 645h0M1344 645h0M1359 645h0M1392 645h0M1176 648h3M1203 648h0M1218 648h12M1236 648h0M1254 648h0M1260 648h0M1266 648h0M1272 648h12M1290 648h3M1299 648h3M1314 648h0M1320 648h3M1338 648h0M1344 648h0M1350 648h3M1377 648h0M1242 651h0M1251 651h3M1263 651h0M1269 651h0M1278 651h12M1296 651h9M1314 651h0M1320 651h3M1344 651h0M1365 651h0M1167 654h0M1188 654h0M1215 654h3M1227 654h0M1233 654h3M1242 654h3M1254 654h21M1281 654h0M1287 654h6M1311 654h3M1335 654h0M1344 654h0M1350 654h3M1368 654h0M1179 657h0M1185 657h0M1206 657h3M1215 657h0M1224 657h0M1230 657h3M1245 657h6M1257 657h9M1275 657h0M1281 657h6M1305 657h0M1311 657h0M1326 657h0M1338 657h0M1209 660h0M1230 660h0M1236 660h0M1242 660h9M1260 660h0M1272 660h3M1281 660h21M1326 660h0M1380 660h0M1419 660h0M1452 660h0M1185 663h0M1209 663h3M1236 663h12M1257 663h3M1272 663h0M1278 663h6M1293 663h0M1299 663h0M1320 663h0M1332 663h0M1344 663h0M1173 666h0M1185 666h0M1215 666h0M1221 666h0M1242 666h6M1257 666h0M1263 666h6M1287 666h3M1302 666h0M1317 666h0M1323 666h6M1167 669h0M1200 669h0M1206 669h6M1221 669h0M1230 669h0M1239 669h6M1254 669h3M1266 669h0M1272 669h6M1284 669h12M1305 669h0M1314 669h0M1368 669h0M1200 672h0M1206 672h9M1221 672h6M1233 672h15M1254 672h0M1260 672h3M1272 672h0M1278 672h0M1293 672h0M1305 672h0M1314 672h0M1320 672h3M1329 672h0M1386 672h0M1170 675h0M1179 675h0M1188 675h0M1212 675h0M1224 675h3M1236 675h3M1245 675h3M1260 675h0M1266 675h0M1284 675h0M1344 675h0M1206 678h0M1215 678h0M1221 678h0M1227 678h0M1233 678h0M1239 678h6M1251 678h0M1257 678h0M1266 678h0M1281 678h0M1287 678h3M1311 678h0M1344 678h0M1212 681h6M1227 681h3M1236 681h0M1242 681h6M1284 681h0M1293 681h0M1299 681h0M1341 681h0M1347 681h0M1365 681h0M1164 684h0M1197 684h0M1230 684h0M1236 684h0M1245 684h0M1254 684h0M1260 684h3M1299 684h0M1314 684h0M1224 687h0M1251 687h0M1275 687h3M1296 687h0M1302 687h0M1161 690h0M1170 690h0M1182 690h0M1215 690h0M1245 690h0M1263 690h3M1278 690h0M1284 690h0M1290 690h0M1296 690h0M1320 690h0M1176 693h0M1209 693h0M1218 693h0M1245 693h0M1260 693h0M1269 693h0M1275 693h0M1284 693h0M1305 693h0M1317 693h0M1185 696h3M1209 696h6M1230 696h0M1278 696h0M1296 696h0M1338 696h0M1158 699h0M1200 699h0M1206 699h3M1215 699h0M1227 699h0M1236 699h0M1242 699h0M1248 699h0M1257 699h3M1278 699h0M1311 699h0M1320 699h0M1149 702h0M1173 702h3M1194 702h0M1218 702h0M1245 702h0M1263 702h0M1086 705h0M1182 705h0M1197 705h0M1206 705h0M1212 705h0M1218 705h0M1224 705h0M1251 705h0M1287 705h0M1305 705h0M1161 708h3M1185 708h0M1197 708h0M1203 708h0M1236 708h0M1245 708h0M1251 708h0M1257 708h0M1287 708h0M1302 708h0M1176 711h0M1194 711h6M1230 711h0M1284 711h0M1290 711h0M1185 714h0M1203 714h3M1212 714h3M1230 714h0M1296 714h0M1308 714h0M1173 717h0M1218 717h3M1260 717h3M1299 717h0M1164 720h0M1206 720h0M1233 720h3M1242 720h0M1167 723h0M1206 723h0M1248 723h0M1278 723h0M1293 723h0M1173 726h0M1182 726h0M1197 726h0M1230 726h0M1248 726h0M1305 726h0M1197 729h0M1209 729h3M1227 729h0M1242 729h0M1251 729h0M1275 729h0M1122 732h0M1185 732h0M1275 732h0M1185 735h0M1230 735h0M1179 738h0M1263 738h0M1203 741h0M1218 741h0M1320 744h0M1233 747h0M1167 750h0M1209 750h0M1263 756h0M1203 759h0M1236 759h0M1215 768h0M1233 768h0"/><path d="M1569 216h0M1473 231h0M1656 243h0M1503 246h0M1548 246h0M1533 249h0M1467 252h0M1524 261h0M1428 264h0M1596 270h0M1308 276h0M1494 276h0M1578 276h0M1461 279h0M1485 279h0M1521 279h0M1446 282h0M1482 282h0M1491 282h0M1521 282h0M1476 285h0M1560 285h0M1428 288h0M1482 288h0M1488 288h0M1536 288h0M1482 291h0M1518 291h0M1464 294h0M1488 294h0M1494 294h0M1518 294h0M1533 294h3M1473 297h3M1482 297h0M1509 297h0M1536 297h0M1578 297h0M1515 300h0M1524 300h0M1542 300h3M1605 300h0M1380 303h0M1467 303h3M1479 303h0M1488 303h0M1521 303h0M1530 303h0M1539 303h0M1626 303h0M1482 306h0M1497 306h0M1515 306h3M1545 306h0M1554 306h0M1563 306h0M1455 309h0M1509 309h3M1524 309h0M1530 309h3M1542 309h0M1209 312h0M1329 312h0M1431 312h0M1443 312h0M1467 312h0M1476 312h3M1491 312h0M1503 312h3M1524 312h0M1533 312h0M1545 312h0M1458 315h0M1476 315h0M1524 315h3M1545 315h0M1425 318h0M1536 318h0M1548 318h0M1590 318h0M1620 318h0M1395 321h0M1431 321h0M1518 321h3M1539 321h0M1275 324h0M1479 324h0M1488 324h3M1512 324h0M1533 324h0M1671 324h0M1395 327h0M1470 327h0M1491 327h0M1527 327h0M1554 327h0M1428 330h0M1455 330h0M1485 330h0M1494 330h0M1509 330h0M1530 330h0M1545 330h0M1467 333h0M1494 333h0M1542 333h0M1254 336h0M1398 336h0M1452 336h0M1548 336h0M1428 339h0M1452 339h0M1470 339h0M1476 339h0M1497 339h3M1539 339h0M1386 342h0M1452 342h0M1473 342h0M1518 342h0M1575 342h0M1461 345h0M1626 345h0M1428 348h3M1452 348h0M1467 348h0M1506 348h3M1512 351h0M1536 351h0M1452 354h0M1470 354h0M1476 354h0M1488 354h0M1248 357h0M1434 357h0M1449 357h0M1455 357h0M1464 357h0M1479 357h0M1422 360h0M1512 360h0M1518 360h0M1527 360h6M1434 363h3M1452 363h0M1458 363h0M1506 363h0M1551 363h0M1599 363h0M1410 366h3M1434 366h0M1446 366h0M1497 366h0M1527 366h0M1428 369h3M1443 369h0M1470 369h0M1476 369h0M1518 369h0M1290 372h0M1428 372h0M1491 372h0M1581 372h0M1473 375h0M1494 375h0M1533 375h0M1410 378h0M1470 378h0M1476 378h0M1518 378h0M1458 381h0M1467 381h0M1284 384h0M1419 384h0M1452 384h0M1533 384h0M1488 387h0M1509 387h0M1431 390h0M1482 390h0M1539 390h3M1290 393h0M1359 393h0M1389 393h0M1491 393h0M1230 396h0M1278 396h0M1356 396h0M1458 396h0M1347 399h0M1386 399h0M1395 399h0M1452 399h0M1470 399h0M1278 402h0M1314 402h0M1443 402h0M1500 402h0M1356 405h0M1419 405h0M1443 405h0M1401 408h0M1467 408h0M1476 408h0M1308 411h3M1335 411h0M1425 411h0M1317 414h0M1488 414h0M1494 414h0M1545 414h0M1332 417h0M1419 420h0M1443 420h0M1452 420h0M1473 420h0M1485 420h0M1254 423h0M1269 423h0M1320 423h0M1347 423h3M1461 423h0M1434 426h0M1437 429h0M1479 429h0M1488 432h0M1539 432h0M1563 432h0M1218 435h0M1440 435h0M1458 435h0M1470 435h0M1584 435h0M1335 438h0M1416 438h0M1425 438h3M1458 438h0M1488 438h0M1533 438h3M1230 441h0M1365 441h0M1374 441h0M1440 441h0M1455 441h0M1542 441h0M1371 444h0M1389 444h0M1452 444h0M1413 447h0M1419 447h0M1416 450h0M1464 450h0M1512 450h0M1563 450h0M1503 453h0M1344 456h0M1449 456h0M1464 456h0M1479 456h0M1335 459h0M1341 459h0M1413 462h0M1437 465h0M1347 468h0M1389 468h0M1452 468h0M1353 471h0M1404 471h0M1422 471h0M1434 471h0M1530 471h0M1509 474h0M1554 474h0M1275 477h0M1356 477h0M1362 477h0M1386 477h0M1422 477h0M1455 477h0M1326 480h0M1374 483h0M1422 483h0M1464 483h0M1479 483h0M1296 486h0M1467 486h0M1512 486h0M1341 489h0M1536 489h0M1389 492h0M1440 492h0M1374 495h0M1407 495h0M1422 495h0M1461 495h0M1488 495h0M1368 498h0M1377 498h0M1455 498h0M1602 498h0M1311 501h0M1404 501h0M1395 504h0M1476 504h0M1455 507h0M1377 510h0M1350 513h0M1389 513h0M1422 516h0M1278 519h0M1371 519h0M1392 519h0M1452 519h0M1458 519h0M1512 519h0M1236 522h0M1242 522h0M1302 522h0M1356 522h0M1302 525h0M1347 525h0M1437 525h0M1476 525h0M1491 525h0M1200 528h0M1311 528h0M1419 528h0M1452 528h0M1263 531h0M1314 531h0M1338 531h0M1344 531h0M1392 531h0M1422 531h0M1485 531h0M1257 534h0M1311 534h0M1350 534h0M1386 534h0M1407 534h0M1461 534h0M1275 537h0M1308 537h0M1317 537h0M1326 537h0M1368 537h0M1380 537h0M1449 537h0M1548 537h0M1233 540h0M1278 540h0M1305 540h0M1320 540h0M1332 540h0M1359 540h0M1428 540h0M1440 540h0M1260 543h0M1284 543h0M1299 543h0M1320 543h0M1329 543h0M1335 543h0M1365 543h0M1374 543h0M1398 543h0M1413 543h0M1425 543h0M1200 546h0M1302 546h0M1308 546h3M1320 546h0M1326 546h0M1341 546h0M1362 546h3M1386 546h0M1425 546h0M1431 546h0M1206 549h0M1248 549h0M1257 549h0M1290 549h0M1302 549h0M1311 549h3M1329 549h0M1335 549h0M1341 549h0M1362 549h0M1419 549h0M1431 549h0M1257 552h3M1266 552h0M1302 552h0M1308 552h0M1314 552h0M1344 552h0M1359 552h0M1242 555h0M1248 555h0M1287 555h0M1293 555h0M1305 555h0M1311 555h0M1368 555h0M1395 555h0M1419 555h0M1464 555h0M1476 555h0M1521 555h0M1245 558h0M1284 558h0M1290 558h0M1299 558h0M1305 558h3M1317 558h3M1326 558h3M1359 558h0M1377 558h0M1389 558h0M1416 558h0M1431 558h3M1440 558h0M1518 558h0M1257 561h3M1269 561h0M1275 561h3M1284 561h0M1308 561h6M1320 561h0M1326 561h0M1332 561h0M1338 561h0M1347 561h3M1356 561h0M1401 561h0M1437 561h0M1275 564h0M1290 564h3M1302 564h0M1320 564h0M1338 564h0M1353 564h0M1368 564h0M1374 564h0M1395 564h0M1431 564h0M1461 564h0M1479 564h0M1248 567h0M1257 567h0M1272 567h0M1287 567h3M1299 567h0M1314 567h0M1320 567h0M1332 567h0M1341 567h0M1347 567h0M1353 567h6M1374 567h0M1383 567h0M1395 567h0M1479 567h0M1200 570h0M1242 570h0M1278 570h0M1284 570h0M1293 570h9M1311 570h15M1335 570h3M1344 570h0M1353 570h0M1365 570h0M1401 570h0M1407 570h3M1416 570h0M1446 570h0M1458 570h0M1470 570h0M1185 573h0M1242 573h0M1263 573h0M1278 573h0M1290 573h9M1305 573h12M1323 573h9M1350 573h0M1359 573h6M1371 573h3M1383 573h0M1389 573h0M1446 573h0M1461 573h0M1254 576h0M1260 576h0M1266 576h0M1278 576h12M1296 576h0M1302 576h6M1320 576h3M1332 576h3M1344 576h0M1356 576h0M1368 576h6M1386 576h0M1425 576h0M1434 576h0M1440 576h0M1449 576h0M1494 576h0M1521 576h0M1536 576h0M1239 579h0M1248 579h0M1254 579h0M1263 579h0M1269 579h3M1281 579h0M1293 579h3M1302 579h6M1323 579h0M1329 579h15M1350 579h0M1356 579h0M1374 579h0M1380 579h0M1389 579h0M1242 582h0M1260 582h0M1269 582h6M1284 582h12M1302 582h0M1314 582h6M1332 582h0M1344 582h0M1353 582h9M1377 582h0M1401 582h0M1407 582h0M1485 582h3M1212 585h0M1233 585h3M1245 585h0M1260 585h0M1266 585h12M1287 585h3M1299 585h0M1305 585h18M1332 585h0M1338 585h0M1344 585h3M1353 585h0M1365 585h3M1380 585h0M1422 585h3M1467 585h0M1221 588h0M1233 588h0M1248 588h9M1266 588h6M1287 588h6M1299 588h0M1305 588h0M1317 588h3M1326 588h0M1332 588h0M1338 588h3M1347 588h0M1353 588h0M1359 588h3M1425 588h0M1434 588h0M1506 588h0M1236 591h3M1245 591h6M1263 591h0M1269 591h3M1278 591h6M1290 591h0M1296 591h3M1311 591h0M1317 591h6M1332 591h0M1338 591h0M1365 591h0M1371 591h3M1383 591h0M1395 591h0M1470 591h0M1497 591h0M1215 594h0M1224 594h0M1239 594h9M1260 594h0M1269 594h0M1278 594h9M1299 594h0M1308 594h15M1329 594h0M1341 594h0M1347 594h0M1353 594h0M1359 594h0M1368 594h0M1380 594h0M1401 594h0M1446 594h0M1464 594h3M1482 594h0M1197 597h3M1227 597h0M1248 597h3M1257 597h0M1263 597h9M1281 597h3M1293 597h9M1308 597h12M1326 597h0M1332 597h0M1344 597h6M1356 597h9M1371 597h0M1377 597h0M1395 597h0M1419 597h0M1473 597h0M1233 600h0M1254 600h0M1263 600h0M1278 600h0M1284 600h0M1290 600h0M1296 600h3M1317 600h3M1329 600h6M1341 600h0M1353 600h6M1365 600h0M1386 600h3M1464 600h0M1518 600h0M1218 603h3M1230 603h0M1236 603h0M1248 603h0M1260 603h3M1269 603h12M1287 603h6M1299 603h0M1311 603h0M1323 603h6M1341 603h3M1353 603h3M1362 603h3M1380 603h3M1404 603h0M1422 603h0M1431 603h0M1446 603h0M1455 603h0M1476 603h0M1212 606h0M1248 606h0M1254 606h0M1260 606h0M1272 606h6M1290 606h6M1305 606h6M1317 606h6M1329 606h3M1344 606h0M1350 606h6M1362 606h0M1377 606h0M1389 606h0M1398 606h3M1422 606h0M1428 606h0M1449 606h0M1143 609h0M1194 609h0M1215 609h3M1227 609h0M1242 609h6M1254 609h0M1260 609h6M1272 609h0M1281 609h3M1296 609h0M1305 609h21M1332 609h0M1338 609h3M1347 609h3M1356 609h0M1365 609h0M1371 609h6M1386 609h0M1398 609h0M1410 609h0M1443 609h0M1452 609h0M1491 609h0M1179 612h0M1218 612h0M1227 612h0M1233 612h3M1242 612h9M1260 612h6M1272 612h3M1284 612h0M1290 612h3M1299 612h0M1305 612h18M1329 612h0M1353 612h6M1368 612h0M1374 612h0M1404 612h0M1227 615h0M1233 615h3M1245 615h0M1251 615h0M1257 615h21M1284 615h6M1296 615h0M1317 615h0M1323 615h9M1344 615h3M1359 615h0M1368 615h0M1374 615h0M1392 615h0M1413 615h0M1428 615h0M1452 615h3M1479 615h0M1209 618h0M1227 618h0M1236 618h6M1248 618h3M1263 618h0M1269 618h9M1287 618h0M1293 618h0M1299 618h24M1332 618h0M1338 618h3M1347 618h0M1353 618h0M1362 618h0M1377 618h0M1416 618h0M1209 621h0M1233 621h3M1245 621h27M1278 621h6M1290 621h3M1302 621h3M1311 621h0M1320 621h3M1329 621h12M1356 621h3M1374 621h0M1380 621h0M1404 621h0M1455 621h0M1206 624h0M1218 624h0M1227 624h3M1239 624h3M1248 624h6M1263 624h6M1278 624h21M1311 624h18M1344 624h0M1350 624h0M1359 624h0M1380 624h0M1386 624h0M1392 624h0M1407 624h0M1413 624h3M1437 624h0M1497 624h0M1194 627h0M1221 627h0M1227 627h0M1236 627h12M1254 627h0M1260 627h39M1308 627h6M1320 627h0M1326 627h12M1374 627h0M1413 627h0M1167 630h0M1206 630h0M1218 630h3M1236 630h3M1245 630h12M1263 630h0M1275 630h3M1290 630h3M1299 630h6M1311 630h0M1323 630h0M1329 630h0M1341 630h0M1347 630h3M1356 630h0M1362 630h3M1398 630h0M1164 633h0M1185 633h0M1194 633h0M1212 633h0M1218 633h0M1230 633h0M1236 633h0M1242 633h6M1266 633h0M1272 633h6M1284 633h0M1290 633h0M1296 633h6M1308 633h9M1326 633h6M1338 633h3M1347 633h0M1353 633h6M1374 633h0M1413 633h0M1155 636h0M1206 636h0M1212 636h0M1221 636h0M1227 636h3M1236 636h3M1248 636h9M1263 636h3M1278 636h0M1284 636h3M1299 636h0M1311 636h0M1320 636h0M1329 636h6M1344 636h0M1371 636h0M1386 636h0M1410 636h0M1179 639h0M1203 639h0M1221 639h0M1227 639h15M1251 639h0M1260 639h15M1281 639h3M1296 639h3M1305 639h6M1317 639h3M1326 639h0M1335 639h0M1356 639h3M1401 639h0M1407 639h0M1434 639h0M1209 642h6M1227 642h3M1239 642h0M1248 642h9M1263 642h0M1269 642h0M1278 642h3M1290 642h0M1296 642h6M1308 642h0M1320 642h0M1326 642h0M1335 642h0M1344 642h0M1365 642h0M1395 642h0M1185 645h0M1212 645h0M1218 645h0M1224 645h3M1233 645h0M1239 645h3M1251 645h0M1260 645h0M1269 645h3M1278 645h3M1290 645h0M1296 645h0M1305 645h3M1323 645h0M1329 645h0M1344 645h0M1356 645h0M1392 645h0M1203 648h6M1224 648h0M1230 648h0M1236 648h0M1242 648h3M1251 648h0M1263 648h9M1278 648h9M1293 648h3M1305 648h0M1311 648h0M1317 648h3M1335 648h0M1443 648h0M1212 651h0M1218 651h0M1227 651h0M1233 651h9M1251 651h0M1257 651h0M1263 651h0M1269 651h0M1281 651h0M1290 651h0M1296 651h0M1302 651h6M1326 651h0M1392 651h0M1185 654h0M1191 654h0M1197 654h3M1212 654h0M1218 654h0M1233 654h0M1239 654h6M1254 654h6M1266 654h6M1278 654h6M1290 654h30M1326 654h3M1440 654h0M1167 657h0M1206 657h0M1212 657h9M1227 657h0M1233 657h6M1251 657h12M1275 657h0M1281 657h0M1287 657h3M1299 657h6M1314 657h0M1323 657h0M1332 657h0M1161 660h0M1209 660h0M1215 660h0M1224 660h0M1230 660h0M1236 660h0M1242 660h0M1248 660h0M1254 660h0M1260 660h3M1269 660h3M1284 660h0M1290 660h0M1305 660h0M1314 660h0M1326 660h0M1365 660h0M1158 663h0M1176 663h0M1212 663h6M1224 663h6M1239 663h18M1263 663h0M1272 663h3M1290 663h0M1299 663h3M1320 663h0M1329 663h0M1341 663h0M1383 663h0M1428 663h0M1203 666h0M1209 666h0M1233 666h0M1245 666h6M1263 666h0M1269 666h0M1296 666h0M1317 666h0M1323 666h0M1329 666h3M1374 666h0M1176 669h0M1188 669h0M1197 669h0M1206 669h0M1221 669h9M1236 669h0M1242 669h6M1254 669h0M1263 669h9M1278 669h0M1302 669h0M1314 669h0M1323 669h3M1350 669h0M1170 672h3M1188 672h0M1200 672h0M1212 672h0M1224 672h0M1233 672h3M1245 672h0M1254 672h0M1263 672h3M1272 672h0M1284 672h0M1293 672h3M1302 672h0M1314 672h0M1167 675h0M1173 675h0M1191 675h0M1197 675h0M1206 675h0M1212 675h0M1224 675h0M1233 675h0M1242 675h3M1260 675h9M1281 675h0M1287 675h0M1305 675h0M1311 675h0M1320 675h0M1335 675h0M1164 678h0M1185 678h0M1248 678h0M1272 678h3M1284 678h0M1299 678h3M1311 678h0M1182 681h0M1188 681h0M1206 681h3M1215 681h0M1224 681h3M1233 681h0M1257 681h0M1263 681h0M1290 681h0M1296 681h0M1305 681h0M1314 681h3M1335 681h0M1380 681h0M1161 684h0M1188 684h0M1206 684h0M1227 684h0M1236 684h0M1242 684h0M1260 684h0M1278 684h3M1287 684h0M1311 684h0M1329 684h0M1119 687h0M1176 687h0M1215 687h12M1236 687h0M1266 687h3M1281 687h3M1296 687h0M1314 687h0M1332 687h0M1176 690h3M1203 690h0M1209 690h0M1215 690h0M1221 690h0M1227 690h0M1239 690h0M1257 690h0M1287 690h0M1320 690h3M1146 693h0M1173 693h3M1191 693h0M1209 693h0M1218 693h0M1224 693h0M1236 693h0M1254 693h0M1272 693h0M1290 693h0M1320 693h0M1353 693h0M1218 696h0M1227 696h0M1248 696h6M1266 696h0M1272 696h3M1296 696h0M1155 699h0M1203 699h3M1218 699h0M1227 699h0M1242 699h0M1284 699h0M1191 702h0M1206 702h6M1218 702h9M1236 702h0M1278 702h0M1308 702h0M1185 705h0M1200 705h6M1212 705h0M1218 705h0M1227 705h3M1257 705h0M1278 705h0M1302 705h0M1185 708h3M1215 708h0M1230 708h0M1263 708h0M1305 708h0M1158 711h0M1179 711h3M1203 711h3M1227 711h0M1239 711h0M1272 711h0M1293 711h0M1308 711h0M1365 711h0M1167 714h0M1191 714h3M1200 714h3M1221 714h0M1230 714h0M1251 714h0M1266 714h0M1194 717h0M1206 717h0M1227 717h0M1158 720h0M1206 720h0M1215 720h0M1227 720h0M1326 720h0M1143 723h0M1200 723h0M1212 723h0M1191 726h0M1206 726h0M1254 726h0M1305 726h0M1335 726h0M1188 729h0M1218 729h0M1251 729h0M1278 729h0M1191 732h0M1197 732h0M1203 732h0M1212 732h0M1293 732h0M1314 732h0M1200 735h0M1260 735h0M1296 735h0M1287 738h0M1200 741h0M1215 741h0M1272 741h0M1137 747h0M1167 747h0M1182 747h0M1209 747h0M1266 747h0M1182 750h0M1269 750h0M1152 753h0M1269 753h0M1218 756h0M1200 759h0M1239 759h0M1278 759h0M1122 762h0M1134 762h0M1176 762h0"/><path d="M1527 219h0M1551 246h0M1626 246h0M1566 255h0M1503 261h0M1560 261h0M1503 267h0M1539 267h0M1554 267h0M1548 273h3M1458 276h0M1536 276h0M1434 279h0M1491 279h0M1557 279h0M1584 279h0M1503 282h3M1524 282h0M1539 282h0M1638 282h0M1485 285h0M1494 285h0M1590 285h0M1608 285h0M1455 288h0M1551 288h0M1527 291h0M1539 291h0M1458 294h0M1506 294h0M1548 294h0M1485 297h0M1494 297h0M1536 297h0M1341 300h0M1500 300h0M1512 300h3M1548 300h3M1452 303h0M1467 303h0M1491 303h0M1512 303h6M1545 303h0M1572 303h0M1449 306h0M1467 306h0M1476 306h0M1485 306h3M1527 306h0M1542 306h0M1467 309h0M1500 309h0M1512 309h0M1536 309h0M1596 309h0M1521 312h3M1551 312h0M1470 315h0M1491 315h0M1506 315h0M1521 315h0M1548 315h0M1389 318h0M1455 318h0M1467 318h0M1497 318h0M1527 318h0M1533 318h3M1566 318h0M1608 318h0M1494 321h0M1518 321h0M1527 321h0M1533 321h0M1416 324h0M1440 324h3M1515 324h0M1521 324h0M1530 324h0M1437 327h0M1464 327h0M1473 327h0M1494 327h0M1503 327h0M1518 327h3M1551 327h0M1560 327h0M1566 327h0M1605 327h0M1458 330h0M1506 330h0M1521 330h3M1380 333h0M1455 333h3M1470 333h0M1482 333h0M1512 333h0M1545 333h0M1428 336h0M1449 336h0M1476 336h0M1482 336h0M1494 336h0M1518 336h0M1548 336h3M1485 339h0M1506 339h3M1518 339h0M1524 339h0M1596 339h0M1380 342h0M1479 342h0M1500 342h0M1506 342h3M1515 342h0M1410 345h0M1455 345h0M1413 348h3M1446 348h0M1452 348h0M1458 348h0M1473 348h0M1488 348h0M1530 348h0M1536 348h0M1479 351h0M1509 351h0M1539 351h0M1329 354h0M1440 354h0M1506 354h0M1521 354h0M1332 357h0M1467 357h0M1476 357h0M1512 357h3M1551 357h0M1569 357h0M1443 363h0M1485 363h0M1527 363h0M1551 363h0M1515 366h3M1434 369h0M1293 372h0M1422 372h0M1458 372h0M1503 372h0M1323 375h0M1449 375h0M1482 375h3M1497 375h0M1524 375h0M1557 375h0M1431 378h0M1458 378h0M1500 378h0M1509 381h0M1464 384h3M1521 384h0M1572 384h0M1587 384h0M1269 387h0M1275 387h0M1431 387h0M1443 387h0M1470 387h0M1479 387h0M1485 387h0M1506 387h0M1245 390h0M1443 390h0M1488 390h3M1617 390h0M1458 393h0M1488 393h0M1545 393h0M1323 396h0M1332 396h0M1422 396h0M1470 396h0M1494 396h0M1512 396h0M1275 399h0M1452 399h0M1500 399h0M1461 402h0M1482 402h0M1521 402h0M1533 402h0M1404 405h0M1464 405h0M1467 408h0M1482 408h0M1515 408h0M1482 411h0M1488 411h0M1284 414h0M1386 414h0M1395 414h0M1545 414h0M1389 417h0M1479 417h0M1329 420h0M1353 420h0M1494 420h0M1431 423h0M1449 423h0M1458 423h0M1506 423h0M1263 426h0M1449 426h0M1467 426h0M1521 426h3M1329 429h0M1284 432h0M1392 432h0M1413 432h0M1494 432h0M1527 432h0M1566 432h0M1323 435h0M1386 435h0M1506 435h0M1266 441h0M1482 441h0M1524 441h0M1413 444h0M1452 444h0M1485 444h0M1344 447h0M1512 447h0M1548 447h0M1290 450h0M1446 450h0M1494 450h0M1335 453h0M1383 453h0M1443 453h0M1464 453h0M1476 453h0M1533 453h0M1545 453h0M1512 456h0M1299 459h0M1422 459h0M1479 459h0M1299 462h0M1344 462h0M1431 462h0M1494 462h0M1254 465h0M1335 465h0M1362 465h0M1383 465h0M1434 465h0M1446 465h0M1488 465h0M1440 468h0M1470 468h0M1332 471h0M1362 471h0M1464 471h0M1395 477h0M1362 480h0M1392 480h0M1428 480h0M1455 480h0M1464 480h0M1566 480h0M1395 483h3M1410 483h0M1494 483h0M1515 483h0M1386 486h0M1479 486h0M1470 489h0M1320 492h0M1353 492h0M1377 492h0M1401 495h0M1413 495h0M1479 495h0M1485 495h0M1317 498h0M1293 501h0M1323 501h0M1440 501h0M1464 501h0M1476 501h0M1335 504h0M1416 504h0M1389 510h0M1473 510h0M1275 513h0M1356 513h0M1386 513h0M1476 513h0M1248 516h0M1473 516h0M1260 519h0M1437 519h0M1407 522h0M1500 522h0M1284 525h0M1290 525h0M1395 525h0M1419 525h0M1290 528h0M1320 528h3M1386 528h0M1431 528h0M1488 528h0M1500 528h0M1320 531h0M1377 531h0M1446 531h0M1458 531h0M1641 531h0M1302 534h0M1353 534h0M1404 534h0M1416 534h0M1302 537h0M1323 537h0M1422 537h0M1437 537h0M1476 537h0M1497 537h0M1233 540h0M1323 540h0M1362 540h0M1368 540h3M1422 540h0M1269 543h0M1305 543h0M1332 543h0M1338 543h0M1362 543h0M1374 543h0M1392 543h0M1404 543h0M1431 543h0M1464 543h0M1278 546h0M1290 546h0M1302 546h0M1311 546h0M1320 546h0M1362 546h0M1368 546h0M1377 546h0M1419 546h0M1464 546h0M1272 549h0M1314 549h0M1344 549h0M1416 549h3M1233 552h0M1254 552h0M1260 552h0M1272 552h0M1293 552h0M1299 552h0M1305 552h0M1326 552h0M1347 552h0M1362 552h3M1374 552h0M1275 555h0M1290 555h3M1329 555h0M1344 555h0M1350 555h0M1368 555h0M1383 555h0M1395 555h0M1407 555h0M1443 555h0M1455 555h0M1563 555h0M1230 558h0M1266 558h6M1284 558h0M1296 558h0M1302 558h0M1329 558h6M1341 558h3M1365 558h0M1377 558h0M1410 558h0M1437 558h0M1452 558h0M1485 558h0M1524 558h0M1233 561h0M1269 561h0M1290 561h12M1311 561h0M1317 561h0M1326 561h0M1332 561h0M1338 561h6M1359 561h0M1365 561h0M1377 561h0M1404 561h0M1437 561h0M1449 561h0M1515 561h0M1536 561h0M1284 564h0M1299 564h0M1314 564h0M1359 564h0M1404 564h3M1431 564h0M1446 564h0M1452 564h0M1494 564h0M1221 567h0M1236 567h0M1266 567h0M1272 567h3M1293 567h6M1305 567h0M1317 567h6M1329 567h0M1341 567h0M1359 567h0M1365 567h9M1389 567h3M1446 567h0M1455 567h3M1473 567h0M1263 570h3M1272 570h9M1287 570h0M1293 570h0M1302 570h0M1314 570h12M1341 570h3M1356 570h0M1374 570h3M1386 570h3M1395 570h0M1401 570h0M1251 573h6M1263 573h6M1284 573h3M1293 573h3M1305 573h0M1314 573h3M1323 573h3M1332 573h6M1347 573h0M1356 573h0M1362 573h0M1407 573h0M1416 573h0M1434 573h0M1446 573h3M1473 573h0M1215 576h0M1245 576h0M1275 576h0M1290 576h0M1296 576h12M1314 576h0M1323 576h6M1338 576h0M1347 576h3M1356 576h0M1365 576h0M1371 576h0M1377 576h0M1386 576h0M1416 576h3M1518 576h0M1275 579h0M1281 579h0M1287 579h0M1293 579h0M1308 579h9M1323 579h0M1332 579h3M1344 579h9M1359 579h3M1389 579h3M1407 579h0M1413 579h0M1515 579h0M1218 582h0M1257 582h0M1263 582h0M1272 582h6M1284 582h3M1296 582h3M1305 582h0M1314 582h0M1320 582h12M1338 582h0M1347 582h0M1353 582h0M1359 582h0M1365 582h0M1413 582h0M1440 582h0M1515 582h0M1521 582h0M1233 585h3M1242 585h3M1272 585h9M1290 585h3M1299 585h6M1311 585h3M1320 585h6M1338 585h6M1353 585h0M1359 585h3M1371 585h0M1377 585h3M1410 585h0M1425 585h3M1464 585h0M1470 585h0M1494 585h0M1191 588h0M1224 588h0M1230 588h0M1248 588h3M1257 588h0M1266 588h12M1287 588h0M1293 588h0M1299 588h9M1317 588h0M1329 588h6M1344 588h0M1350 588h3M1359 588h0M1380 588h0M1398 588h0M1479 588h0M1605 588h0M1191 591h0M1230 591h0M1239 591h0M1245 591h0M1251 591h0M1257 591h0M1263 591h3M1272 591h0M1284 591h0M1302 591h0M1308 591h6M1320 591h6M1338 591h12M1356 591h3M1365 591h0M1395 591h0M1587 591h0M1179 594h0M1212 594h0M1233 594h0M1245 594h6M1257 594h0M1263 594h3M1272 594h0M1284 594h0M1290 594h9M1305 594h9M1320 594h0M1332 594h3M1344 594h3M1356 594h0M1371 594h9M1404 594h0M1416 594h0M1440 594h0M1548 594h0M1221 597h0M1233 597h0M1248 597h0M1254 597h9M1272 597h3M1290 597h0M1296 597h9M1311 597h0M1317 597h0M1329 597h9M1350 597h0M1362 597h3M1392 597h0M1485 597h0M1512 597h0M1203 600h0M1230 600h0M1245 600h3M1260 600h0M1269 600h9M1284 600h15M1305 600h0M1311 600h9M1326 600h0M1332 600h3M1341 600h0M1347 600h3M1356 600h3M1368 600h0M1425 600h0M1551 600h0M1221 603h0M1242 603h3M1257 603h0M1263 603h12M1281 603h9M1296 603h21M1323 603h3M1332 603h3M1341 603h6M1353 603h0M1392 603h0M1455 603h0M1467 603h0M1182 606h3M1197 606h0M1227 606h0M1236 606h3M1245 606h9M1260 606h0M1266 606h9M1284 606h0M1290 606h0M1299 606h3M1308 606h0M1314 606h30M1356 606h3M1368 606h0M1380 606h9M1404 606h0M1464 606h0M1476 606h0M1488 606h0M1206 609h0M1239 609h0M1248 609h3M1263 609h3M1278 609h9M1299 609h15M1320 609h3M1332 609h3M1341 609h0M1347 609h0M1356 609h0M1362 609h0M1371 609h0M1386 609h0M1419 609h0M1527 609h0M1176 612h0M1218 612h0M1236 612h0M1245 612h18M1269 612h0M1278 612h3M1287 612h9M1302 612h3M1320 612h6M1332 612h3M1347 612h9M1374 612h3M1443 612h0M1215 615h6M1236 615h3M1245 615h0M1251 615h3M1266 615h12M1296 615h0M1305 615h0M1311 615h6M1326 615h3M1341 615h0M1347 615h0M1353 615h3M1368 615h0M1446 615h0M1653 615h0M1227 618h3M1248 618h6M1260 618h0M1266 618h21M1293 618h12M1314 618h0M1329 618h9M1344 618h3M1353 618h3M1362 618h0M1368 618h0M1374 618h3M1386 618h0M1398 618h0M1410 618h0M1428 618h0M1194 621h0M1212 621h0M1227 621h3M1236 621h0M1242 621h6M1254 621h6M1269 621h3M1281 621h6M1293 621h0M1299 621h0M1305 621h6M1320 621h0M1329 621h0M1335 621h0M1347 621h6M1359 621h0M1422 621h0M1482 621h0M1566 621h0M1182 624h0M1191 624h0M1209 624h0M1227 624h0M1233 624h6M1245 624h30M1281 624h12M1299 624h0M1305 624h6M1317 624h3M1326 624h3M1335 624h9M1368 624h0M1410 624h0M1170 627h0M1209 627h0M1221 627h3M1239 627h0M1245 627h0M1257 627h3M1266 627h9M1284 627h3M1296 627h3M1305 627h6M1320 627h0M1329 627h0M1335 627h6M1350 627h3M1362 627h0M1398 627h0M1407 627h0M1476 627h0M1200 630h0M1209 630h3M1227 630h6M1242 630h0M1251 630h3M1260 630h15M1281 630h15M1302 630h0M1314 630h18M1341 630h0M1353 630h0M1377 630h0M1398 630h0M1161 633h0M1185 633h0M1200 633h3M1221 633h6M1233 633h24M1263 633h3M1272 633h3M1284 633h0M1290 633h15M1311 633h3M1320 633h0M1332 633h0M1389 633h0M1170 636h0M1209 636h3M1218 636h0M1227 636h9M1254 636h0M1260 636h0M1275 636h9M1290 636h6M1308 636h0M1320 636h0M1329 636h0M1335 636h0M1344 636h0M1359 636h3M1368 636h0M1380 636h0M1386 636h0M1176 639h0M1188 639h0M1200 639h3M1227 639h0M1233 639h6M1245 639h6M1263 639h0M1269 639h9M1284 639h0M1290 639h3M1299 639h0M1305 639h0M1311 639h6M1326 639h3M1335 639h0M1389 639h0M1410 639h0M1419 639h0M1206 642h0M1227 642h0M1239 642h0M1245 642h3M1254 642h6M1269 642h0M1278 642h3M1287 642h3M1296 642h0M1305 642h3M1317 642h0M1323 642h0M1338 642h0M1374 642h0M1383 642h0M1203 645h0M1209 645h0M1221 645h3M1230 645h0M1236 645h3M1245 645h0M1254 645h0M1278 645h9M1296 645h3M1305 645h0M1314 645h0M1350 645h3M1359 645h0M1413 645h0M1482 645h0M1200 648h0M1215 648h12M1233 648h3M1242 648h6M1257 648h0M1266 648h9M1281 648h0M1287 648h0M1302 648h3M1329 648h3M1353 648h3M1176 651h0M1200 651h0M1206 651h3M1218 651h3M1230 651h0M1242 651h18M1266 651h3M1281 651h3M1296 651h9M1317 651h0M1338 651h0M1365 651h0M1401 651h0M1185 654h0M1218 654h6M1233 654h0M1242 654h15M1263 654h6M1275 654h0M1290 654h0M1296 654h0M1305 654h6M1320 654h0M1329 654h0M1362 654h0M1407 654h0M1209 657h3M1218 657h3M1227 657h6M1239 657h6M1254 657h3M1263 657h0M1269 657h12M1287 657h0M1293 657h0M1314 657h0M1320 657h0M1338 657h0M1359 657h0M1194 660h0M1209 660h0M1218 660h0M1224 660h6M1251 660h12M1269 660h0M1275 660h3M1293 660h0M1299 660h0M1317 660h3M1332 660h0M1365 660h0M1179 663h0M1209 663h0M1221 663h0M1227 663h12M1248 663h6M1260 663h0M1266 663h3M1275 663h0M1287 663h0M1305 663h0M1326 663h0M1338 663h0M1365 663h0M1158 666h0M1173 666h0M1197 666h3M1218 666h0M1224 666h0M1233 666h18M1257 666h3M1266 666h0M1278 666h6M1296 666h0M1302 666h0M1311 666h0M1320 666h0M1356 666h0M1365 666h0M1383 666h0M1149 669h0M1170 669h0M1194 669h3M1206 669h0M1215 669h0M1224 669h0M1230 669h0M1236 669h3M1245 669h3M1254 669h0M1263 669h0M1269 669h3M1284 669h3M1302 669h0M1332 669h0M1362 669h0M1173 672h0M1209 672h3M1218 672h3M1227 672h9M1248 672h0M1263 672h0M1275 672h0M1284 672h0M1290 672h3M1299 672h6M1311 672h0M1317 672h0M1332 672h0M1200 675h0M1212 675h0M1221 675h0M1230 675h0M1242 675h0M1254 675h6M1266 675h0M1272 675h0M1281 675h0M1287 675h0M1296 675h3M1305 675h0M1317 675h0M1329 675h0M1206 678h0M1224 678h0M1233 678h0M1239 678h0M1248 678h0M1254 678h9M1272 678h0M1278 678h0M1284 678h0M1296 678h3M1320 678h0M1335 678h0M1362 678h0M1176 681h0M1185 681h0M1200 681h3M1224 681h0M1230 681h0M1236 681h0M1242 681h3M1263 681h6M1275 681h0M1287 681h3M1296 681h0M1335 681h0M1170 684h3M1185 684h0M1197 684h3M1209 684h0M1215 684h0M1224 684h0M1251 684h9M1275 684h0M1284 684h6M1308 684h0M1314 684h3M1329 684h0M1347 684h0M1191 687h0M1206 687h6M1230 687h6M1254 687h3M1281 687h0M1296 687h0M1302 687h3M1191 690h0M1209 690h0M1215 690h0M1224 690h0M1230 690h0M1263 690h0M1287 690h0M1293 690h0M1317 690h0M1347 690h0M1356 690h0M1182 693h0M1203 693h0M1215 693h0M1221 693h3M1230 693h3M1260 693h0M1266 693h0M1281 693h0M1299 693h0M1164 696h0M1245 696h0M1251 696h0M1287 696h0M1299 696h0M1323 696h0M1161 699h0M1191 699h0M1233 699h0M1245 699h0M1251 699h3M1284 699h0M1293 699h0M1197 702h0M1206 702h0M1221 702h0M1236 702h0M1251 702h0M1269 702h0M1281 702h0M1290 702h0M1305 702h0M1191 705h0M1200 705h0M1215 705h3M1254 705h0M1203 708h0M1209 708h0M1215 708h0M1233 708h0M1251 708h0M1266 708h0M1278 708h0M1284 708h0M1176 711h0M1197 711h0M1212 711h3M1230 711h0M1236 711h0M1269 711h0M1281 711h3M1320 711h0M1182 714h0M1188 714h0M1233 714h0M1248 714h3M1284 714h0M1176 717h3M1188 717h0M1197 717h0M1221 717h0M1260 717h0M1287 717h0M1173 720h0M1185 720h0M1200 720h0M1206 720h0M1254 720h0M1275 720h0M1167 723h0M1173 723h0M1188 723h0M1203 723h3M1224 723h0M1266 723h3M1140 726h0M1188 726h3M1209 726h0M1215 726h0M1239 726h0M1254 726h0M1161 729h0M1173 729h3M1185 729h0M1197 729h0M1215 729h0M1227 729h0M1236 729h0M1332 729h0M1191 732h0M1203 732h0M1212 732h0M1248 732h0M1275 732h0M1161 735h0M1179 735h0M1224 735h0M1251 735h0M1284 735h0M1164 738h0M1194 738h0M1161 741h0M1197 741h0M1218 741h0M1236 741h0M1194 744h0M1122 747h0M1290 747h0M1170 750h0M1203 750h0M1164 756h0M1152 759h0M1194 762h0M1185 765h0M1176 774h0"/><path d="M1503 231h0M1527 243h0M1548 249h0M1476 252h0M1524 255h0M1572 255h0M1569 261h0M1467 264h0M1494 264h0M1578 264h0M1500 273h3M1533 273h0M1539 276h0M1593 276h0M1506 279h3M1557 279h0M1569 279h0M1533 282h0M1464 285h0M1479 285h0M1497 285h0M1506 285h0M1518 285h0M1524 285h0M1548 285h0M1578 285h0M1464 288h0M1524 288h0M1548 288h0M1608 288h0M1425 291h0M1488 291h0M1494 291h0M1506 291h0M1560 291h0M1470 294h0M1521 294h0M1551 294h0M1557 294h0M1428 297h0M1446 297h0M1497 297h0M1530 297h0M1542 297h0M1581 297h0M1587 297h0M1317 300h0M1443 300h0M1473 300h0M1488 300h0M1494 300h0M1512 300h0M1557 300h0M1581 300h0M1590 300h0M1503 303h0M1509 303h0M1518 303h0M1530 303h0M1470 306h0M1494 306h0M1500 306h0M1533 306h0M1557 306h0M1446 309h0M1452 309h0M1494 309h0M1527 309h0M1536 309h0M1545 309h0M1569 309h0M1593 309h0M1449 312h0M1479 312h0M1485 312h0M1506 312h3M1524 312h0M1536 312h0M1542 312h0M1497 315h3M1527 315h0M1548 315h0M1566 315h0M1401 318h0M1467 318h0M1485 318h0M1491 318h3M1533 318h0M1557 318h0M1467 321h0M1518 321h6M1563 321h0M1443 324h0M1452 324h0M1461 324h0M1467 324h0M1485 324h0M1509 324h3M1524 324h0M1530 324h0M1545 324h3M1554 324h0M1443 327h0M1488 327h0M1497 327h0M1512 327h0M1539 327h0M1545 327h0M1560 327h0M1578 327h0M1605 327h0M1644 327h0M1455 330h0M1488 330h0M1494 330h3M1551 330h0M1506 333h0M1521 333h0M1539 333h0M1437 336h0M1488 336h0M1509 336h0M1524 336h3M1533 336h3M1548 336h0M1449 339h0M1458 339h0M1482 339h0M1491 339h3M1551 339h0M1461 342h0M1485 342h0M1494 342h0M1527 342h0M1551 342h0M1458 345h0M1482 345h0M1500 345h0M1527 345h0M1578 345h0M1596 345h0M1401 348h0M1428 348h6M1449 348h0M1476 348h0M1482 348h0M1524 348h0M1266 351h0M1326 351h0M1368 351h0M1503 351h0M1530 351h3M1446 354h3M1227 357h0M1452 357h0M1410 360h0M1527 360h0M1401 363h0M1470 363h0M1494 363h0M1512 363h3M1428 366h0M1224 369h0M1419 369h0M1431 369h0M1437 369h0M1443 369h0M1461 369h0M1497 369h0M1566 369h0M1380 372h0M1389 372h0M1398 372h0M1464 372h3M1338 375h0M1431 375h0M1467 375h0M1551 375h0M1449 378h0M1503 378h0M1599 378h0M1464 381h0M1506 381h0M1560 381h0M1518 384h0M1524 384h0M1308 387h0M1365 387h0M1452 387h0M1464 387h0M1482 387h6M1497 387h0M1515 387h0M1278 390h0M1386 390h0M1431 390h0M1452 390h0M1515 393h0M1437 396h0M1443 396h3M1353 399h0M1392 399h0M1335 402h0M1404 402h0M1458 402h0M1476 402h3M1251 408h0M1443 408h0M1464 408h0M1491 408h0M1512 408h0M1425 411h0M1476 414h0M1284 417h0M1440 417h0M1467 417h0M1530 417h0M1359 420h0M1422 420h0M1494 420h0M1305 423h0M1362 423h0M1518 423h0M1503 426h0M1539 426h0M1311 429h0M1353 432h0M1461 432h0M1503 432h0M1521 432h0M1341 435h0M1446 435h0M1584 435h0M1383 438h0M1392 438h0M1422 438h0M1452 438h0M1485 438h0M1533 438h0M1374 441h0M1407 441h0M1458 441h0M1491 441h0M1554 441h0M1344 447h0M1374 447h0M1398 447h0M1446 447h0M1464 447h0M1299 450h0M1311 450h0M1458 450h0M1470 450h0M1479 450h0M1527 450h0M1440 453h3M1518 453h0M1554 453h0M1416 456h0M1422 456h0M1401 459h3M1440 459h0M1545 459h0M1311 462h0M1362 462h0M1374 462h0M1398 465h0M1425 465h0M1539 465h0M1347 468h0M1479 468h0M1410 471h0M1446 471h0M1341 474h0M1401 474h0M1410 474h0M1458 474h0M1476 474h0M1506 474h0M1479 477h0M1464 480h0M1347 483h0M1392 483h0M1407 483h0M1449 483h0M1338 486h0M1464 486h0M1314 489h0M1452 489h0M1461 489h0M1365 492h0M1380 492h0M1491 492h0M1518 492h0M1461 495h0M1494 495h0M1509 495h0M1419 498h0M1470 498h0M1395 501h0M1404 501h0M1464 501h0M1485 501h0M1422 504h0M1434 504h0M1299 507h0M1488 507h0M1386 510h0M1473 510h0M1518 510h0M1557 510h0M1437 513h0M1314 516h0M1335 516h0M1500 516h0M1284 519h0M1320 519h0M1335 519h0M1365 519h0M1386 519h0M1320 522h0M1347 522h0M1374 522h0M1383 522h0M1299 525h0M1308 525h0M1314 525h0M1320 525h0M1356 525h0M1422 525h0M1443 525h0M1509 525h0M1302 528h3M1317 528h0M1341 528h0M1413 528h0M1332 531h0M1452 531h0M1308 534h0M1338 534h0M1359 534h0M1374 534h0M1380 534h0M1389 534h0M1497 534h0M1257 537h0M1380 537h0M1419 537h0M1533 537h0M1272 540h3M1281 540h0M1299 540h0M1308 540h0M1323 540h0M1338 540h0M1344 540h3M1368 540h0M1374 540h0M1428 540h0M1461 540h0M1251 543h0M1299 543h0M1305 543h0M1311 543h3M1338 543h0M1347 543h0M1353 543h0M1437 543h0M1500 543h0M1533 543h0M1266 546h0M1293 546h0M1320 546h0M1326 546h0M1350 546h0M1356 546h3M1374 546h0M1383 546h0M1413 546h0M1419 546h0M1428 546h0M1467 546h0M1473 546h0M1257 549h0M1296 549h0M1317 549h0M1323 549h0M1329 549h0M1362 549h0M1404 549h0M1413 549h0M1422 549h0M1449 549h0M1482 549h0M1263 552h0M1296 552h0M1323 552h3M1332 552h3M1350 552h0M1356 552h0M1362 552h0M1380 552h0M1458 552h0M1281 555h0M1302 555h0M1314 555h3M1329 555h0M1338 555h3M1350 555h0M1359 555h0M1368 555h0M1374 555h0M1383 555h0M1398 555h0M1404 555h6M1416 555h0M1464 555h0M1506 555h0M1269 558h0M1314 558h0M1323 558h0M1353 558h0M1359 558h0M1380 558h0M1392 558h0M1248 561h0M1260 561h0M1266 561h0M1278 561h0M1302 561h0M1311 561h3M1323 561h0M1341 561h3M1350 561h0M1377 561h0M1383 561h0M1389 561h0M1410 561h0M1446 561h0M1461 561h0M1497 561h3M1266 564h0M1272 564h3M1284 564h3M1293 564h0M1299 564h0M1317 564h3M1326 564h0M1332 564h3M1341 564h0M1356 564h0M1362 564h3M1389 564h0M1401 564h0M1419 564h0M1467 564h0M1491 564h0M1500 564h0M1287 567h0M1296 567h0M1308 567h6M1326 567h0M1335 567h3M1344 567h6M1356 567h0M1362 567h0M1416 567h0M1428 567h0M1449 567h0M1461 567h0M1488 567h0M1494 567h0M1266 570h3M1284 570h0M1290 570h12M1314 570h18M1347 570h3M1356 570h0M1368 570h0M1395 570h0M1413 570h0M1449 570h3M1488 570h0M1221 573h0M1248 573h0M1260 573h3M1269 573h0M1281 573h0M1287 573h3M1299 573h0M1308 573h3M1320 573h0M1329 573h0M1338 573h0M1347 573h0M1365 573h0M1371 573h0M1389 573h0M1428 573h0M1224 576h0M1248 576h0M1254 576h0M1263 576h0M1284 576h0M1290 576h3M1305 576h6M1323 576h3M1338 576h6M1350 576h6M1386 576h0M1395 576h0M1425 576h0M1431 576h0M1437 576h0M1452 576h3M1176 579h0M1200 579h0M1227 579h0M1233 579h3M1245 579h0M1269 579h0M1275 579h6M1290 579h0M1296 579h6M1308 579h9M1323 579h3M1332 579h6M1344 579h3M1356 579h0M1365 579h0M1383 579h3M1431 579h0M1200 582h0M1245 582h0M1257 582h0M1266 582h0M1272 582h0M1284 582h0M1290 582h0M1299 582h3M1311 582h3M1326 582h3M1341 582h9M1359 582h0M1389 582h0M1398 582h0M1422 582h0M1482 582h0M1224 585h0M1257 585h0M1272 585h6M1284 585h0M1290 585h9M1308 585h3M1317 585h3M1347 585h3M1356 585h0M1368 585h0M1374 585h6M1386 585h0M1392 585h0M1398 585h6M1425 585h0M1437 585h0M1455 585h0M1473 585h0M1224 588h0M1230 588h0M1236 588h0M1245 588h0M1260 588h3M1269 588h9M1284 588h9M1299 588h3M1308 588h0M1317 588h3M1326 588h0M1332 588h0M1344 588h12M1377 588h0M1389 588h0M1395 588h0M1407 588h0M1431 588h0M1467 588h0M1473 588h0M1560 588h0M1227 591h0M1260 591h0M1269 591h6M1281 591h0M1290 591h0M1299 591h9M1317 591h0M1329 591h12M1347 591h3M1356 591h0M1362 591h0M1383 591h0M1410 591h0M1431 591h0M1245 594h0M1251 594h0M1257 594h9M1275 594h9M1290 594h0M1305 594h0M1314 594h6M1329 594h0M1341 594h0M1359 594h0M1365 594h0M1374 594h0M1389 594h0M1416 594h0M1443 594h0M1455 594h0M1491 594h0M1533 594h0M1155 597h0M1209 597h0M1245 597h3M1260 597h3M1275 597h0M1281 597h3M1290 597h0M1296 597h3M1305 597h12M1326 597h3M1335 597h9M1356 597h0M1362 597h3M1404 597h0M1422 597h3M1443 597h0M1155 600h0M1245 600h0M1251 600h0M1260 600h6M1272 600h12M1290 600h3M1299 600h6M1320 600h0M1326 600h0M1335 600h3M1344 600h6M1368 600h0M1374 600h0M1383 600h0M1389 600h0M1407 600h0M1416 600h0M1428 600h0M1434 600h0M1446 600h0M1497 600h0M1209 603h0M1218 603h0M1236 603h3M1245 603h3M1254 603h3M1272 603h3M1284 603h6M1308 603h0M1323 603h3M1338 603h3M1347 603h15M1380 603h0M1395 603h3M1416 603h0M1467 603h0M1476 603h0M1221 606h0M1227 606h6M1242 606h9M1257 606h3M1266 606h12M1284 606h0M1296 606h0M1302 606h0M1308 606h6M1320 606h3M1329 606h3M1338 606h3M1347 606h9M1365 606h0M1371 606h3M1386 606h0M1413 606h6M1470 606h0M1197 609h0M1203 609h0M1236 609h0M1251 609h0M1269 609h0M1278 609h12M1302 609h0M1308 609h27M1344 609h0M1350 609h0M1356 609h0M1407 609h0M1440 609h0M1464 609h0M1518 609h0M1200 612h0M1233 612h0M1242 612h0M1248 612h0M1254 612h0M1260 612h3M1269 612h0M1275 612h9M1293 612h0M1299 612h0M1305 612h24M1338 612h3M1350 612h0M1356 612h0M1365 612h0M1419 612h0M1437 612h0M1116 615h0M1203 615h0M1218 615h0M1227 615h0M1239 615h0M1248 615h0M1254 615h0M1269 615h6M1281 615h9M1299 615h27M1335 615h0M1341 615h12M1368 615h0M1398 615h0M1407 615h0M1500 615h0M1539 615h0M1161 618h0M1212 618h3M1224 618h3M1233 618h0M1242 618h0M1248 618h6M1260 618h0M1266 618h6M1278 618h12M1299 618h15M1323 618h9M1338 618h0M1344 618h6M1359 618h0M1365 618h3M1401 618h0M1200 621h0M1209 621h3M1233 621h0M1239 621h3M1248 621h0M1254 621h3M1266 621h3M1275 621h3M1287 621h3M1299 621h0M1320 621h0M1329 621h18M1353 621h6M1377 621h0M1404 621h0M1416 621h0M1494 621h0M1161 624h0M1209 624h0M1224 624h21M1251 624h0M1260 624h0M1269 624h9M1284 624h12M1302 624h0M1311 624h3M1326 624h6M1338 624h3M1353 624h0M1368 624h0M1401 624h0M1428 624h0M1173 627h0M1197 627h0M1206 627h0M1230 627h0M1236 627h6M1257 627h6M1269 627h15M1290 627h3M1308 627h0M1326 627h0M1344 627h0M1461 627h6M1200 630h0M1209 630h0M1221 630h0M1227 630h0M1233 630h12M1251 630h3M1260 630h18M1293 630h6M1305 630h9M1323 630h0M1329 630h0M1338 630h0M1344 630h0M1353 630h0M1365 630h0M1380 630h0M1422 630h0M1437 630h0M1476 630h0M1164 633h0M1176 633h0M1230 633h0M1242 633h9M1257 633h0M1263 633h0M1269 633h15M1290 633h6M1302 633h3M1311 633h0M1317 633h0M1323 633h3M1335 633h0M1350 633h6M1392 633h0M1401 633h0M1206 636h12M1224 636h6M1242 636h3M1251 636h3M1260 636h3M1281 636h0M1287 636h9M1302 636h9M1317 636h0M1323 636h0M1338 636h0M1350 636h0M1359 636h3M1455 636h0M1191 639h0M1212 639h6M1227 639h0M1236 639h0M1248 639h3M1260 639h3M1272 639h3M1281 639h0M1290 639h0M1299 639h3M1311 639h0M1329 639h0M1353 639h0M1389 639h0M1191 642h0M1197 642h0M1203 642h0M1224 642h0M1230 642h0M1236 642h0M1245 642h3M1254 642h9M1272 642h0M1278 642h0M1284 642h3M1293 642h3M1311 642h0M1317 642h3M1326 642h0M1335 642h3M1347 642h3M1371 642h9M1146 645h0M1188 645h0M1194 645h0M1200 645h0M1224 645h0M1230 645h0M1236 645h0M1251 645h0M1260 645h0M1269 645h6M1281 645h21M1308 645h6M1323 645h0M1329 645h0M1350 645h0M1383 645h0M1389 645h0M1422 645h0M1206 648h0M1221 648h3M1233 648h0M1242 648h9M1260 648h12M1278 648h0M1284 648h0M1290 648h0M1299 648h0M1308 648h0M1317 648h0M1329 648h0M1338 648h3M1347 648h0M1164 651h0M1179 651h0M1197 651h6M1227 651h0M1239 651h0M1251 651h0M1263 651h0M1269 651h0M1275 651h0M1281 651h0M1287 651h6M1299 651h3M1317 651h3M1326 651h0M1434 651h0M1152 654h0M1191 654h0M1206 654h0M1221 654h6M1242 654h3M1251 654h0M1257 654h3M1278 654h12M1296 654h0M1314 654h0M1323 654h3M1338 654h0M1137 657h0M1179 657h3M1188 657h0M1218 657h0M1224 657h0M1245 657h0M1254 657h3M1263 657h3M1272 657h3M1293 657h3M1302 657h0M1320 657h0M1338 657h0M1416 657h0M1158 660h0M1212 660h0M1224 660h15M1245 660h6M1266 660h0M1272 660h6M1284 660h0M1290 660h0M1296 660h3M1305 660h0M1314 660h0M1323 660h0M1215 663h12M1233 663h0M1239 663h0M1245 663h0M1254 663h3M1269 663h0M1278 663h0M1284 663h0M1293 663h0M1299 663h0M1308 663h0M1314 663h0M1332 663h0M1347 663h0M1182 666h0M1212 666h9M1233 666h12M1260 666h0M1269 666h12M1290 666h0M1299 666h0M1320 666h3M1329 666h0M1344 666h0M1356 666h3M1374 666h0M1173 669h0M1203 669h0M1218 669h0M1224 669h0M1245 669h3M1257 669h6M1269 669h0M1275 669h3M1284 669h0M1293 669h0M1299 669h0M1311 669h0M1317 669h0M1329 669h3M1350 669h0M1125 672h0M1143 672h0M1188 672h0M1215 672h3M1224 672h0M1233 672h0M1257 672h0M1263 672h0M1272 672h0M1278 672h3M1290 672h0M1311 672h0M1320 672h0M1326 672h3M1161 675h0M1182 675h0M1200 675h0M1224 675h3M1236 675h0M1242 675h0M1269 675h6M1290 675h0M1176 678h0M1191 678h0M1212 678h0M1221 678h6M1236 678h0M1245 678h3M1254 678h0M1260 678h0M1269 678h3M1284 678h9M1305 678h0M1323 678h0M1179 681h0M1221 681h15M1245 681h0M1251 681h0M1263 681h3M1293 681h0M1299 681h6M1212 684h3M1224 684h3M1260 684h0M1266 684h0M1278 684h0M1290 684h0M1302 684h3M1314 684h0M1329 684h3M1185 687h3M1215 687h0M1224 687h3M1239 687h0M1245 687h0M1254 687h0M1260 687h0M1296 687h0M1164 690h0M1197 690h6M1215 690h0M1221 690h3M1233 690h0M1245 690h0M1254 690h0M1266 690h0M1275 690h0M1284 690h0M1188 693h0M1197 693h0M1209 693h0M1230 693h3M1239 693h6M1254 693h0M1263 693h0M1317 693h3M1197 696h3M1206 696h0M1215 696h0M1227 696h3M1236 696h0M1242 696h0M1257 696h0M1290 696h0M1299 696h0M1305 696h0M1314 696h0M1344 696h0M1203 699h3M1221 699h0M1239 699h0M1245 699h3M1254 699h0M1260 699h0M1266 699h0M1281 699h0M1311 699h3M1323 699h0M1185 702h0M1230 702h0M1239 702h0M1245 702h0M1254 702h0M1263 702h0M1269 702h0M1299 702h0M1164 705h0M1173 705h0M1203 705h6M1215 705h3M1239 705h0M1245 705h0M1341 705h0M1167 708h0M1176 708h3M1188 708h0M1215 708h0M1254 708h0M1191 711h0M1197 711h0M1203 711h0M1209 711h0M1215 711h3M1227 711h0M1266 711h0M1284 711h0M1209 714h3M1224 714h0M1245 714h0M1260 714h0M1314 714h0M1209 717h0M1236 717h0M1248 717h6M1284 717h0M1185 720h0M1191 720h0M1203 720h0M1233 720h0M1296 720h0M1302 720h0M1188 723h0M1194 723h0M1221 723h3M1233 723h0M1164 726h0M1170 726h0M1182 726h0M1197 726h0M1203 726h3M1215 726h0M1242 726h0M1176 729h0M1212 729h0M1236 729h0M1287 729h0M1293 729h0M1185 732h0M1191 732h0M1197 732h0M1152 735h0M1191 735h0M1278 735h0M1317 735h0M1182 738h0M1212 738h0M1251 738h0M1146 744h0M1161 744h0M1182 744h0M1200 744h0M1206 744h0M1230 750h0M1269 753h0M1170 756h0M1296 756h0M1143 759h0M1215 759h0M1248 762h0M1194 771h0"/><path d="M1473 207h0M1596 243h0M1509 246h0M1560 249h0M1446 252h0M1521 252h0M1656 255h0M1521 258h0M1539 261h0M1497 264h0M1497 267h0M1416 273h0M1431 273h0M1527 273h0M1545 273h0M1557 273h0M1581 273h0M1587 276h0M1482 279h0M1491 279h0M1497 279h0M1521 279h0M1464 282h0M1500 282h0M1593 282h0M1473 285h0M1497 285h0M1515 285h3M1524 285h3M1551 285h0M1617 285h0M1500 288h0M1506 288h0M1557 288h0M1590 288h0M1536 291h0M1563 291h0M1407 294h0M1491 294h0M1497 294h3M1506 294h3M1548 294h0M1566 294h0M1380 297h0M1404 297h0M1473 297h0M1479 297h0M1485 297h0M1500 297h0M1527 300h0M1488 303h0M1497 303h3M1512 303h0M1572 303h0M1467 306h0M1524 306h0M1542 306h0M1551 306h0M1578 306h3M1398 309h0M1494 309h0M1503 309h0M1542 309h0M1551 309h0M1383 312h0M1473 312h0M1530 312h0M1569 312h0M1644 312h0M1404 315h0M1413 315h0M1452 315h0M1467 315h0M1479 315h0M1533 315h0M1455 318h0M1461 318h0M1497 318h0M1503 318h0M1530 318h0M1293 321h0M1431 321h0M1449 321h0M1479 321h0M1485 321h0M1494 321h0M1521 321h0M1533 321h0M1548 321h0M1581 321h0M1635 321h0M1422 324h0M1473 324h3M1491 324h0M1503 324h0M1518 324h0M1524 324h0M1509 327h3M1527 327h3M1554 327h0M1572 327h0M1419 330h0M1449 330h0M1467 330h0M1473 330h3M1530 330h0M1575 330h0M1449 333h0M1464 333h0M1476 333h0M1482 333h0M1521 333h0M1542 333h0M1551 333h0M1569 333h0M1596 333h0M1293 336h0M1467 336h0M1473 336h0M1524 336h0M1530 336h0M1581 336h0M1419 339h0M1431 339h0M1464 339h0M1473 339h0M1479 339h0M1317 342h0M1464 342h0M1479 342h0M1488 342h0M1518 342h0M1557 342h0M1572 342h0M1305 345h0M1440 345h0M1455 345h0M1491 345h0M1539 345h0M1479 348h0M1602 348h0M1431 351h0M1437 351h0M1458 351h0M1524 351h0M1539 351h0M1458 354h0M1503 354h0M1509 354h0M1527 354h0M1536 354h0M1377 357h0M1476 357h0M1509 357h0M1581 357h0M1398 360h0M1422 360h0M1521 366h0M1557 366h0M1605 366h0M1404 369h0M1413 369h0M1419 369h0M1449 369h0M1518 369h0M1557 369h0M1293 372h0M1341 372h0M1416 372h0M1467 372h0M1308 375h0M1449 375h0M1461 375h0M1488 375h0M1464 378h0M1557 378h0M1593 378h0M1482 381h0M1497 381h0M1314 384h0M1317 387h0M1482 387h3M1398 390h0M1434 390h0M1530 390h0M1344 393h0M1377 393h0M1413 393h0M1533 393h0M1542 393h0M1425 396h0M1488 396h0M1332 399h0M1434 399h0M1491 399h0M1503 402h0M1527 402h0M1278 405h0M1347 405h0M1476 405h0M1401 408h0M1416 408h0M1368 411h0M1386 411h0M1446 411h0M1401 414h0M1446 414h0M1458 414h0M1509 414h0M1545 414h0M1278 417h0M1473 417h0M1500 417h0M1437 420h0M1443 420h0M1467 420h0M1323 423h0M1407 423h0M1419 423h0M1341 426h0M1422 426h0M1443 426h0M1533 426h3M1263 429h0M1413 429h0M1530 429h0M1380 432h0M1440 432h0M1491 432h0M1500 432h0M1290 435h0M1500 435h0M1395 438h0M1431 438h0M1485 438h3M1539 441h0M1311 444h0M1455 444h0M1392 447h0M1413 447h0M1500 447h0M1473 450h0M1227 453h0M1368 453h0M1290 456h0M1341 456h0M1518 456h0M1491 459h0M1395 462h0M1443 462h0M1278 465h0M1389 465h0M1401 465h0M1518 465h0M1239 468h0M1536 468h0M1437 471h0M1473 471h0M1506 471h0M1284 474h0M1434 474h0M1512 474h0M1308 477h0M1392 477h0M1443 477h0M1512 477h0M1524 477h0M1329 480h0M1344 480h0M1482 480h0M1536 480h0M1416 483h0M1434 483h0M1527 483h0M1542 486h0M1344 489h0M1356 489h0M1365 489h0M1389 489h0M1413 489h0M1422 489h0M1530 489h0M1296 492h0M1371 492h0M1431 492h0M1479 492h0M1458 498h0M1311 501h0M1398 501h0M1416 501h0M1443 501h0M1407 504h0M1446 504h0M1476 504h0M1362 507h0M1410 507h0M1311 510h0M1371 510h0M1386 510h0M1536 510h0M1557 510h0M1275 513h0M1497 513h0M1299 516h0M1446 516h0M1458 516h0M1230 519h0M1311 519h0M1383 522h0M1398 522h0M1308 525h0M1314 525h0M1356 525h0M1413 525h0M1500 525h0M1302 528h0M1359 528h0M1458 528h0M1464 528h0M1266 531h0M1284 531h0M1362 531h0M1389 531h0M1401 531h0M1422 531h0M1317 534h0M1353 534h0M1362 534h0M1509 534h0M1695 534h0M1281 537h0M1287 537h0M1311 537h0M1323 537h0M1335 537h0M1341 537h0M1368 537h0M1383 537h0M1404 537h3M1431 537h0M1446 537h0M1479 537h0M1614 537h0M1281 540h0M1323 540h0M1332 540h0M1338 540h0M1353 540h0M1389 540h0M1407 540h0M1452 540h0M1461 540h0M1482 540h0M1500 540h0M1536 540h0M1284 543h0M1323 543h0M1332 543h0M1341 543h0M1365 543h0M1401 543h0M1458 543h0M1464 543h3M1542 543h0M1233 546h0M1272 546h0M1290 546h0M1296 546h0M1308 546h0M1314 546h6M1350 546h0M1275 549h0M1290 549h0M1299 549h3M1308 549h0M1332 549h3M1356 549h0M1383 549h0M1416 549h0M1431 549h0M1440 549h0M1449 549h0M1488 549h0M1539 549h0M1218 552h0M1245 552h0M1305 552h0M1323 552h0M1329 552h0M1338 552h0M1350 552h3M1383 552h0M1389 552h0M1395 552h0M1422 552h0M1467 552h0M1245 555h0M1287 555h0M1308 555h0M1326 555h0M1332 555h3M1344 555h0M1353 555h0M1362 555h0M1368 555h0M1437 555h0M1455 555h0M1233 558h0M1260 558h0M1275 558h0M1284 558h0M1290 558h0M1305 558h0M1314 558h0M1320 558h0M1359 558h3M1374 558h0M1386 558h0M1392 558h0M1398 558h0M1500 558h0M1524 558h0M1551 558h0M1242 561h0M1284 561h0M1290 561h0M1302 561h0M1308 561h27M1341 561h6M1362 561h3M1371 561h12M1413 561h0M1419 561h0M1512 561h0M1233 564h3M1305 564h0M1323 564h0M1329 564h0M1335 564h0M1341 564h3M1350 564h0M1365 564h0M1395 564h0M1434 564h0M1542 564h0M1245 567h0M1263 567h0M1275 567h3M1296 567h12M1317 567h0M1326 567h6M1338 567h0M1344 567h0M1350 567h3M1365 567h0M1383 567h0M1395 567h0M1404 567h3M1413 567h0M1422 567h0M1485 567h0M1512 567h0M1521 567h0M1263 570h0M1269 570h0M1281 570h0M1296 570h0M1305 570h0M1311 570h3M1323 570h6M1335 570h0M1359 570h0M1392 570h0M1410 570h0M1524 570h0M1221 573h0M1233 573h0M1245 573h0M1260 573h12M1290 573h9M1305 573h3M1326 573h3M1344 573h0M1350 573h0M1362 573h0M1380 573h0M1416 573h0M1161 576h0M1224 576h0M1233 576h0M1239 576h0M1260 576h0M1278 576h0M1287 576h0M1296 576h0M1302 576h6M1314 576h6M1326 576h0M1332 576h0M1341 576h3M1353 576h0M1362 576h0M1377 576h0M1383 576h3M1416 576h0M1206 579h0M1227 579h0M1236 579h0M1254 579h0M1266 579h0M1272 579h6M1284 579h3M1302 579h6M1326 579h0M1335 579h0M1341 579h0M1356 579h3M1371 579h0M1380 579h0M1398 579h0M1437 579h0M1485 579h0M1500 579h0M1563 579h0M1218 582h0M1257 582h0M1263 582h9M1278 582h0M1284 582h0M1290 582h0M1296 582h3M1305 582h3M1320 582h0M1326 582h0M1350 582h0M1356 582h3M1371 582h0M1377 582h0M1383 582h0M1407 582h3M1416 582h0M1461 582h0M1476 582h3M1491 582h0M1209 585h0M1239 585h0M1257 585h0M1263 585h6M1281 585h12M1299 585h0M1305 585h9M1326 585h9M1341 585h3M1350 585h6M1371 585h0M1380 585h0M1401 585h3M1410 585h0M1425 585h0M1446 585h0M1245 588h0M1269 588h0M1275 588h0M1290 588h0M1299 588h3M1308 588h3M1317 588h0M1323 588h12M1341 588h0M1347 588h6M1362 588h6M1374 588h0M1380 588h0M1389 588h0M1401 588h0M1407 588h0M1431 588h0M1452 588h0M1230 591h0M1242 591h3M1254 591h0M1266 591h0M1272 591h0M1278 591h6M1290 591h0M1296 591h0M1305 591h18M1329 591h3M1359 591h0M1368 591h0M1380 591h0M1407 591h0M1428 591h0M1446 591h0M1527 591h0M1209 594h0M1233 594h0M1245 594h0M1254 594h0M1260 594h0M1272 594h0M1278 594h0M1284 594h6M1299 594h15M1320 594h0M1326 594h3M1341 594h0M1347 594h6M1365 594h3M1374 594h0M1383 594h3M1221 597h0M1245 597h0M1254 597h3M1263 597h15M1284 597h0M1296 597h0M1302 597h0M1308 597h30M1347 597h3M1356 597h0M1362 597h0M1368 597h3M1386 597h3M1410 597h0M1434 597h0M1473 597h0M1509 597h0M1206 600h0M1215 600h0M1242 600h0M1248 600h0M1254 600h0M1263 600h12M1281 600h0M1287 600h18M1320 600h15M1347 600h6M1359 600h0M1407 600h0M1419 600h0M1452 600h0M1194 603h0M1212 603h0M1230 603h0M1236 603h3M1245 603h0M1251 603h3M1260 603h6M1272 603h0M1281 603h3M1293 603h0M1302 603h3M1314 603h0M1320 603h0M1326 603h9M1350 603h3M1362 603h0M1398 603h0M1416 603h0M1452 603h0M1485 603h0M1164 606h0M1203 606h0M1227 606h6M1239 606h0M1245 606h6M1257 606h12M1275 606h3M1284 606h15M1317 606h3M1332 606h6M1344 606h0M1356 606h0M1368 606h3M1170 609h0M1221 609h3M1239 609h3M1248 609h3M1260 609h0M1266 609h6M1278 609h9M1293 609h9M1311 609h6M1323 609h9M1338 609h0M1344 609h3M1353 609h0M1383 609h0M1413 609h0M1461 609h0M1161 612h0M1215 612h0M1227 612h6M1248 612h9M1263 612h6M1278 612h18M1302 612h3M1311 612h3M1323 612h3M1335 612h0M1362 612h0M1368 612h0M1425 612h0M1533 612h0M1179 615h0M1209 615h3M1245 615h0M1251 615h0M1260 615h6M1275 615h12M1293 615h6M1311 615h6M1326 615h0M1332 615h0M1338 615h3M1365 615h0M1380 615h0M1392 615h0M1422 615h0M1443 615h0M1134 618h0M1221 618h9M1239 618h3M1248 618h9M1266 618h0M1272 618h3M1281 618h0M1287 618h0M1293 618h0M1299 618h9M1329 618h3M1341 618h3M1362 618h3M1374 618h0M1428 618h0M1179 621h0M1224 621h0M1233 621h0M1239 621h6M1251 621h6M1263 621h0M1269 621h15M1290 621h0M1296 621h0M1302 621h0M1308 621h6M1329 621h3M1341 621h0M1347 621h6M1362 621h0M1368 621h0M1374 621h3M1389 621h0M1200 624h0M1221 624h3M1242 624h12M1260 624h12M1278 624h0M1284 624h3M1302 624h3M1317 624h3M1329 624h3M1338 624h0M1344 624h6M1368 624h0M1377 624h0M1395 624h0M1416 624h0M1491 624h0M1500 624h0M1164 627h0M1212 627h0M1218 627h0M1224 627h0M1230 627h6M1242 627h3M1254 627h6M1269 627h6M1281 627h0M1287 627h0M1293 627h3M1302 627h3M1314 627h0M1323 627h0M1332 627h0M1344 627h0M1362 627h0M1383 627h0M1392 627h0M1437 627h0M1476 627h0M1206 630h0M1212 630h0M1221 630h12M1239 630h0M1248 630h0M1257 630h0M1263 630h0M1269 630h0M1275 630h0M1281 630h27M1314 630h12M1332 630h0M1338 630h0M1350 630h9M1380 630h0M1197 633h0M1212 633h0M1221 633h0M1233 633h0M1245 633h0M1251 633h0M1257 633h6M1272 633h3M1284 633h3M1293 633h0M1302 633h0M1308 633h3M1317 633h0M1323 633h12M1347 633h0M1362 633h0M1368 633h0M1374 633h0M1446 633h0M1452 633h0M1185 636h0M1218 636h0M1230 636h3M1245 636h3M1254 636h6M1269 636h6M1284 636h24M1314 636h6M1326 636h6M1341 636h0M1347 636h3M1356 636h3M1371 636h0M1452 636h0M1206 639h0M1218 639h3M1227 639h3M1236 639h3M1248 639h3M1257 639h0M1266 639h3M1275 639h3M1287 639h0M1293 639h0M1299 639h0M1305 639h3M1326 639h0M1332 639h3M1362 639h0M1167 642h0M1197 642h0M1212 642h3M1221 642h0M1230 642h0M1239 642h3M1248 642h6M1260 642h0M1269 642h6M1284 642h6M1299 642h0M1305 642h0M1311 642h3M1323 642h0M1335 642h0M1341 642h0M1362 642h0M1167 645h0M1209 645h3M1221 645h0M1227 645h6M1242 645h12M1260 645h6M1272 645h3M1281 645h0M1287 645h3M1296 645h3M1308 645h6M1320 645h0M1326 645h0M1365 645h0M1404 645h3M1185 648h0M1197 648h0M1209 648h0M1218 648h3M1227 648h0M1233 648h9M1248 648h0M1254 648h0M1260 648h3M1269 648h18M1299 648h6M1314 648h0M1326 648h0M1332 648h0M1338 648h0M1344 648h0M1350 648h0M1383 648h3M1209 651h0M1221 651h0M1230 651h0M1242 651h12M1260 651h9M1278 651h0M1290 651h3M1299 651h12M1317 651h0M1323 651h0M1335 651h0M1389 651h0M1422 651h0M1167 654h0M1185 654h0M1194 654h0M1203 654h0M1209 654h3M1218 654h6M1233 654h3M1242 654h3M1251 654h3M1263 654h9M1278 654h12M1296 654h3M1305 654h0M1320 654h0M1326 654h0M1332 654h0M1338 654h3M1164 657h0M1179 657h0M1203 657h0M1212 657h0M1218 657h9M1233 657h12M1251 657h0M1263 657h12M1281 657h0M1287 657h6M1299 657h6M1314 657h0M1326 657h0M1341 657h0M1149 660h0M1194 660h3M1203 660h0M1209 660h3M1218 660h0M1224 660h0M1230 660h0M1236 660h27M1269 660h0M1275 660h0M1281 660h6M1296 660h15M1323 660h0M1329 660h3M1206 663h0M1212 663h0M1233 663h0M1263 663h0M1272 663h12M1293 663h3M1302 663h3M1311 663h6M1323 663h0M1350 663h3M1407 663h0M1194 666h0M1206 666h0M1221 666h0M1230 666h0M1239 666h3M1248 666h0M1254 666h0M1260 666h3M1272 666h0M1278 666h9M1305 666h0M1326 666h0M1155 669h0M1176 669h0M1206 669h3M1224 669h0M1230 669h0M1236 669h0M1245 669h0M1251 669h0M1257 669h18M1287 669h0M1293 669h0M1308 669h0M1314 669h0M1326 669h0M1341 669h0M1377 669h0M1173 672h0M1200 672h3M1221 672h6M1233 672h0M1239 672h6M1251 672h0M1260 672h0M1269 672h0M1275 672h0M1299 672h0M1320 672h3M1419 672h0M1203 675h0M1212 675h0M1224 675h0M1236 675h9M1251 675h0M1266 675h9M1287 675h3M1314 675h0M1182 678h0M1200 678h0M1212 678h0M1236 678h3M1272 678h3M1281 678h0M1287 678h0M1173 681h0M1188 681h0M1194 681h0M1200 681h0M1206 681h3M1221 681h0M1230 681h3M1242 681h0M1251 681h0M1272 681h6M1293 681h0M1173 684h0M1209 684h0M1248 684h0M1269 684h3M1281 684h0M1293 684h0M1302 684h0M1320 684h0M1182 687h0M1206 687h0M1212 687h0M1221 687h9M1236 687h3M1263 687h0M1287 687h0M1302 687h0M1164 690h0M1176 690h0M1197 690h0M1212 690h0M1218 690h12M1239 690h0M1248 690h0M1263 690h0M1272 690h0M1317 690h0M1338 690h0M1173 693h0M1194 693h0M1209 693h0M1215 693h0M1233 693h3M1266 693h3M1278 693h0M1290 693h0M1296 693h0M1317 693h0M1341 693h0M1158 696h0M1191 696h3M1227 696h0M1239 696h0M1266 696h0M1314 696h0M1176 699h0M1188 699h3M1206 699h0M1230 699h0M1245 699h0M1257 699h0M1263 699h0M1275 699h0M1290 699h0M1320 699h0M1350 699h0M1215 702h0M1230 702h0M1236 702h0M1242 702h0M1251 702h0M1281 702h0M1308 702h0M1176 705h0M1185 705h0M1194 705h3M1212 705h3M1221 705h0M1227 705h0M1251 705h0M1272 705h0M1278 705h0M1287 705h3M1302 705h6M1323 705h0M1167 708h0M1182 708h3M1194 708h0M1206 708h0M1215 708h0M1248 708h0M1254 708h0M1173 711h0M1182 711h0M1194 711h0M1203 711h0M1224 711h0M1266 711h0M1164 714h0M1209 714h0M1215 714h0M1230 714h0M1236 714h0M1272 714h3M1218 717h0M1224 717h0M1239 717h0M1245 717h0M1263 717h0M1281 717h0M1503 717h0M1173 720h0M1194 720h3M1212 720h0M1260 720h0M1287 720h0M1362 720h0M1239 723h0M1263 723h0M1284 723h0M1182 726h3M1212 726h0M1263 726h0M1164 729h0M1173 729h0M1188 729h0M1221 729h0M1272 729h0M1185 732h3M1233 732h0M1239 732h0M1260 732h0M1368 732h0M1179 735h0M1215 735h0M1173 738h3M1215 738h0M1182 744h0M1209 744h0M1221 747h0M1302 747h0M1191 753h0M1224 753h0M1194 756h0M1212 756h0M1233 756h0M1170 759h0M1275 759h0M1218 762h0M1218 765h0"/></g><path d="M1068.5 141.0H1699.0V790.0" stroke="#a6a6a6" stroke-width="4" fill="none"/><path d="M1082.5 520.5H1699.0M1354.5 141.0V777.0" stroke="#9a9a9a" stroke-width="4.5" fill="none"/><path d="M1082.5 141.0V790.0M1069.5 777.0H1699.0" stroke="#959595" stroke-width="4" fill="none"/><path d="M1075.5 729.1H1082.5M1128.9 777.0V784.0M1075.5 701.1H1082.5M1156.0 777.0V784.0M1075.5 681.3H1082.5M1175.3 777.0V784.0M1075.5 665.9H1082.5M1190.2 777.0V784.0M1075.5 653.3H1082.5M1202.4 777.0V784.0M1075.5 642.6H1082.5M1212.8 777.0V784.0M1075.5 633.4H1082.5M1221.7 777.0V784.0M1075.5 625.3H1082.5M1229.6 777.0V784.0M1075.5 570.1H1082.5M1283.0 777.0V784.0M1075.5 542.1H1082.5M1310.2 777.0V784.0M1075.5 522.3H1082.5M1329.4 777.0V784.0M1075.5 506.9H1082.5M1344.4 777.0V784.0M1075.5 494.3H1082.5M1356.6 777.0V784.0M1075.5 483.6H1082.5M1366.9 777.0V784.0M1075.5 474.4H1082.5M1375.8 777.0V784.0M1075.5 466.3H1082.5M1383.7 777.0V784.0M1075.5 411.1H1082.5M1437.1 777.0V784.0M1075.5 383.1H1082.5M1464.3 777.0V784.0M1075.5 363.3H1082.5M1483.5 777.0V784.0M1075.5 347.9H1082.5M1498.5 777.0V784.0M1075.5 335.3H1082.5M1510.7 777.0V784.0M1075.5 324.6H1082.5M1521.0 777.0V784.0M1075.5 315.4H1082.5M1529.9 777.0V784.0M1075.5 307.3H1082.5M1537.8 777.0V784.0M1075.5 252.1H1082.5M1591.3 777.0V784.0M1075.5 224.1H1082.5M1618.4 777.0V784.0M1075.5 204.3H1082.5M1637.7 777.0V784.0M1075.5 188.9H1082.5M1652.6 777.0V784.0M1075.5 176.3H1082.5M1664.8 777.0V784.0M1075.5 165.6H1082.5M1675.1 777.0V784.0M1075.5 156.4H1082.5M1684.1 777.0V784.0M1075.5 148.3H1082.5M1691.9 777.0V784.0M1069.5 777.0H1082.5M1082.5 777.0V790.0M1069.5 618.0H1082.5M1236.6 777.0V790.0M1069.5 459.0H1082.5M1390.8 777.0V790.0M1069.5 300.0H1082.5M1544.9 777.0V790.0M1069.5 141.0H1082.5M1699.0 777.0V790.0" stroke="#9c9c9c" stroke-width="2.2" fill="none"/><text font-size="40.5" stroke="#000" stroke-width="1.3" transform="translate(1063.90 835.40) scale(0.9 1)">10</text><text font-size="29" stroke="#000" stroke-width="1.0" transform="translate(1099.54 817.00) scale(0.87 1)">0</text><text font-size="40.5" stroke="#000" stroke-width="1.3" transform="translate(1007.90 787.20) scale(0.9 1)">10</text><text font-size="29" stroke="#000" stroke-width="1.0" transform="translate(1043.54 767.20) scale(0.87 1)">0</text><text font-size="40.5" stroke="#000" stroke-width="1.3" transform="translate(1218.02 835.40) scale(0.9 1)">10</text><text font-size="29" stroke="#000" stroke-width="1.0" transform="translate(1252.41 817.00) scale(0.87 1)">1</text><text font-size="40.5" stroke="#000" stroke-width="1.3" transform="translate(1007.90 628.20) scale(0.9 1)">10</text><text font-size="29" stroke="#000" stroke-width="1.0" transform="translate(1042.28 608.20) scale(0.87 1)">1</text><text font-size="40.5" stroke="#000" stroke-width="1.3" transform="translate(1372.15 835.40) scale(0.9 1)">10</text><text font-size="29" stroke="#000" stroke-width="1.0" transform="translate(1407.64 817.00) scale(0.87 1)">2</text><text font-size="40.5" stroke="#000" stroke-width="1.3" transform="translate(1007.90 469.20) scale(0.9 1)">10</text><text font-size="29" stroke="#000" stroke-width="1.0" transform="translate(1043.39 449.20) scale(0.87 1)">2</text><text font-size="40.5" stroke="#000" stroke-width="1.3" transform="translate(1526.27 835.40) scale(0.9 1)">10</text><text font-size="29" stroke="#000" stroke-width="1.0" transform="translate(1561.67 817.00) scale(0.87 1)">3</text><text font-size="40.5" stroke="#000" stroke-width="1.3" transform="translate(1007.90 310.20) scale(0.9 1)">10</text><text font-size="29" stroke="#000" stroke-width="1.0" transform="translate(1043.29 290.20) scale(0.87 1)">3</text><text font-size="40.5" stroke="#000" stroke-width="1.3" transform="translate(1680.40 835.40) scale(0.9 1)">10</text><text font-size="29" stroke="#000" stroke-width="1.0" transform="translate(1716.51 817.00) scale(0.87 1)">4</text><text font-size="40.5" stroke="#000" stroke-width="1.3" transform="translate(1007.90 151.20) scale(0.9 1)">10</text><text font-size="29" stroke="#000" stroke-width="1.0" transform="translate(1044.01 131.20) scale(0.87 1)">4</text><text transform="translate(953.5 444.0) rotate(-90)" font-size="63" text-anchor="middle">PI</text><text x="1190.40" y="948" font-size="63">Annexin</text><path d="M1426.8 902.2L1441.8 902.2L1441.8 904.2L1439.1 904.2L1449.4 937L1461.8 904.2L1455.8 904.2L1455.8 902.2L1469.8 902.2L1469.8 904.2L1464.6 904.2L1449.6 950.5L1446.4 950.5L1432.4 904.2L1426.8 904.2Z"/><rect x="1471.8" y="930.2" width="13.3" height="4"/><text x="1485.60" y="948" font-size="63">FITC</text><text x="1438.35" y="1071.6" font-size="63" text-anchor="middle">B</text><filter id="fC" filterUnits="userSpaceOnUse" x="1914.5" y="131.0" width="633.5" height="656.0"><feGaussianBlur stdDeviation="1.4"/><feComponentTransfer><feFuncA type="table" tableValues="0 0.18 0.4 0.7 1 1"/></feComponentTransfer></filter><g filter="url(#fC)" stroke="#f00" stroke-opacity="0.4" stroke-width="3.6" stroke-linecap="square" fill="none"><path d="M2286 291h0M2259 297h0M2322 300h0M2334 318h0M2232 321h0M2292 327h0M2247 333h0M2304 333h0M2340 333h0M2259 342h0M2313 342h0M2256 345h0M2262 348h0M2283 348h0M2325 348h0M2289 351h0M2319 360h0M2325 360h0M2229 363h0M2286 363h0M2274 366h0M2283 366h0M2259 369h0M2256 372h3M2229 375h0M2307 375h0M2337 375h0M2220 378h0M2226 378h0M2328 378h0M2346 378h0M2280 381h0M2211 384h0M2274 384h0M2190 387h0M2280 387h0M2298 387h0M2304 387h0M2205 390h0M2220 390h0M2256 390h0M2322 390h0M2310 393h0M2223 396h0M2274 399h0M2169 405h0M2265 405h3M2190 411h0M2196 411h0M2259 411h0M2181 417h0M2247 417h0M2277 420h0M2316 420h0M2187 423h0M2232 423h0M2196 426h0M2223 429h0M2244 432h0M2202 435h0M2217 438h0M2232 438h0M2256 438h0M2253 441h0M2235 447h0M2148 450h0M2202 459h0M2196 462h0M2286 465h0M2193 468h0M2187 477h0M2202 477h0M2142 480h0M2217 486h0M2145 489h0M2088 495h0M2118 498h0M2280 501h0M2160 504h0M2217 507h0M2217 510h0M2241 510h0M2133 513h0M2259 513h0M2286 522h0M2340 522h0M2280 528h0M2322 531h0M2253 534h0M2292 534h0M2322 534h0M2157 537h0M2190 537h0M2319 537h0M2265 540h0M2283 540h0M2151 543h0M2190 543h0M2259 543h0M2379 543h0M2124 546h3M2133 546h0M2286 546h0M2157 549h0M2184 549h0M2193 549h0M2220 549h0M2310 549h0M2334 549h0M2178 552h0M2151 555h0M2226 555h0M2316 555h0M2394 555h0M2118 558h0M2145 558h0M2157 558h0M2199 558h0M2232 558h0M2145 561h3M2154 561h3M2190 561h0M2196 561h0M2238 561h0M2127 564h0M2163 564h0M2199 564h0M2232 564h0M2355 564h0M2367 564h0M2148 567h0M2160 567h0M2301 567h0M2328 567h0M2082 570h3M2133 570h0M2154 570h0M2175 570h0M2223 570h0M2118 573h0M2127 573h0M2136 573h0M2163 573h3M2127 576h3M2145 576h0M2175 576h0M2253 576h0M2268 576h0M2082 579h0M2100 579h0M2112 579h0M2145 579h0M2157 579h0M2163 579h0M2184 579h0M2229 579h0M2283 579h0M2298 579h0M2082 582h0M2094 582h0M2103 582h0M2115 582h0M2130 582h0M2139 582h0M2145 582h3M2208 582h0M2220 582h0M2244 582h0M2265 582h0M2052 585h0M2088 585h0M2094 585h6M2109 585h0M2124 585h3M2136 585h3M2154 585h3M2172 585h0M2181 585h0M2202 585h0M2088 588h0M2112 588h3M2124 588h0M2133 588h3M2148 588h0M2184 588h0M2202 588h0M2226 588h0M2232 588h0M2307 588h0M2322 588h0M2052 591h0M2082 591h0M2097 591h0M2106 591h0M2118 591h3M2127 591h0M2142 591h0M2151 591h3M2073 594h0M2088 594h0M2115 594h0M2121 594h0M2130 594h0M2136 594h3M2157 594h0M2163 594h3M2178 594h0M2286 594h0M2301 594h0M2025 597h0M2061 597h0M2082 597h0M2088 597h0M2097 597h12M2121 597h0M2130 597h0M2139 597h3M2151 597h0M2157 597h0M2172 597h0M2196 597h0M2085 600h24M2115 600h0M2121 600h3M2133 600h0M2142 600h3M2166 600h0M2055 603h0M2067 603h0M2091 603h9M2106 603h0M2112 603h3M2121 603h18M2151 603h0M2157 603h0M2172 603h0M2181 603h0M2190 603h0M2211 603h0M2247 603h0M2268 603h3M2286 603h0M2043 606h0M2079 606h0M2091 606h3M2100 606h18M2127 606h0M2133 606h0M2139 606h0M2145 606h0M2151 606h3M2160 606h3M2172 606h3M2184 606h0M2199 606h0M2205 606h0M2085 609h0M2097 609h6M2115 609h0M2127 609h0M2133 609h3M2142 609h0M2148 609h0M2154 609h3M2163 609h0M2289 609h0M2052 612h0M2061 612h0M2067 612h0M2079 612h0M2088 612h0M2094 612h6M2106 612h0M2112 612h0M2118 612h27M2151 612h9M2169 612h0M2046 615h0M2052 615h0M2061 615h0M2067 615h6M2085 615h12M2109 615h3M2130 615h9M2148 615h0M2160 615h3M2172 615h0M2049 618h0M2064 618h0M2070 618h0M2076 618h0M2082 618h0M2091 618h12M2112 618h0M2118 618h12M2139 618h12M2157 618h0M2163 618h0M2181 618h0M2046 621h0M2052 621h3M2061 621h3M2076 621h0M2082 621h18M2109 621h18M2136 621h12M2175 621h0M2052 624h3M2064 624h9M2079 624h21M2106 624h21M2133 624h6M2145 624h12M2163 624h0M2169 624h0M2043 627h0M2052 627h0M2058 627h0M2064 627h6M2076 627h3M2091 627h9M2106 627h15M2127 627h3M2136 627h3M2154 627h3M2175 627h0M2031 630h0M2040 630h0M2049 630h3M2064 630h6M2076 630h3M2088 630h6M2100 630h12M2118 630h3M2130 630h3M2139 630h3M2148 630h6M2160 630h3M2172 630h3M2181 630h0M2208 630h0M2217 630h0M2034 633h3M2049 633h0M2055 633h0M2067 633h0M2076 633h15M2100 633h3M2109 633h3M2118 633h9M2136 633h3M2148 633h6M2292 633h0M2025 636h0M2031 636h0M2040 636h3M2055 636h0M2061 636h0M2070 636h6M2082 636h6M2097 636h6M2109 636h3M2118 636h3M2127 636h6M2139 636h6M2163 636h3M2178 636h0M2022 639h0M2034 639h0M2046 639h3M2055 639h0M2061 639h3M2070 639h0M2076 639h0M2091 639h6M2103 639h3M2115 639h0M2121 639h6M2133 639h0M2139 639h0M2025 642h3M2037 642h3M2046 642h3M2055 642h0M2061 642h3M2070 642h0M2076 642h6M2088 642h3M2097 642h0M2103 642h3M2112 642h0M2124 642h12M2142 642h0M2151 642h0M2178 642h0M2205 642h0M2007 645h0M2013 645h0M2019 645h0M2034 645h6M2049 645h15M2070 645h3M2079 645h12M2100 645h30M2148 645h0M2160 645h0M2169 645h0M2178 645h3M2013 648h0M2022 648h0M2028 648h6M2043 648h3M2052 648h3M2064 648h9M2079 648h0M2085 648h3M2094 648h0M2103 648h0M2124 648h0M2133 648h3M2145 648h6M2157 648h0M2010 651h3M2025 651h0M2031 651h0M2043 651h3M2052 651h3M2061 651h6M2073 651h0M2079 651h3M2088 651h0M2094 651h3M2103 651h0M2109 651h0M2115 651h0M2121 651h3M2130 651h0M2148 651h0M2211 651h0M2022 654h3M2034 654h9M2052 654h0M2064 654h3M2073 654h0M2079 654h18M2106 654h3M2115 654h0M2127 654h0M2136 654h3M2157 654h0M2163 654h3M2019 657h0M2025 657h15M2049 657h3M2058 657h15M2079 657h6M2094 657h3M2103 657h3M2118 657h9M2139 657h0M2145 657h0M2151 657h0M2160 657h0M2007 660h3M2016 660h0M2031 660h3M2043 660h3M2052 660h0M2061 660h9M2076 660h6M2091 660h0M2103 660h6M2115 660h0M2139 660h0M2148 660h0M2016 663h0M2022 663h6M2037 663h21M2064 663h15M2085 663h15M2106 663h6M2127 663h0M2136 663h0M2148 663h0M2166 663h0M2007 666h0M2019 666h0M2037 666h3M2052 666h12M2073 666h0M2079 666h3M2088 666h9M2103 666h6M2115 666h0M2124 666h0M2142 666h0M2148 666h0M2172 666h0M2181 666h0M2019 669h6M2031 669h3M2043 669h21M2073 669h6M2088 669h6M2103 669h0M2112 669h0M2118 669h3M2010 672h0M2022 672h0M2046 672h6M2058 672h3M2067 672h3M2076 672h6M2088 672h0M2097 672h3M2109 672h9M2010 675h3M2022 675h3M2034 675h9M2049 675h0M2058 675h9M2073 675h3M2082 675h9M2100 675h0M2010 678h3M2019 678h0M2034 678h3M2043 678h0M2049 678h6M2064 678h15M2091 678h3M2103 678h0M2118 678h0M2022 681h0M2037 681h21M2070 681h6M2082 681h0M2088 681h0M2118 681h0M2124 681h0M2139 681h0M2160 681h0M2022 684h3M2040 684h0M2046 684h0M2055 684h9M2076 684h3M2085 684h0M2094 684h0M2112 684h0M2121 684h0M1995 687h0M2010 687h3M2025 687h6M2040 687h0M2046 687h3M2064 687h0M2076 687h0M2085 687h0M2097 687h3M2118 687h0M2136 687h0M2040 690h15M2061 690h3M2070 690h3M2079 690h0M2010 693h0M2034 693h0M2040 693h9M2055 693h15M2076 693h0M2082 693h3M2100 693h0M2022 696h0M2028 696h0M2043 696h0M2049 696h9M2067 696h3M2082 696h0M2091 696h0M2097 696h0M2019 699h0M2034 699h0M2049 699h0M2058 699h0M2067 699h0M2073 699h0M2019 702h0M2031 702h0M2058 702h0M2040 705h0M2049 708h0M2067 711h0M2076 711h0M2091 714h0M2067 741h0"/><path d="M2307 276h0M2268 291h0M2346 291h0M2250 297h0M2268 297h0M2337 303h0M2283 312h0M2307 312h0M2325 312h0M2301 315h0M2289 318h0M2349 318h0M2235 321h0M2295 321h0M2340 321h0M2232 324h0M2271 330h0M2274 336h0M2295 345h0M2295 348h0M2277 351h0M2256 354h0M2289 354h0M2304 354h0M2298 360h0M2373 360h0M2232 363h0M2316 363h0M2283 372h0M2289 372h0M2262 375h0M2289 375h0M2295 375h0M2256 378h0M2223 381h0M2271 381h0M2280 381h0M2265 384h0M2271 384h0M2280 387h0M2307 387h0M2196 390h0M2268 390h0M2289 390h0M2265 393h0M2310 393h0M2310 396h0M2214 402h0M2304 402h0M2331 402h0M2208 405h0M2232 405h0M2268 405h0M2253 408h0M2208 411h0M2289 411h0M2184 417h0M2298 417h0M2322 417h0M2238 429h0M2199 432h0M2220 435h0M2265 435h0M2286 441h0M2166 444h0M2196 444h0M2169 456h0M2220 456h0M2139 459h0M2229 459h0M2136 462h0M2229 471h0M2226 474h0M2130 486h0M2142 489h0M2217 489h0M2232 489h0M2139 504h0M2160 504h0M2070 507h0M2133 510h0M2253 513h0M2103 516h0M2142 519h0M2304 519h0M2169 525h0M2139 528h0M2127 531h0M2196 531h0M2319 534h0M2166 537h0M2211 537h0M2229 537h0M2079 540h0M2211 540h0M2292 540h0M2106 543h0M2142 543h0M2292 543h0M2178 546h0M2220 546h0M2247 546h0M2253 546h0M2268 546h0M2157 549h0M2220 549h0M2232 549h0M2328 549h0M2337 549h0M2136 552h0M2205 552h0M2295 552h0M2337 552h0M2346 552h0M2148 555h0M2172 555h0M2313 555h0M2166 558h0M2190 558h0M2223 558h3M2283 558h0M2340 558h0M2145 561h3M2163 561h0M2178 561h0M2337 561h0M2115 564h0M2133 564h0M2190 564h0M2196 564h0M2205 564h0M2217 564h0M2319 564h0M2115 567h0M2136 567h0M2151 567h0M2202 567h0M2283 567h0M2118 570h0M2127 570h0M2145 570h0M2172 570h0M2292 570h0M2319 570h0M2337 570h0M2139 573h0M2145 573h3M2187 573h0M2205 573h0M2130 576h0M2139 576h0M2160 576h0M2259 576h0M2340 576h0M2115 579h0M2121 579h0M2148 579h0M2154 579h0M2163 579h0M2196 579h0M2217 579h0M2295 579h0M2364 579h0M2088 582h0M2100 582h0M2121 582h0M2154 582h0M2244 582h0M2283 582h0M2079 585h0M2100 585h3M2112 585h0M2121 585h0M2127 585h3M2139 585h0M2145 585h3M2163 585h0M2178 585h0M2310 585h0M2334 585h0M2058 588h0M2094 588h3M2103 588h0M2124 588h0M2172 588h0M2187 588h0M2073 591h0M2091 591h0M2106 591h0M2127 591h3M2136 591h0M2142 591h0M2154 591h0M2223 591h0M2316 591h0M2352 591h0M2055 594h0M2061 594h0M2079 594h0M2097 594h9M2112 594h0M2118 594h9M2136 594h0M2142 594h3M2154 594h0M2163 594h0M2172 594h0M2181 594h0M2235 594h0M2040 597h0M2058 597h0M2103 597h0M2109 597h6M2121 597h3M2130 597h0M2136 597h6M2148 597h3M2163 597h6M2193 597h0M2223 597h0M2241 597h0M2031 600h0M2043 600h0M2085 600h3M2094 600h3M2112 600h3M2121 600h3M2133 600h0M2139 600h9M2154 600h0M2274 600h0M2061 603h3M2070 603h3M2079 603h0M2088 603h0M2106 603h0M2115 603h9M2133 603h6M2145 603h9M2229 603h0M2256 603h0M2067 606h0M2076 606h0M2082 606h6M2094 606h6M2106 606h6M2118 606h3M2127 606h12M2145 606h6M2358 606h0M2046 609h0M2061 609h0M2067 609h0M2076 609h0M2085 609h0M2100 609h0M2109 609h0M2115 609h0M2136 609h9M2154 609h0M2247 609h0M2037 612h0M2043 612h0M2070 612h0M2076 612h0M2082 612h0M2088 612h18M2112 612h6M2124 612h18M2148 612h3M2157 612h0M2163 612h0M2178 612h0M2190 612h0M2217 612h0M2229 612h0M2052 615h0M2067 615h3M2076 615h9M2091 615h24M2121 615h0M2127 615h12M2145 615h0M2151 615h3M2163 615h0M2184 615h0M2193 615h3M2241 615h0M2040 618h0M2049 618h0M2073 618h12M2091 618h0M2097 618h3M2106 618h12M2127 618h0M2139 618h6M2151 618h3M2160 618h6M2178 618h3M2241 618h0M2250 618h0M2031 621h0M2046 621h0M2052 621h3M2067 621h0M2073 621h9M2088 621h12M2106 621h0M2115 621h6M2127 621h3M2136 621h3M2145 621h0M2157 621h3M2172 621h0M2202 621h0M2034 624h0M2040 624h0M2058 624h0M2070 624h0M2076 624h6M2088 624h3M2100 624h0M2106 624h0M2112 624h0M2118 624h0M2124 624h0M2133 624h0M2145 624h3M2157 624h0M2166 624h3M2232 624h0M2028 627h0M2046 627h3M2055 627h0M2067 627h6M2079 627h3M2097 627h0M2106 627h15M2127 627h18M2154 627h0M2163 627h0M2175 627h0M2049 630h0M2055 630h3M2064 630h3M2073 630h3M2082 630h24M2112 630h3M2124 630h9M2139 630h3M2148 630h0M2154 630h9M2172 630h0M2295 630h0M2031 633h3M2040 633h0M2055 633h0M2061 633h3M2070 633h12M2094 633h24M2127 633h0M2133 633h12M2154 633h0M2163 633h0M2031 636h0M2037 636h3M2046 636h3M2055 636h12M2076 636h9M2091 636h6M2103 636h6M2115 636h3M2127 636h0M2136 636h0M2142 636h0M2148 636h0M2163 636h0M2178 636h0M2013 639h0M2022 639h0M2031 639h0M2037 639h6M2049 639h0M2055 639h0M2061 639h9M2076 639h0M2082 639h9M2100 639h3M2109 639h0M2115 639h0M2121 639h9M2139 639h3M2160 639h0M2169 639h0M2010 642h0M2052 642h3M2061 642h21M2094 642h0M2100 642h12M2118 642h12M2136 642h0M2142 642h6M2175 642h0M2193 642h0M2298 642h0M2034 645h0M2046 645h6M2058 645h0M2064 645h0M2070 645h0M2079 645h3M2091 645h3M2100 645h6M2112 645h0M2118 645h9M2133 645h3M2142 645h3M2151 645h3M2175 645h0M2013 648h0M2019 648h3M2028 648h6M2040 648h12M2058 648h15M2079 648h18M2103 648h3M2115 648h3M2124 648h0M2142 648h0M2013 651h0M2022 651h0M2028 651h3M2040 651h12M2061 651h3M2073 651h0M2082 651h6M2094 651h15M2118 651h0M2124 651h0M2142 651h0M2148 651h0M2163 651h0M2172 651h0M2019 654h0M2028 654h0M2034 654h9M2049 654h3M2058 654h3M2067 654h18M2091 654h3M2100 654h6M2115 654h3M2124 654h0M2136 654h0M2142 654h0M2148 654h0M2157 654h0M2013 657h0M2019 657h6M2031 657h6M2043 657h0M2049 657h0M2055 657h24M2088 657h3M2097 657h3M2109 657h9M2124 657h3M2133 657h3M2175 657h0M2016 660h0M2022 660h9M2037 660h0M2043 660h12M2064 660h0M2082 660h3M2091 660h3M2100 660h0M2112 660h0M2118 660h0M2124 660h3M2022 663h0M2028 663h0M2037 663h18M2067 663h0M2073 663h9M2088 663h15M2109 663h9M2130 663h0M2136 663h0M1998 666h0M2019 666h0M2025 666h0M2031 666h0M2037 666h24M2067 666h12M2085 666h3M2097 666h0M2103 666h9M2121 666h9M2142 666h0M2151 666h0M2013 669h0M2028 669h0M2049 669h0M2055 669h0M2061 669h0M2067 669h0M2076 669h12M2097 669h0M2103 669h0M2109 669h6M2121 669h0M2139 669h0M2157 669h0M2004 672h0M2016 672h3M2025 672h9M2040 672h0M2046 672h21M2073 672h0M2079 672h0M2091 672h3M2106 672h0M2112 672h0M2121 672h0M2127 672h3M2013 675h0M2028 675h3M2037 675h3M2049 675h12M2067 675h0M2076 675h3M2088 675h0M2097 675h3M2106 675h0M2121 675h0M2013 678h0M2031 678h3M2046 678h0M2058 678h0M2064 678h18M2088 678h0M2100 678h0M2112 678h0M2118 678h9M2028 681h3M2037 681h21M2064 681h15M2088 681h3M2103 681h0M2127 681h0M2178 681h0M2004 684h0M2019 684h0M2025 684h6M2052 684h0M2061 684h0M2067 684h0M2076 684h0M2088 684h3M2100 684h3M2112 684h0M2013 687h0M2025 687h3M2034 687h3M2046 687h3M2055 687h0M2070 687h0M2076 687h0M2088 687h12M2010 690h0M2019 690h0M2037 690h0M2049 690h3M2061 690h3M2085 690h0M2091 690h0M2097 690h3M2025 693h9M2040 693h3M2055 693h6M2070 693h6M2082 693h0M2088 693h3M2100 693h0M2049 696h3M2058 696h3M2073 696h0M2082 696h0M2001 699h0M2031 699h0M2040 699h6M2052 699h0M2082 699h0M2100 699h0M2040 702h0M2046 702h0M2082 702h0M2064 705h0M2103 705h0M2058 714h0M2031 729h0M2055 729h0M2043 741h0M2037 750h0"/><path d="M2265 279h0M2322 282h0M2319 291h0M2319 294h0M2337 294h0M2298 300h0M2304 306h0M2298 309h0M2319 309h0M2256 321h0M2328 321h0M2253 327h0M2316 327h0M2262 330h0M2274 330h0M2319 336h0M2301 339h0M2253 342h0M2295 342h0M2307 348h0M2265 351h0M2322 351h0M2358 351h0M2325 354h0M2331 354h0M2271 357h0M2238 360h0M2313 363h0M2226 369h0M2241 369h0M2286 375h0M2187 378h0M2238 381h0M2172 384h0M2241 384h0M2283 384h0M2229 390h0M2271 390h0M2268 396h0M2220 399h0M2181 402h0M2229 402h0M2247 402h0M2262 408h0M2283 408h0M2328 408h0M2253 411h0M2229 414h0M2220 417h0M2235 417h0M2229 420h0M2268 420h0M2295 420h0M2340 420h0M2205 423h0M2259 423h0M2265 423h0M2241 426h0M2172 429h0M2223 429h3M2283 429h0M2244 432h0M2160 438h0M2211 438h0M2256 438h0M2331 438h0M2193 441h0M2277 441h0M2199 450h0M2205 450h0M2211 450h0M2274 450h0M2169 453h0M2121 462h0M2133 462h0M2199 462h0M2235 462h0M2247 483h0M2289 483h0M2196 495h0M2100 501h0M2193 501h0M2130 507h0M2148 507h0M2136 510h0M2232 510h0M2250 510h0M2226 513h0M2238 513h0M2169 516h0M2211 516h0M2223 519h0M2274 519h0M2349 519h0M2226 525h0M2250 525h0M2160 528h0M2229 528h0M2304 528h0M2310 528h0M2325 528h0M2157 531h0M2166 531h0M2193 531h0M2280 531h0M2223 534h0M2277 534h0M2265 537h0M2106 540h0M2142 540h0M2256 540h0M2340 540h0M2295 543h0M2376 543h0M2190 546h0M2211 546h0M2241 546h3M2262 546h0M2295 546h0M2190 549h0M2223 549h0M2304 549h0M2121 552h0M2181 552h0M2247 552h0M2082 555h0M2139 555h0M2160 555h0M2166 555h0M2181 555h0M2316 555h0M2085 558h0M2139 558h0M2163 558h3M2175 558h0M2367 558h0M2103 561h0M2115 561h0M2121 561h0M2346 561h0M2079 564h0M2115 564h0M2124 564h3M2205 564h0M2217 564h6M2280 564h0M2289 564h0M2037 567h0M2118 567h0M2133 567h3M2340 567h0M2124 570h3M2166 570h0M2256 570h0M2103 573h0M2109 573h0M2148 573h0M2169 573h0M2253 573h0M2274 573h0M2301 573h0M2091 576h0M2106 576h0M2115 576h0M2124 576h0M2136 576h3M2163 576h0M2172 576h0M2190 576h0M2124 579h0M2133 579h0M2142 579h0M2148 579h0M2154 579h0M2187 579h0M2328 579h0M2091 582h0M2106 582h0M2112 582h0M2127 582h0M2142 582h0M2148 582h0M2184 582h0M2208 582h3M2061 585h0M2091 585h0M2115 585h0M2139 585h0M2148 585h3M2160 585h3M2181 585h0M2331 585h0M2037 588h0M2049 588h0M2061 588h0M2070 588h0M2097 588h0M2115 588h0M2130 588h0M2169 588h0M2214 588h3M2250 588h0M2277 588h0M2064 591h3M2094 591h3M2106 591h0M2118 591h3M2142 591h0M2157 591h0M2178 591h0M2184 591h0M2250 591h0M2310 591h0M2319 591h0M2055 594h0M2067 594h0M2085 594h0M2106 594h15M2130 594h0M2139 594h0M2145 594h0M2160 594h3M2247 594h0M2313 594h0M2052 597h0M2070 597h0M2088 597h3M2100 597h3M2109 597h0M2115 597h3M2124 597h0M2136 597h3M2145 597h0M2154 597h0M2163 597h0M2175 597h0M2211 597h0M2301 597h0M2310 597h0M2076 600h0M2100 600h6M2112 600h0M2118 600h0M2124 600h3M2133 600h9M2151 600h0M2160 600h0M2169 600h0M2193 600h0M2241 600h0M2298 600h0M2070 603h0M2079 603h12M2097 603h0M2106 603h3M2115 603h6M2127 603h12M2157 603h0M2247 603h0M1995 606h0M2049 606h0M2058 606h0M2079 606h0M2085 606h0M2091 606h6M2103 606h3M2115 606h3M2124 606h9M2142 606h12M2190 606h6M2280 606h0M2040 609h0M2067 609h3M2079 609h6M2091 609h0M2106 609h12M2124 609h9M2139 609h0M2145 609h0M2172 609h3M2217 609h0M2052 612h0M2058 612h0M2070 612h0M2082 612h0M2088 612h3M2097 612h0M2106 612h3M2115 612h3M2124 612h6M2139 612h0M2145 612h6M2166 612h0M2190 612h0M2202 612h0M2271 612h0M2046 615h0M2082 615h6M2094 615h6M2106 615h0M2112 615h6M2124 615h6M2136 615h3M2145 615h3M2154 615h0M2232 615h0M2046 618h0M2058 618h6M2070 618h0M2079 618h21M2106 618h3M2115 618h3M2127 618h0M2145 618h3M2154 618h3M2166 618h6M2178 618h0M2034 621h0M2064 621h0M2073 621h3M2085 621h0M2091 621h12M2109 621h0M2115 621h0M2124 621h0M2130 621h9M2145 621h3M2154 621h6M2175 621h0M2031 624h0M2058 624h0M2070 624h0M2085 624h3M2094 624h9M2112 624h12M2139 624h15M2166 624h0M2049 627h0M2055 627h3M2064 627h0M2073 627h9M2091 627h0M2100 627h0M2106 627h24M2136 627h3M2148 627h0M2169 627h0M2322 627h0M2016 630h0M2031 630h0M2043 630h3M2052 630h0M2058 630h3M2070 630h0M2076 630h3M2088 630h6M2103 630h0M2109 630h6M2121 630h3M2130 630h0M2142 630h0M2154 630h6M2034 633h3M2046 633h0M2055 633h3M2067 633h0M2073 633h0M2082 633h6M2094 633h6M2106 633h12M2124 633h3M2145 633h3M2157 633h0M2163 633h0M2016 636h0M2025 636h0M2037 636h0M2043 636h0M2049 636h0M2058 636h0M2064 636h0M2070 636h3M2079 636h6M2091 636h18M2115 636h9M2130 636h0M2142 636h3M2151 636h3M2160 636h0M2169 636h0M2193 636h0M2025 639h0M2040 639h3M2049 639h3M2058 639h15M2079 639h0M2085 639h6M2097 639h0M2103 639h6M2115 639h3M2127 639h18M2151 639h3M2172 639h3M2019 642h0M2028 642h0M2037 642h3M2046 642h6M2061 642h9M2079 642h21M2106 642h21M2136 642h0M2145 642h9M2160 642h0M2175 642h0M2010 645h0M2025 645h0M2040 645h6M2052 645h0M2058 645h0M2064 645h0M2070 645h0M2076 645h3M2085 645h0M2091 645h9M2109 645h3M2118 645h0M2124 645h0M2130 645h0M2139 645h3M2019 648h0M2037 648h0M2046 648h9M2061 648h3M2070 648h6M2082 648h6M2094 648h0M2103 648h6M2115 648h9M2133 648h6M2157 648h0M2013 651h0M2022 651h0M2028 651h3M2043 651h3M2055 651h18M2085 651h12M2103 651h6M2121 651h0M2127 651h12M2151 651h0M2028 654h0M2040 654h0M2046 654h0M2052 654h0M2067 654h3M2079 654h0M2085 654h6M2097 654h0M2103 654h18M2127 654h0M2133 654h0M2139 654h0M2145 654h0M2172 654h0M2016 657h0M2031 657h15M2052 657h0M2058 657h0M2064 657h0M2070 657h3M2082 657h9M2097 657h6M2109 657h6M2127 657h0M2166 657h0M2010 660h3M2019 660h0M2025 660h3M2034 660h6M2046 660h3M2055 660h3M2064 660h0M2073 660h6M2097 660h9M2112 660h0M2118 660h0M2124 660h0M2136 660h3M2145 660h3M2154 660h0M2160 660h0M1998 663h0M2028 663h3M2037 663h3M2049 663h9M2064 663h9M2082 663h0M2088 663h27M2124 663h0M2130 663h0M2136 663h3M2019 666h0M2043 666h0M2052 666h0M2058 666h21M2085 666h0M2097 666h6M2109 666h3M2121 666h3M2139 666h0M2148 666h0M2160 666h0M2001 669h3M2010 669h0M2019 669h3M2028 669h3M2043 669h0M2049 669h27M2082 669h3M2100 669h9M2118 669h3M2016 672h6M2031 672h0M2037 672h12M2058 672h3M2076 672h18M2118 672h3M2127 672h3M2010 675h0M2025 675h3M2034 675h0M2043 675h0M2049 675h15M2085 675h3M2097 675h0M2106 675h0M2133 675h0M2160 675h0M2019 678h3M2028 678h6M2040 678h3M2049 678h6M2061 678h0M2067 678h15M2091 678h3M2118 678h0M1992 681h0M2010 681h0M2016 681h0M2025 681h0M2037 681h0M2052 681h0M2067 681h0M2076 681h0M2094 681h0M2100 681h0M2121 681h0M2127 681h0M2013 684h0M2022 684h0M2028 684h0M2037 684h6M2049 684h6M2061 684h6M2076 684h0M2082 684h6M2094 684h0M2019 687h0M2025 687h0M2031 687h3M2040 687h3M2052 687h9M2070 687h0M2079 687h0M2088 687h0M2094 687h0M2103 687h0M2007 690h0M2019 690h0M2037 690h6M2055 690h18M2085 690h0M2097 690h0M2112 690h3M2022 693h0M2031 693h0M2043 693h3M2052 693h3M2067 693h9M2085 693h0M2094 693h0M2109 693h0M2151 693h0M2007 696h0M2022 696h0M2034 696h6M2049 696h6M2061 696h0M2079 696h0M2091 696h0M1998 699h0M2022 699h0M2037 699h0M2055 699h0M2061 699h3M2073 699h9M2091 699h0M2034 702h0M2040 702h0M2055 702h0M2073 702h0M2034 705h9M2064 705h0M2085 705h0M2040 708h0M2058 708h0M2034 711h0M2064 711h0M2118 711h0M2094 714h0M1986 717h0M2046 723h0"/><path d="M2265 276h0M2256 282h0M2361 297h0M2283 315h0M2289 315h0M2322 315h0M2286 327h0M2295 327h0M2304 327h0M2316 327h0M2370 327h0M2340 339h0M2268 342h0M2334 345h0M2295 348h0M2238 351h0M2274 354h0M2322 354h0M2232 357h0M2283 357h0M2319 357h0M2376 357h0M2250 360h0M2319 360h0M2319 363h0M2253 366h0M2274 366h0M2226 369h0M2265 369h0M2328 369h0M2292 372h0M2238 375h0M2217 381h0M2154 384h0M2226 384h0M2265 384h0M2283 384h0M2166 387h0M2241 387h0M2259 387h0M2307 387h0M2208 390h0M2229 390h0M2247 390h0M2259 390h3M2289 390h0M2241 393h0M2262 393h0M2268 393h0M2229 396h0M2265 396h0M2247 399h0M2277 399h0M2349 402h0M2265 405h0M2283 408h0M2289 408h0M2340 408h0M2175 411h0M2196 411h0M2244 411h0M2271 411h0M2286 411h0M2313 411h0M2190 417h0M2253 420h0M2271 423h0M2223 426h0M2244 426h0M2208 438h0M2184 447h0M2211 447h0M2196 450h0M2268 450h0M2196 453h0M2169 462h0M2187 462h0M2232 465h0M2148 474h0M2154 474h0M2124 477h0M2265 480h0M2109 486h0M2193 486h0M2124 498h0M2100 504h0M2115 504h0M2196 504h0M2163 507h0M2418 507h0M2109 510h0M2268 516h0M2202 519h0M2244 519h0M2136 525h0M2160 525h0M2133 528h0M2127 531h0M2172 531h3M2181 531h0M2247 531h0M2310 531h0M2346 531h0M2352 531h0M2124 537h0M2232 537h0M2148 540h0M2157 540h0M2172 540h0M2226 540h0M2262 540h0M2292 540h0M2388 540h0M2184 543h0M2199 543h0M2313 543h0M2328 543h0M2385 543h0M2127 546h0M2160 546h0M2217 546h0M2238 546h0M2259 546h0M2301 546h0M2151 549h0M2214 549h0M2280 549h0M2115 552h0M2238 552h0M2268 552h0M2280 552h0M2328 552h0M2094 555h0M2112 555h0M2121 555h0M2253 555h0M2274 555h0M2115 558h0M2142 558h0M2190 558h0M2208 558h0M2229 558h0M2247 558h0M2211 561h0M2133 564h0M2160 564h0M2172 564h0M2202 564h0M2217 564h0M2265 564h0M2151 567h0M2163 567h0M2184 567h0M2190 567h3M2130 570h3M2154 570h3M2163 570h0M2268 570h3M2295 570h0M2331 570h0M2127 573h0M2136 573h0M2172 573h0M2196 573h0M2235 573h0M2247 573h0M2427 573h0M2094 576h3M2166 576h0M2079 579h3M2100 579h0M2109 579h3M2130 579h3M2148 579h0M2172 579h0M2259 579h0M2325 579h0M2088 582h0M2097 582h0M2109 582h0M2115 582h6M2136 582h0M2148 582h3M2184 582h3M2079 585h0M2100 585h0M2115 585h3M2127 585h0M2148 585h6M2166 585h3M2178 585h0M2271 585h0M2076 588h0M2082 588h0M2100 588h0M2112 588h0M2151 588h3M2208 588h0M2247 588h0M2292 588h0M2085 591h0M2097 591h12M2115 591h0M2121 591h6M2142 591h0M2196 591h0M2202 591h0M2247 591h0M2271 591h0M2289 591h0M2055 594h0M2073 594h0M2082 594h0M2106 594h9M2121 594h3M2130 594h3M2139 594h0M2145 594h3M2172 594h0M2220 594h3M2274 594h0M2028 597h0M2049 597h0M2058 597h0M2067 597h0M2076 597h0M2088 597h0M2103 597h6M2115 597h0M2121 597h0M2133 597h6M2145 597h0M2151 597h0M2157 597h9M2172 597h0M2181 597h0M2046 600h3M2082 600h0M2088 600h3M2097 600h6M2112 600h0M2118 600h0M2127 600h0M2139 600h12M2157 600h3M2166 600h0M2190 600h0M2049 603h0M2061 603h0M2079 603h0M2085 603h9M2100 603h0M2106 603h12M2130 603h6M2142 603h0M2151 603h3M2166 603h0M2178 603h0M2055 606h0M2067 606h0M2073 606h0M2091 606h6M2103 606h3M2115 606h0M2121 606h3M2130 606h0M2136 606h3M2148 606h0M2154 606h3M2163 606h3M2298 606h0M2046 609h0M2064 609h0M2079 609h0M2085 609h0M2097 609h9M2112 609h18M2139 609h9M2154 609h3M2163 609h0M2286 609h0M2052 612h0M2058 612h0M2067 612h3M2079 612h3M2088 612h0M2094 612h0M2100 612h15M2124 612h0M2136 612h3M2148 612h0M2154 612h9M2175 612h0M2262 612h0M2052 615h0M2067 615h0M2076 615h0M2091 615h3M2100 615h0M2109 615h60M2178 615h3M2232 615h0M2040 618h0M2058 618h3M2067 618h6M2079 618h9M2094 618h9M2109 618h0M2118 618h12M2136 618h12M2157 618h6M2172 618h0M2181 618h0M2196 618h0M2052 621h3M2061 621h0M2070 621h0M2076 621h9M2094 621h3M2103 621h6M2115 621h3M2124 621h12M2142 621h3M2157 621h3M2166 621h0M2184 621h0M2046 624h6M2061 624h0M2067 624h3M2076 624h18M2100 624h0M2106 624h6M2118 624h3M2130 624h6M2142 624h3M2157 624h0M2028 627h0M2034 627h0M2046 627h3M2058 627h0M2064 627h0M2070 627h6M2088 627h0M2094 627h21M2121 627h6M2133 627h0M2139 627h3M2154 627h0M2160 627h0M2190 627h0M2028 630h3M2046 630h6M2058 630h0M2064 630h6M2076 630h3M2085 630h0M2091 630h6M2106 630h0M2112 630h0M2118 630h3M2127 630h3M2139 630h0M2145 630h15M2013 633h0M2046 633h9M2061 633h15M2088 633h6M2100 633h21M2133 633h0M2139 633h0M2145 633h0M2154 633h0M2175 633h0M2199 633h0M2025 636h0M2031 636h3M2043 636h0M2049 636h0M2055 636h12M2073 636h0M2079 636h0M2088 636h6M2103 636h3M2112 636h3M2121 636h12M2139 636h0M2148 636h9M2199 636h0M2316 636h0M2028 639h3M2046 639h12M2064 639h3M2076 639h0M2085 639h3M2094 639h0M2100 639h24M2133 639h9M2148 639h0M2013 642h0M2034 642h0M2046 642h6M2064 642h9M2097 642h18M2121 642h9M2136 642h6M2151 642h6M2163 642h0M2169 642h0M2034 645h9M2049 645h9M2064 645h3M2076 645h9M2091 645h9M2106 645h9M2121 645h9M2136 645h0M2142 645h0M2166 645h0M2016 648h0M2034 648h6M2046 648h3M2061 648h24M2094 648h3M2103 648h0M2112 648h0M2121 648h6M2136 648h0M2145 648h0M2157 648h0M2034 651h0M2043 651h6M2061 651h3M2070 651h6M2088 651h0M2094 651h0M2106 651h15M2127 651h9M2151 651h6M2175 651h0M2019 654h3M2031 654h0M2037 654h3M2049 654h0M2058 654h9M2073 654h9M2088 654h15M2112 654h6M2124 654h3M2136 654h0M2142 654h3M2160 654h3M2001 657h0M2019 657h9M2034 657h6M2046 657h0M2052 657h0M2064 657h0M2079 657h0M2085 657h0M2091 657h3M2103 657h6M2118 657h3M2127 657h3M2136 657h3M2148 657h0M2154 657h0M2175 657h0M2016 660h3M2025 660h6M2040 660h0M2046 660h6M2058 660h12M2076 660h0M2082 660h12M2112 660h6M2019 663h0M2025 663h0M2034 663h3M2049 663h9M2064 663h0M2076 663h0M2082 663h3M2091 663h3M2100 663h3M2109 663h0M2115 663h0M2127 663h0M2139 663h0M2010 666h0M2031 666h6M2043 666h0M2055 666h0M2061 666h6M2073 666h12M2091 666h12M2109 666h3M2118 666h0M2124 666h0M2133 666h0M2142 666h0M2028 669h0M2037 669h3M2046 669h0M2052 669h0M2058 669h3M2070 669h0M2076 669h0M2082 669h15M2103 669h6M2115 669h0M2121 669h3M2022 672h0M2052 672h9M2067 672h15M2088 672h0M2097 672h18M2121 672h0M2148 672h0M1998 675h0M2022 675h0M2028 675h0M2037 675h0M2043 675h0M2049 675h18M2073 675h0M2079 675h0M2091 675h0M2097 675h3M2106 675h0M2115 675h0M2121 675h3M2016 678h3M2028 678h0M2034 678h0M2043 678h9M2058 678h3M2070 678h9M2094 678h0M2100 678h0M2106 678h0M2019 681h0M2025 681h3M2034 681h9M2049 681h3M2058 681h0M2064 681h12M2097 681h0M2124 681h3M2007 684h0M2016 684h0M2031 684h3M2046 684h0M2064 684h0M2070 684h3M2109 684h0M2025 687h0M2034 687h6M2052 687h3M2064 687h0M2079 687h0M2085 687h0M2091 687h0M2106 687h0M2010 690h0M2019 690h3M2028 690h9M2049 690h6M2061 690h0M2067 690h12M2094 690h0M2112 690h0M2127 690h0M2016 693h0M2022 693h0M2046 693h0M2106 693h0M2013 696h0M2025 696h0M2040 696h3M2049 696h0M2058 696h0M2070 696h0M2091 696h0M2040 699h0M2046 699h0M2058 699h0M2064 699h0M2082 699h0M2088 699h0M2004 702h0M2031 702h0M2040 702h0M2058 702h0M2103 702h0M2136 702h0M2019 705h0M2028 705h0M1959 708h0M2058 708h6M2082 708h0M2013 711h0M2142 711h0M2043 714h3M2058 714h0M2013 717h0M2064 726h0M2007 756h0"/><path d="M2355 243h0M2319 291h0M2325 291h0M2268 303h0M2274 309h0M2388 312h0M2358 315h0M2367 315h0M2319 318h0M2295 330h0M2328 333h0M2295 342h0M2250 345h0M2229 351h0M2283 351h0M2262 354h0M2283 354h0M2292 354h3M2322 354h0M2349 354h0M2274 357h0M2286 360h0M2343 360h0M2229 369h0M2256 369h0M2271 369h0M2310 369h0M2304 372h0M2280 375h0M2298 375h0M2325 375h0M2160 378h0M2268 378h3M2286 378h0M2262 384h0M2277 390h0M2253 396h0M2235 399h0M2244 399h0M2277 399h0M2226 402h0M2238 402h0M2271 402h0M2370 402h0M2229 405h0M2259 405h0M2175 408h0M2244 408h0M2253 408h0M2250 411h0M2268 414h0M2214 420h0M2256 420h0M2319 423h0M2253 426h0M2274 426h0M2226 429h0M2160 432h0M2271 432h0M2202 441h0M2271 444h0M2235 447h0M2178 450h0M2178 453h0M2208 453h0M2193 456h0M2205 456h0M2202 462h0M2226 468h0M2256 468h0M2181 474h0M2190 477h0M2139 480h0M2235 483h0M2220 486h0M2193 489h0M2271 495h0M2160 498h0M2196 498h0M2154 504h0M2121 507h0M2196 522h0M2268 522h0M2142 525h0M2274 525h0M2115 528h0M2223 528h0M2169 531h0M2175 531h0M2103 534h0M2136 534h0M2262 534h0M2286 534h0M2304 534h0M2145 537h0M2172 537h0M2178 537h0M2295 537h0M2304 537h0M2118 540h0M2142 540h0M2247 540h0M2364 540h0M2145 543h3M2253 546h0M2145 549h0M2151 549h0M2184 549h0M2250 549h0M2280 549h0M2121 552h0M2145 552h0M2169 552h0M2181 552h0M2196 552h0M2091 555h3M2154 555h0M2199 555h0M2223 555h0M2259 555h0M2289 555h0M2307 555h0M2118 558h0M2133 558h0M2148 558h0M2196 558h0M2247 558h0M2328 558h0M2133 561h0M2196 561h0M2202 561h0M2232 561h0M2376 561h0M2052 564h0M2103 564h0M2142 564h3M2163 564h0M2181 564h0M2217 564h0M2268 564h0M2328 564h0M2088 567h0M2118 567h0M2139 567h6M2211 567h0M2280 567h0M2289 567h0M2298 567h0M2307 567h0M2325 567h0M2097 570h0M2106 570h0M2130 570h3M2142 570h3M2202 570h0M2238 570h0M2334 570h0M2058 573h0M2133 573h0M2151 573h3M2160 573h0M2184 573h0M2271 573h0M2091 576h3M2103 576h3M2124 576h0M2142 576h0M2178 576h0M2220 576h0M2115 579h0M2124 579h0M2133 579h0M2175 579h0M2196 579h0M2229 579h0M2280 579h0M2340 579h0M2079 582h0M2112 582h0M2124 582h0M2139 582h0M2145 582h0M2160 582h0M2178 582h0M2205 582h0M2268 582h0M2082 585h0M2103 585h0M2112 585h0M2121 585h0M2136 585h0M2142 585h0M2154 585h0M2262 585h0M2094 588h6M2106 588h0M2112 588h0M2118 588h0M2124 588h0M2133 588h6M2169 588h0M2214 588h0M2250 588h0M2076 591h0M2085 591h0M2097 591h3M2115 591h0M2121 591h3M2130 591h0M2148 591h0M2175 591h0M2184 591h0M2238 591h0M2289 591h0M2064 594h0M2085 594h0M2100 594h0M2112 594h0M2127 594h0M2136 594h0M2151 594h0M2163 594h0M2184 594h0M2064 597h0M2085 597h3M2100 597h3M2112 597h0M2118 597h3M2127 597h3M2139 597h3M2151 597h0M2163 597h0M2193 597h0M2214 597h0M2241 597h0M2049 600h0M2079 600h0M2085 600h3M2094 600h9M2109 600h0M2115 600h0M2124 600h12M2142 600h3M2151 600h0M2160 600h6M2175 600h0M2325 600h0M2076 603h3M2091 603h0M2097 603h3M2115 603h21M2142 603h0M2148 603h9M2163 603h0M2169 603h0M2175 603h3M2196 603h0M2313 603h0M2046 606h3M2070 606h0M2091 606h0M2097 606h9M2112 606h6M2127 606h0M2145 606h12M2169 606h0M2037 609h0M2067 609h0M2073 609h9M2088 609h12M2112 609h0M2118 609h3M2127 609h0M2136 609h3M2145 609h0M2154 609h3M2175 609h0M2049 612h0M2073 612h0M2079 612h0M2094 612h9M2118 612h6M2136 612h0M2145 612h0M2151 612h3M2163 612h3M2199 612h0M2235 612h0M2040 615h0M2052 615h0M2064 615h0M2073 615h0M2079 615h0M2085 615h3M2094 615h0M2100 615h6M2115 615h0M2124 615h3M2133 615h3M2142 615h0M2148 615h6M2160 615h0M2169 615h0M2274 615h0M2280 615h0M2046 618h0M2064 618h0M2070 618h6M2085 618h9M2100 618h15M2124 618h6M2139 618h6M2154 618h3M2163 618h0M2220 618h0M2046 621h0M2055 621h0M2061 621h21M2088 621h6M2100 621h0M2106 621h0M2112 621h6M2124 621h3M2133 621h3M2142 621h3M2151 621h0M2175 621h0M2181 621h0M2052 624h0M2061 624h0M2067 624h0M2073 624h0M2082 624h6M2103 624h6M2118 624h12M2136 624h6M2148 624h0M2157 624h0M2163 624h3M2175 624h0M2037 627h0M2046 627h3M2055 627h27M2088 627h6M2100 627h0M2109 627h6M2121 627h0M2127 627h9M2151 627h0M2160 627h3M2274 627h0M2031 630h0M2040 630h0M2052 630h0M2058 630h3M2070 630h9M2091 630h3M2100 630h0M2109 630h6M2121 630h3M2133 630h6M2145 630h3M2169 630h0M2241 630h0M2031 633h0M2064 633h12M2082 633h0M2088 633h3M2106 633h3M2115 633h24M2151 633h3M2040 636h6M2058 636h0M2064 636h6M2076 636h9M2091 636h3M2100 636h24M2130 636h3M2139 636h0M2145 636h3M2154 636h0M2160 636h0M2172 636h0M2013 639h0M2028 639h3M2037 639h3M2046 639h0M2052 639h0M2064 639h9M2079 639h0M2085 639h6M2100 639h15M2124 639h3M2133 639h0M2139 639h0M2151 639h0M2160 639h0M2022 642h9M2037 642h3M2049 642h0M2058 642h0M2064 642h12M2082 642h9M2100 642h9M2118 642h0M2127 642h0M2133 642h6M2154 642h0M1998 645h0M2022 645h0M2037 645h0M2046 645h9M2061 645h0M2070 645h0M2076 645h3M2085 645h9M2103 645h9M2121 645h6M2136 645h0M2163 645h0M2175 645h0M2010 648h0M2040 648h15M2061 648h0M2070 648h0M2076 648h3M2085 648h0M2091 648h0M2097 648h15M2118 648h0M2124 648h0M2130 648h0M2136 648h0M2142 648h6M2154 648h0M2169 648h0M1992 651h0M2013 651h9M2037 651h0M2046 651h6M2058 651h3M2073 651h0M2079 651h3M2091 651h3M2103 651h3M2121 651h12M2139 651h0M2145 651h0M2001 654h0M2022 654h3M2031 654h0M2037 654h0M2043 654h0M2049 654h3M2058 654h6M2070 654h0M2076 654h3M2085 654h12M2103 654h12M2121 654h0M2127 654h0M2136 654h0M2142 654h0M2148 654h0M2169 654h0M2004 657h0M2019 657h0M2028 657h3M2037 657h0M2043 657h0M2049 657h6M2061 657h9M2076 657h0M2088 657h9M2103 657h0M2115 657h0M2121 657h21M2154 657h0M2004 660h0M2019 660h3M2028 660h0M2034 660h0M2040 660h3M2049 660h0M2055 660h3M2064 660h0M2070 660h0M2076 660h3M2085 660h3M2094 660h0M2109 660h0M2118 660h3M2139 660h0M2151 660h0M2007 663h9M2025 663h36M2076 663h12M2097 663h6M2109 663h0M2115 663h3M2124 663h0M2133 663h0M2022 666h0M2028 666h12M2046 666h9M2061 666h12M2085 666h3M2094 666h9M2112 666h0M2118 666h3M2001 669h0M2010 669h0M2025 669h3M2037 669h0M2046 669h3M2061 669h12M2079 669h9M2094 669h0M2100 669h6M2112 669h6M2127 669h0M2139 669h0M2145 669h0M1989 672h0M2019 672h0M2028 672h9M2043 672h6M2055 672h0M2061 672h6M2073 672h0M2085 672h0M2106 672h0M2121 672h0M2133 672h0M2139 672h0M1995 675h0M2019 675h3M2028 675h3M2037 675h0M2043 675h0M2049 675h0M2055 675h0M2061 675h6M2073 675h0M2079 675h3M2091 675h0M2097 675h3M2106 675h0M2112 675h0M2139 675h0M2145 675h0M2154 675h0M2019 678h3M2055 678h0M2064 678h0M2070 678h0M2076 678h6M2088 678h0M2100 678h12M2016 681h3M2025 681h3M2034 681h0M2043 681h0M2049 681h0M2055 681h3M2070 681h6M2082 681h0M2097 681h0M2115 681h3M2127 681h0M2013 684h0M2025 684h3M2034 684h0M2040 684h3M2052 684h0M2058 684h6M2070 684h0M2079 684h15M2100 684h0M2115 684h0M2133 684h0M2016 687h0M2022 687h0M2028 687h0M2034 687h3M2043 687h6M2055 687h0M2061 687h6M2073 687h3M2085 687h0M2091 687h3M2139 687h0M2016 690h3M2025 690h0M2034 690h0M2043 690h6M2058 690h9M2073 690h3M2118 690h0M2025 693h0M2040 693h12M2064 693h0M2073 693h0M2079 693h6M2103 693h0M2124 693h0M1962 696h0M2022 696h9M2037 696h3M2052 696h0M2061 696h0M2067 696h0M2076 696h0M2082 696h0M2040 699h0M2076 699h0M2088 699h3M2061 702h0M2070 702h3M2103 702h0M2043 705h0M2049 705h0M2040 708h0M2076 708h0M2040 711h0M2061 711h0M2070 711h0M2088 711h0M2100 714h0"/><path d="M2313 258h0M2304 267h0M2334 291h0M2361 306h0M2265 309h0M2271 312h0M2316 312h0M2271 315h0M2274 321h0M2286 321h0M2220 327h0M2226 327h0M2274 327h0M2325 327h0M2268 333h0M2247 336h0M2304 339h0M2241 342h0M2256 345h0M2277 345h0M2310 345h0M2328 348h0M2247 351h0M2346 357h0M2235 360h0M2316 363h0M2271 366h0M2316 366h0M2322 366h0M2307 369h0M2313 369h0M2325 372h0M2262 375h3M2280 375h0M2352 378h0M2265 384h0M2286 387h0M2268 393h0M2280 393h0M2295 393h0M2247 396h3M2340 396h0M2283 399h0M2304 399h0M2280 405h0M2292 405h0M2304 405h0M2247 408h0M2229 411h0M2265 411h0M2106 414h0M2238 417h0M2319 417h0M2265 423h0M2253 426h0M2175 429h0M2208 429h0M2253 429h0M2190 432h3M2184 435h0M2202 435h0M2235 435h0M2289 435h0M2199 441h0M2268 441h0M2274 441h0M2295 444h0M2229 450h0M2295 450h0M2211 456h0M2184 459h0M2175 465h3M2172 468h0M2325 468h0M2193 471h0M2208 471h0M2127 480h0M2169 480h0M2160 483h0M2199 489h0M2205 492h0M2160 507h0M2190 507h0M2151 513h0M2121 519h0M2289 519h0M2211 522h0M2310 522h0M2415 522h0M2178 525h0M2205 525h0M2361 525h0M2178 528h0M2208 528h0M2220 528h0M2157 531h0M2163 531h0M2187 531h0M2157 534h0M2160 537h0M2202 537h0M2298 540h0M2109 543h0M2157 543h0M2277 543h0M2205 546h3M2217 546h3M2238 546h0M2268 549h0M2352 549h0M2175 552h0M2265 552h0M2361 552h0M2148 555h0M2217 555h0M2181 558h0M2208 558h0M2328 558h0M2142 561h3M2151 561h0M2190 561h0M2202 561h0M2235 561h3M2304 561h0M2115 564h0M2187 564h0M2259 564h0M2088 567h0M2151 567h0M2181 567h0M2199 567h0M2271 567h0M2124 570h0M2082 573h0M2097 573h0M2118 573h0M2136 573h0M2181 573h0M2211 573h0M2226 573h0M2238 573h0M2256 573h0M2268 573h0M2274 573h0M2307 573h0M2103 576h3M2181 576h0M2190 576h0M2226 576h0M2349 576h0M2082 579h0M2088 579h0M2100 579h0M2127 579h0M2136 579h0M2193 579h0M2199 579h0M2283 579h0M2337 579h0M2082 582h0M2109 582h0M2133 582h0M2145 582h0M2166 582h0M2172 582h0M2187 582h0M2052 585h0M2070 585h0M2085 585h0M2115 585h0M2124 585h0M2136 585h0M2151 585h3M2163 585h3M2178 585h0M2190 585h3M2070 588h0M2103 588h3M2112 588h3M2121 588h0M2130 588h0M2139 588h3M2058 591h0M2103 591h0M2109 591h15M2139 591h0M2148 591h3M2160 591h0M2169 591h0M2175 591h0M2283 591h0M2079 594h3M2088 594h3M2112 594h3M2121 594h0M2127 594h0M2133 594h0M2166 594h0M2064 597h0M2082 597h0M2106 597h0M2115 597h3M2124 597h3M2139 597h15M2163 597h0M2064 600h0M2073 600h0M2085 600h0M2091 600h0M2100 600h0M2106 600h6M2121 600h0M2133 600h9M2148 600h3M2175 600h0M2202 600h0M2082 603h0M2094 603h0M2100 603h0M2106 603h0M2115 603h12M2133 603h15M2160 603h6M2196 603h0M2052 606h0M2076 606h3M2088 606h0M2094 606h3M2106 606h6M2118 606h0M2124 606h3M2136 606h0M2142 606h3M2160 606h0M2166 606h0M2172 606h0M2196 606h0M2070 609h0M2079 609h0M2085 609h3M2100 609h3M2115 609h45M2181 609h0M2190 609h0M2358 609h0M2061 612h3M2076 612h0M2082 612h3M2097 612h0M2103 612h12M2121 612h3M2136 612h3M2145 612h0M2157 612h3M2166 612h0M2175 612h0M2028 615h3M2052 615h0M2058 615h0M2067 615h3M2079 615h6M2091 615h0M2106 615h6M2124 615h9M2139 615h6M2151 615h0M2163 615h0M2169 615h0M2178 615h3M2211 615h0M2040 618h0M2073 618h18M2100 618h9M2115 618h9M2130 618h6M2142 618h0M2157 618h6M2178 618h0M2184 618h0M2226 618h0M2295 618h0M2007 621h0M2058 621h0M2064 621h0M2070 621h0M2076 621h6M2088 621h12M2109 621h12M2127 621h0M2136 621h3M2148 621h3M2043 624h0M2061 624h3M2073 624h0M2082 624h0M2088 624h0M2094 624h9M2109 624h9M2127 624h0M2133 624h6M2145 624h0M2154 624h0M2160 624h3M2199 624h0M2046 627h0M2052 627h0M2061 627h6M2073 627h0M2082 627h15M2103 627h3M2112 627h3M2121 627h0M2127 627h6M2139 627h9M2157 627h0M2163 627h3M2175 627h0M2031 630h0M2043 630h3M2052 630h0M2058 630h9M2076 630h3M2085 630h0M2091 630h27M2124 630h0M2139 630h0M2157 630h3M2166 630h0M2031 633h0M2037 633h0M2043 633h6M2058 633h0M2067 633h0M2073 633h12M2091 633h45M2142 633h0M2154 633h3M2163 633h0M2232 633h0M2295 633h0M2016 636h0M2022 636h0M2040 636h0M2049 636h0M2055 636h36M2100 636h0M2106 636h0M2121 636h21M2151 636h0M2160 636h0M2169 636h0M2031 639h0M2043 639h0M2049 639h0M2055 639h15M2076 639h3M2085 639h6M2097 639h18M2121 639h3M2133 639h3M2148 639h0M2157 639h0M2208 639h0M2031 642h24M2061 642h0M2067 642h3M2082 642h9M2100 642h24M2130 642h0M2136 642h0M2142 642h3M2178 642h0M2019 645h0M2028 645h6M2046 645h6M2064 645h0M2070 645h18M2097 645h3M2106 645h0M2139 645h0M2148 645h0M2154 645h0M2160 645h0M2022 648h0M2028 648h3M2037 648h3M2046 648h0M2052 648h0M2058 648h24M2088 648h3M2097 648h9M2112 648h3M2121 648h0M2130 648h0M2148 648h0M2169 648h0M2013 651h0M2031 651h9M2046 651h0M2052 651h3M2061 651h6M2076 651h0M2085 651h3M2094 651h12M2112 651h0M2121 651h9M2151 651h0M2016 654h0M2037 654h3M2046 654h3M2055 654h6M2067 654h27M2100 654h6M2112 654h0M2118 654h0M2124 654h6M2136 654h0M2142 654h0M2016 657h0M2022 657h0M2037 657h6M2052 657h6M2064 657h0M2070 657h0M2076 657h12M2094 657h0M2109 657h0M2118 657h0M2124 657h3M2133 657h3M2148 657h0M1998 660h0M2007 660h0M2025 660h0M2040 660h9M2058 660h15M2079 660h0M2088 660h3M2100 660h12M2121 660h0M2127 660h0M2133 660h0M2148 660h0M2019 663h39M2073 663h3M2085 663h6M2097 663h3M2106 663h0M2112 663h0M2121 663h3M2133 663h0M2019 666h3M2034 666h12M2052 666h0M2058 666h18M2082 666h0M2088 666h6M2100 666h0M2109 666h0M2115 666h3M2124 666h3M2019 669h0M2028 669h9M2043 669h0M2055 669h18M2085 669h3M2094 669h3M2103 669h3M2145 669h0M2010 672h0M2019 672h18M2049 672h0M2061 672h0M2073 672h6M2085 672h24M2118 672h0M2127 672h0M2019 675h0M2025 675h0M2040 675h3M2049 675h3M2058 675h3M2070 675h3M2079 675h6M2091 675h3M2103 675h3M2112 675h0M2145 675h0M2010 678h3M2031 678h3M2040 678h0M2046 678h9M2061 678h3M2070 678h0M2076 678h0M2082 678h0M2094 678h6M2106 678h0M2112 678h0M2004 681h0M2010 681h0M2025 681h0M2031 681h3M2040 681h6M2052 681h3M2070 681h6M2082 681h3M2097 681h0M2115 681h0M2016 684h6M2034 684h0M2040 684h0M2046 684h6M2061 684h3M2070 684h3M2082 684h3M2094 684h0M2106 684h0M2022 687h9M2037 687h3M2046 687h0M2052 687h3M2070 687h3M2079 687h0M2085 687h3M2109 687h3M2160 687h0M2010 690h0M2022 690h0M2028 690h0M2037 690h0M2061 690h3M2070 690h3M2079 690h3M2094 690h0M2112 690h0M2013 693h3M2031 693h0M2046 693h0M2055 693h3M2082 693h0M2100 693h3M2025 696h0M2034 696h0M2040 696h3M2052 696h3M2061 696h0M2067 696h0M2082 696h0M2088 696h0M2028 699h0M2040 699h0M2052 699h0M2070 699h0M2025 702h0M2031 702h6M2043 702h0M2049 702h0M2073 702h0M2082 702h0M2097 702h0M2109 702h0M2052 705h0M2073 705h0M2097 705h0M2046 708h0M2055 708h0M2061 708h0M2097 714h0M2070 717h0M2022 723h0"/></g><path d="M1910.5 141.0H2538.0V790.0" stroke="#a6a6a6" stroke-width="4" fill="none"/><path d="M1924.5 520.5H2538.0M2195.0 141.0V777.0" stroke="#9a9a9a" stroke-width="4.5" fill="none"/><path d="M1924.5 141.0V790.0M1911.5 777.0H2538.0" stroke="#959595" stroke-width="4" fill="none"/><path d="M1917.5 729.1H1924.5M1970.7 777.0V784.0M1917.5 701.1H1924.5M1997.7 777.0V784.0M1917.5 681.3H1924.5M2016.8 777.0V784.0M1917.5 665.9H1924.5M2031.7 777.0V784.0M1917.5 653.3H1924.5M2043.8 777.0V784.0M1917.5 642.6H1924.5M2054.1 777.0V784.0M1917.5 633.4H1924.5M2063.0 777.0V784.0M1917.5 625.3H1924.5M2070.9 777.0V784.0M1917.5 570.1H1924.5M2124.0 777.0V784.0M1917.5 542.1H1924.5M2151.1 777.0V784.0M1917.5 522.3H1924.5M2170.2 777.0V784.0M1917.5 506.9H1924.5M2185.1 777.0V784.0M1917.5 494.3H1924.5M2197.2 777.0V784.0M1917.5 483.6H1924.5M2207.5 777.0V784.0M1917.5 474.4H1924.5M2216.4 777.0V784.0M1917.5 466.3H1924.5M2224.2 777.0V784.0M1917.5 411.1H1924.5M2277.4 777.0V784.0M1917.5 383.1H1924.5M2304.4 777.0V784.0M1917.5 363.3H1924.5M2323.6 777.0V784.0M1917.5 347.9H1924.5M2338.5 777.0V784.0M1917.5 335.3H1924.5M2350.6 777.0V784.0M1917.5 324.6H1924.5M2360.9 777.0V784.0M1917.5 315.4H1924.5M2369.8 777.0V784.0M1917.5 307.3H1924.5M2377.6 777.0V784.0M1917.5 252.1H1924.5M2430.8 777.0V784.0M1917.5 224.1H1924.5M2457.8 777.0V784.0M1917.5 204.3H1924.5M2477.0 777.0V784.0M1917.5 188.9H1924.5M2491.8 777.0V784.0M1917.5 176.3H1924.5M2504.0 777.0V784.0M1917.5 165.6H1924.5M2514.2 777.0V784.0M1917.5 156.4H1924.5M2523.1 777.0V784.0M1917.5 148.3H1924.5M2531.0 777.0V784.0M1911.5 777.0H1924.5M1924.5 777.0V790.0M1911.5 618.0H1924.5M2077.9 777.0V790.0M1911.5 459.0H1924.5M2231.2 777.0V790.0M1911.5 300.0H1924.5M2384.6 777.0V790.0M1911.5 141.0H1924.5M2538.0 777.0V790.0" stroke="#9c9c9c" stroke-width="2.2" fill="none"/><text font-size="40.5" stroke="#000" stroke-width="1.3" transform="translate(1905.90 835.40) scale(0.9 1)">10</text><text font-size="29" stroke="#000" stroke-width="1.0" transform="translate(1941.54 817.00) scale(0.87 1)">0</text><text font-size="40.5" stroke="#000" stroke-width="1.3" transform="translate(1849.90 787.20) scale(0.9 1)">10</text><text font-size="29" stroke="#000" stroke-width="1.0" transform="translate(1885.54 767.20) scale(0.87 1)">0</text><text font-size="40.5" stroke="#000" stroke-width="1.3" transform="translate(2059.27 835.40) scale(0.9 1)">10</text><text font-size="29" stroke="#000" stroke-width="1.0" transform="translate(2093.66 817.00) scale(0.87 1)">1</text><text font-size="40.5" stroke="#000" stroke-width="1.3" transform="translate(1849.90 628.20) scale(0.9 1)">10</text><text font-size="29" stroke="#000" stroke-width="1.0" transform="translate(1884.28 608.20) scale(0.87 1)">1</text><text font-size="40.5" stroke="#000" stroke-width="1.3" transform="translate(2212.65 835.40) scale(0.9 1)">10</text><text font-size="29" stroke="#000" stroke-width="1.0" transform="translate(2248.14 817.00) scale(0.87 1)">2</text><text font-size="40.5" stroke="#000" stroke-width="1.3" transform="translate(1849.90 469.20) scale(0.9 1)">10</text><text font-size="29" stroke="#000" stroke-width="1.0" transform="translate(1885.39 449.20) scale(0.87 1)">2</text><text font-size="40.5" stroke="#000" stroke-width="1.3" transform="translate(2366.02 835.40) scale(0.9 1)">10</text><text font-size="29" stroke="#000" stroke-width="1.0" transform="translate(2401.42 817.00) scale(0.87 1)">3</text><text font-size="40.5" stroke="#000" stroke-width="1.3" transform="translate(1849.90 310.20) scale(0.9 1)">10</text><text font-size="29" stroke="#000" stroke-width="1.0" transform="translate(1885.29 290.20) scale(0.87 1)">3</text><text font-size="40.5" stroke="#000" stroke-width="1.3" transform="translate(2519.40 835.40) scale(0.9 1)">10</text><text font-size="29" stroke="#000" stroke-width="1.0" transform="translate(2555.51 817.00) scale(0.87 1)">4</text><text font-size="40.5" stroke="#000" stroke-width="1.3" transform="translate(1849.90 151.20) scale(0.9 1)">10</text><text font-size="29" stroke="#000" stroke-width="1.0" transform="translate(1886.01 131.20) scale(0.87 1)">4</text><text transform="translate(1798.0 456.0) rotate(-90)" font-size="63" text-anchor="middle">PI</text><text x="1999.20" y="948" font-size="63">Annexin</text><path d="M2235.6 902.2L2250.6 902.2L2250.6 904.2L2247.9 904.2L2258.2 937L2270.6 904.2L2264.6 904.2L2264.6 902.2L2278.6 902.2L2278.6 904.2L2273.4 904.2L2258.4 950.5L2255.2 950.5L2241.2 904.2L2235.6 904.2Z"/><rect x="2280.6" y="930.2" width="13.3" height="4"/><text x="2294.40" y="948" font-size="63">FITC</text><text x="2215.75" y="1071.6" font-size="63" text-anchor="middle">C</text><path d="M2880.8 239V880.5" stroke="#000" stroke-width="5" fill="none"/><path d="M2878.3 878H3736.5" stroke="#000" stroke-width="5" fill="none"/><path d="M2880 241.4H2907" stroke="#000" stroke-width="5.5" fill="none"/><path d="M2880 403.2H2903" stroke="#000" stroke-width="5.5" fill="none"/><path d="M2880 557H2903" stroke="#000" stroke-width="5.5" fill="none"/><path d="M2880 722.8H2903" stroke="#000" stroke-width="5.5" fill="none"/><path d="M3070.7 878V885" stroke="#000" stroke-width="5" fill="none"/><path d="M3357.4 878V885" stroke="#000" stroke-width="5" fill="none"/><path d="M3643 878V885" stroke="#000" stroke-width="5" fill="none"/><rect x="2970" y="808.8" width="200.2" height="69.2" fill="#000"/><rect x="3261" y="424.5" width="192.5" height="450" fill="#a6a5aa" stroke="#000" stroke-width="8"/><rect x="3547.6" y="692" width="185" height="183" fill="#646464" stroke="#000" stroke-width="8"/><path d="M3026 800.4H3114.5" stroke="#000" stroke-width="5" stroke-linecap="round" fill="none"/><path d="M3070.7 800.4V809" stroke="#000" stroke-width="4.2" fill="none"/><path d="M3311.5 396.5H3403" stroke="#000" stroke-width="5" stroke-linecap="round" fill="none"/><path d="M3357.4 396.5V421" stroke="#000" stroke-width="4.2" fill="none"/><path d="M3598.5 677H3688.5" stroke="#000" stroke-width="5" stroke-linecap="round" fill="none"/><path d="M3644.5 677V688" stroke="#000" stroke-width="4.2" fill="none"/><path d="M3084 361H3314.6M3390 364.5H3633.7" stroke="#000" stroke-width="8.5" stroke-linecap="round" fill="none"/><circle cx="3194.60" cy="315.20" r="2.3"/><circle cx="3202.65" cy="320.55" r="2.3"/><circle cx="3202.65" cy="329.85" r="2.3"/><circle cx="3194.60" cy="335.20" r="2.3"/><circle cx="3186.55" cy="320.55" r="2.3"/><circle cx="3186.55" cy="329.85" r="2.3"/><path d="M3195.10 325.20L3196.50 315.20L3192.70 315.20L3194.10 325.20ZM3194.85 325.63L3203.60 322.20L3201.70 318.90L3194.35 324.77ZM3194.35 325.63L3201.70 331.50L3203.60 328.20L3194.85 324.77ZM3194.10 325.20L3192.70 335.20L3196.50 335.20L3195.10 325.20ZM3194.85 324.77L3187.50 318.90L3185.60 322.20L3194.35 325.63ZM3194.35 324.77L3185.60 328.20L3187.50 331.50L3194.85 325.63Z"/><path d="M3511 315.5L3527 346H3495Z" stroke="#000" stroke-width="2.2" fill="none"/><text x="2846.5" y="272.8" font-size="62.5" text-anchor="end">20</text><text x="2846.5" y="431.5" font-size="62.5" text-anchor="end">15</text><text x="2846.5" y="587.5" font-size="62.5" text-anchor="end">10</text><text x="2846.5" y="743.7" font-size="62.5" text-anchor="end">5</text><text x="2846.5" y="890.4" font-size="62.5" text-anchor="end">0</text><g transform="translate(2702 786.3) rotate(-90)"><text x="-0.6" y="0" font-size="63" textLength="381.5" lengthAdjust="spacingAndGlyphs">Apoptotic rates</text><path d="M416 -40Q378 -17 416 6.5M538.6 -40Q576.8 -17 538.6 6.5M450.3 6.5L472 -41M485.6 8L527.8 -42.5" stroke="#000" stroke-width="3.3" fill="none"/><ellipse cx="492.4" cy="-27.5" rx="4.3" ry="9" stroke="#000" stroke-width="2.6" fill="none"/><ellipse cx="521" cy="-4.4" rx="4.3" ry="9" stroke="#000" stroke-width="2.6" fill="none"/><text x="417" y="0" font-size="57" font-style="italic">η</text></g><rect x="3026.3" y="32.2" width="78" height="36.1" fill="#000"/><rect x="3030.8" y="123.5" width="69" height="26" fill="#b2b2b2" stroke="#000" stroke-width="9"/><rect x="3030.8" y="213.9" width="69" height="26.7" fill="#8a8a8a" stroke="#000" stroke-width="9"/><text x="3138.5" y="70" font-size="63">Control</text><text x="3138.5" y="154" font-size="63">HG</text><text x="3138.5" y="246.8" font-size="63">HG+paeonol</text><text x="3274" y="1071.6" font-size="63" text-anchor="middle">D</text></svg></body></html>
